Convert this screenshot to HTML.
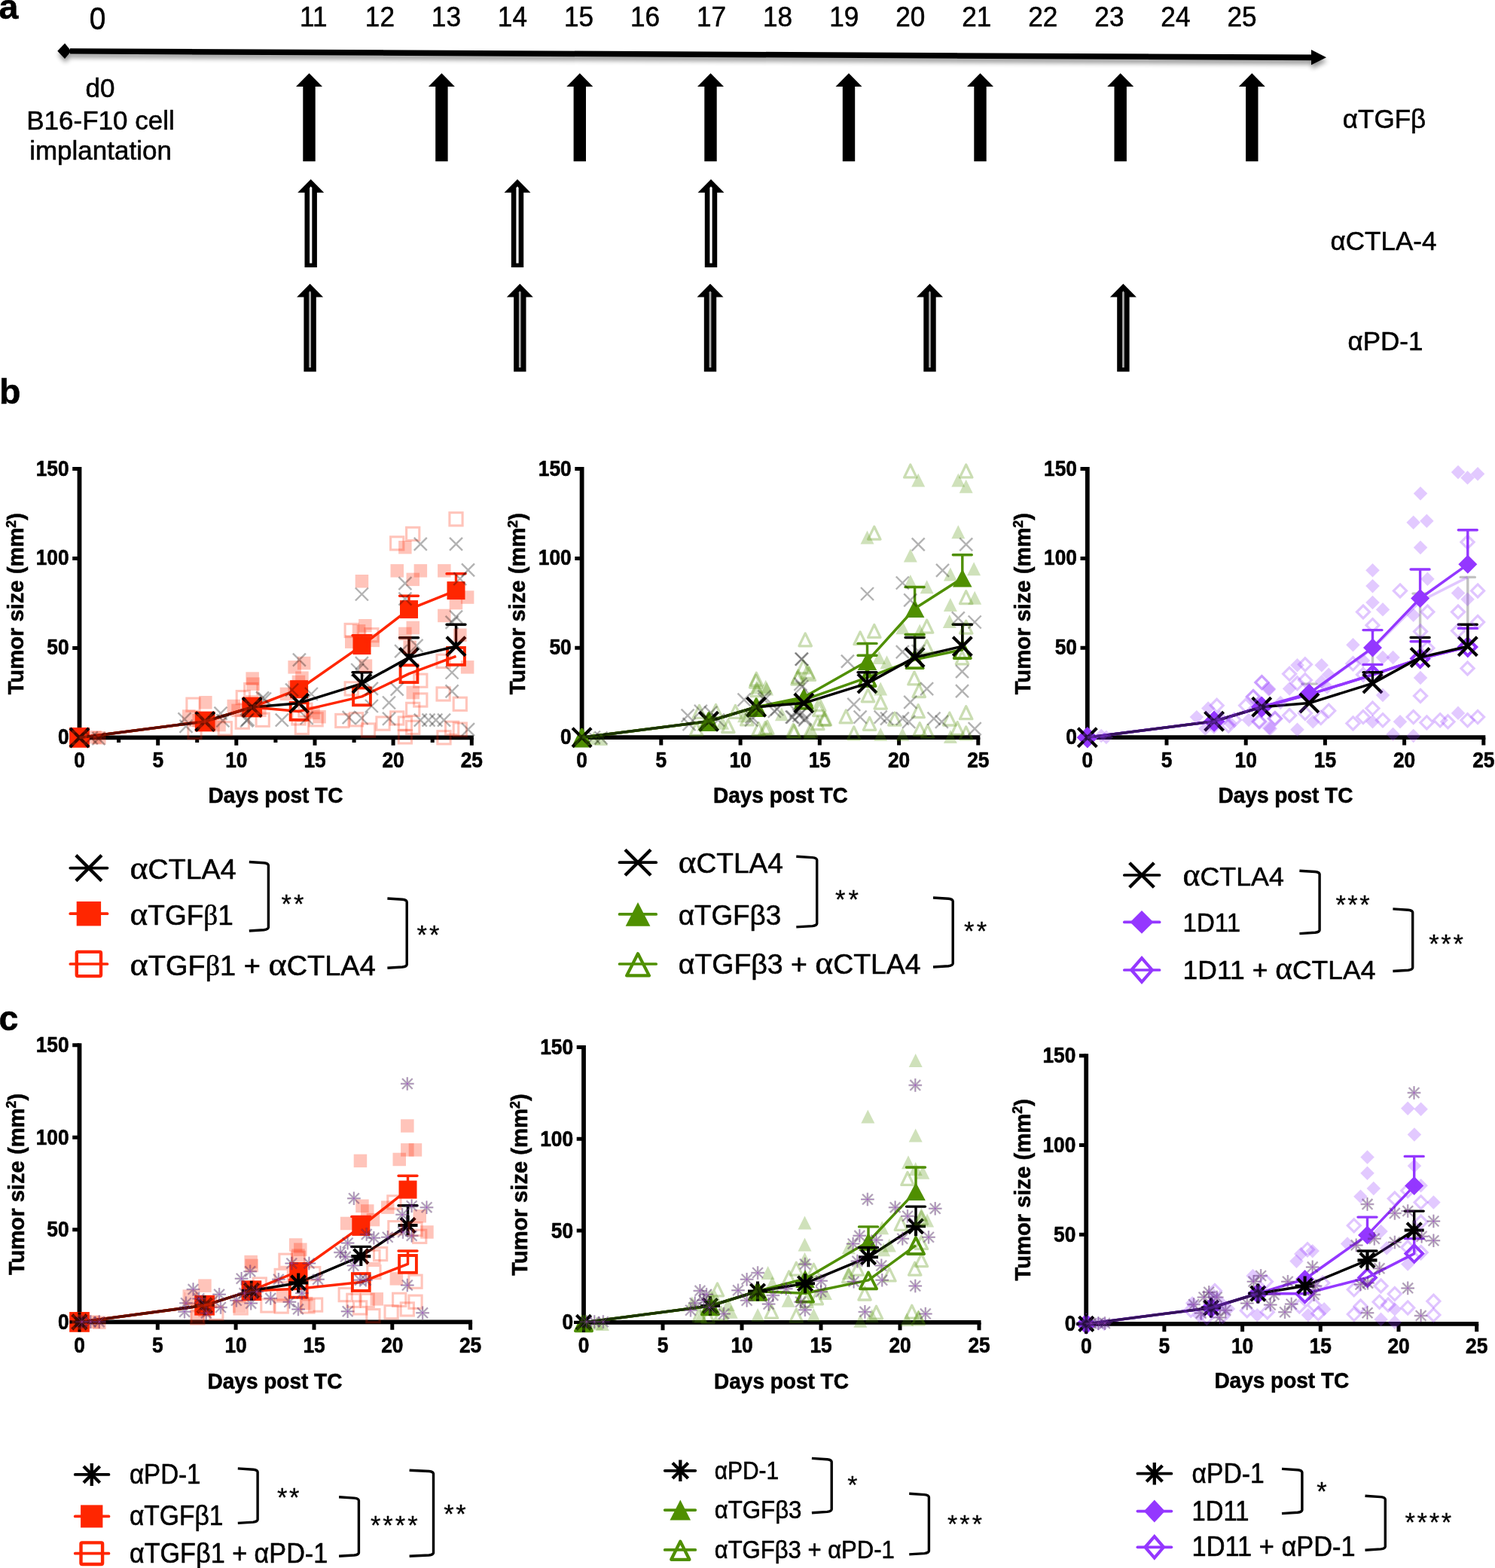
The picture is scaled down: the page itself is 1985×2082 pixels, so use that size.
<!DOCTYPE html>
<html lang="en">
<head>
<meta charset="utf-8">
<title>TGF-beta isoform blockade with checkpoint inhibitors: tumor growth</title>
<style>
html,body{margin:0;padding:0;background:#fff;}
body{width:1985px;height:2082px;}
svg{display:block;}
text{font-family:"Liberation Sans","DejaVu Sans",sans-serif;fill:#000;stroke:#000;stroke-width:0.55px;stroke-linejoin:round;}
.b{font-weight:bold;}
.sym{font-family:"Liberation Serif","DejaVu Serif",serif;}
</style>
</head>
<body>
<svg width="1985" height="2082" viewBox="0 0 1985 2082">
<defs>
<filter id="sh" x="-5%" y="-300%" width="110%" height="700%">
<feGaussianBlur in="SourceAlpha" stdDeviation="3"/>
<feOffset dx="0.5" dy="4.6" result="o"/>
<feComponentTransfer><feFuncA type="linear" slope="0.42"/></feComponentTransfer>
<feMerge><feMergeNode/><feMergeNode in="SourceGraphic"/></feMerge>
</filter>
</defs>
<rect width="1985" height="2082" fill="#fff"/>
<g id="panel-a">
<text class="b" x="-1.5" y="25.2" font-size="46.5">a</text>
<text transform="translate(129.5 38.5) scale(0.9 1)" font-size="43.3" text-anchor="middle">0</text>
<text transform="translate(416.3 35.4) scale(0.93 1)" font-size="37.8" text-anchor="middle">11</text>
<text transform="translate(504.4 35.4) scale(0.93 1)" font-size="37.8" text-anchor="middle">12</text>
<text transform="translate(592.4 35.4) scale(0.93 1)" font-size="37.8" text-anchor="middle">13</text>
<text transform="translate(680.4 35.4) scale(0.93 1)" font-size="37.8" text-anchor="middle">14</text>
<text transform="translate(768.5 35.4) scale(0.93 1)" font-size="37.8" text-anchor="middle">15</text>
<text transform="translate(856.5 35.4) scale(0.93 1)" font-size="37.8" text-anchor="middle">16</text>
<text transform="translate(944.6 35.4) scale(0.93 1)" font-size="37.8" text-anchor="middle">17</text>
<text transform="translate(1032.6 35.4) scale(0.93 1)" font-size="37.8" text-anchor="middle">18</text>
<text transform="translate(1120.7 35.4) scale(0.93 1)" font-size="37.8" text-anchor="middle">19</text>
<text transform="translate(1208.7 35.4) scale(0.93 1)" font-size="37.8" text-anchor="middle">20</text>
<text transform="translate(1296.8 35.4) scale(0.93 1)" font-size="37.8" text-anchor="middle">21</text>
<text transform="translate(1384.8 35.4) scale(0.93 1)" font-size="37.8" text-anchor="middle">22</text>
<text transform="translate(1472.9 35.4) scale(0.93 1)" font-size="37.8" text-anchor="middle">23</text>
<text transform="translate(1560.9 35.4) scale(0.93 1)" font-size="37.8" text-anchor="middle">24</text>
<text transform="translate(1649 35.4) scale(0.93 1)" font-size="37.8" text-anchor="middle">25</text>
<g filter="url(#sh)">
<path d="M93 64.2L1745 72.6L1745 80.2L93 71.6Z" fill="#000"/>
<path d="M76.3 67.8L86.1 57.6L94.5 67.9L86 78Z" fill="#000"/>
<path d="M1741 66L1761 76.3L1741 86.2Z" fill="#000"/>
</g>
<text x="133" y="129" font-size="35" text-anchor="middle">d0</text>
<text x="133.5" y="172" font-size="35" text-anchor="middle">B16-F10 cell</text>
<text x="133.5" y="211.5" font-size="35" text-anchor="middle">implantation</text>
<path d="M410.5 97.3L428 115.1L418.7 115.1L418.7 214.3L402.3 214.3L402.3 115.1L393 115.1Z" fill="#000"/>
<path d="M586.4 97.3L603.9 115.1L594.6 115.1L594.6 214.3L578.2 214.3L578.2 115.1L568.9 115.1Z" fill="#000"/>
<path d="M769.8 97.3L787.3 115.1L778 115.1L778 214.3L761.6 214.3L761.6 115.1L752.3 115.1Z" fill="#000"/>
<path d="M943.5 97.3L961 115.1L951.7 115.1L951.7 214.3L935.3 214.3L935.3 115.1L926 115.1Z" fill="#000"/>
<path d="M1127 97.3L1144.5 115.1L1135.2 115.1L1135.2 214.3L1118.8 214.3L1118.8 115.1L1109.5 115.1Z" fill="#000"/>
<path d="M1301.5 97.3L1319 115.1L1309.7 115.1L1309.7 214.3L1293.3 214.3L1293.3 115.1L1284 115.1Z" fill="#000"/>
<path d="M1487.7 97.3L1505.2 115.1L1495.9 115.1L1495.9 214.3L1479.5 214.3L1479.5 115.1L1470.2 115.1Z" fill="#000"/>
<path d="M1662.3 97.3L1679.8 115.1L1670.5 115.1L1670.5 214.3L1654.1 214.3L1654.1 115.1L1644.8 115.1Z" fill="#000"/>
<path d="M412.7 238L430.2 255.8L420.9 255.8L420.9 355L404.5 355L404.5 255.8L395.2 255.8Z" fill="#000"/><path d="M411.1 349.5L411.1 249.5L412.7 247.5L414.3 249.5L414.3 349.5Z" fill="#fff"/>
<path d="M687 238L704.5 255.8L695.2 255.8L695.2 355L678.8 355L678.8 255.8L669.5 255.8Z" fill="#000"/><path d="M685.4 349.5L685.4 249.5L687 247.5L688.6 249.5L688.6 349.5Z" fill="#fff"/>
<path d="M944 238L961.5 255.8L952.2 255.8L952.2 355L935.8 355L935.8 255.8L926.5 255.8Z" fill="#000"/><path d="M942.4 349.5L942.4 249.5L944 247.5L945.6 249.5L945.6 349.5Z" fill="#fff"/>
<path d="M411.6 376.7L429.1 394.5L419.8 394.5L419.8 493.5L403.4 493.5L403.4 394.5L394.1 394.5Z" fill="#000"/><path d="M410.2 488L410.2 388.2L411.6 386.2L413 388.2L413 488Z" fill="#adadad"/>
<path d="M690.3 376.7L707.8 394.5L698.5 394.5L698.5 493.5L682.1 493.5L682.1 394.5L672.8 394.5Z" fill="#000"/><path d="M688.9 488L688.9 388.2L690.3 386.2L691.6 388.2L691.6 488Z" fill="#adadad"/>
<path d="M943 376.7L960.5 394.5L951.2 394.5L951.2 493.5L934.8 493.5L934.8 394.5L925.5 394.5Z" fill="#000"/><path d="M941.6 488L941.6 388.2L943 386.2L944.4 388.2L944.4 488Z" fill="#adadad"/>
<path d="M1234.5 376.7L1252 394.5L1242.7 394.5L1242.7 493.5L1226.3 493.5L1226.3 394.5L1217 394.5Z" fill="#000"/><path d="M1233.2 488L1233.2 388.2L1234.5 386.2L1235.8 388.2L1235.8 488Z" fill="#adadad"/>
<path d="M1491.4 376.7L1508.9 394.5L1499.6 394.5L1499.6 493.5L1483.2 493.5L1483.2 394.5L1473.9 394.5Z" fill="#000"/><path d="M1490.1 488L1490.1 388.2L1491.4 386.2L1492.8 388.2L1492.8 488Z" fill="#adadad"/>
<text x="1838" y="169.5" font-size="35" text-anchor="middle">αTGFβ</text>
<text x="1837" y="331.5" font-size="35" text-anchor="middle">αCTLA-4</text>
<text x="1839.5" y="465" font-size="35" text-anchor="middle">αPD-1</text>
<text class="b" x="-1" y="536" font-size="46.5">b</text>
<text class="b" x="-1.5" y="1367.8" font-size="46.5">c</text>
</g>
<g id="b1">
<path d="M105.5 620.1L105.5 979.4L628.8 979.4" fill="none" stroke="#000" stroke-width="5.8" stroke-linejoin="miter"/>
<path d="M96.2 860.5L105.5 860.5M96.2 741.5L105.5 741.5M96.2 622.6L105.5 622.6M105.5 979.4L105.5 989.7M209.7 979.4L209.7 989.7M313.8 979.4L313.8 989.7M418 979.4L418 989.7M522.1 979.4L522.1 989.7M626.3 979.4L626.3 989.7M157.6 979.4L157.6 986M261.7 979.4L261.7 986M365.9 979.4L365.9 986M470.1 979.4L470.1 986M574.2 979.4L574.2 986" fill="none" stroke="#000" stroke-width="5"/>
<text class="b" transform="translate(91.6 988.3) scale(1 1.11)" font-size="26.3" text-anchor="end">0</text>
<text class="b" transform="translate(91.6 869.4) scale(1 1.11)" font-size="26.3" text-anchor="end">50</text>
<text class="b" transform="translate(91.6 750.4) scale(1 1.11)" font-size="26.3" text-anchor="end">100</text>
<text class="b" transform="translate(91.6 631.5) scale(1 1.11)" font-size="26.3" text-anchor="end">150</text>
<text class="b" transform="translate(105.5 1018.5) scale(1 1.11)" font-size="26.3" text-anchor="middle">0</text>
<text class="b" transform="translate(209.7 1018.5) scale(1 1.11)" font-size="26.3" text-anchor="middle">5</text>
<text class="b" transform="translate(313.8 1018.5) scale(1 1.11)" font-size="26.3" text-anchor="middle">10</text>
<text class="b" transform="translate(418 1018.5) scale(1 1.11)" font-size="26.3" text-anchor="middle">15</text>
<text class="b" transform="translate(522.1 1018.5) scale(1 1.11)" font-size="26.3" text-anchor="middle">20</text>
<text class="b" transform="translate(626.3 1018.5) scale(1 1.11)" font-size="26.3" text-anchor="middle">25</text>
<text class="b" transform="translate(366 1066) scale(1 1.075)" font-size="28" text-anchor="middle">Days post TC</text>
<text class="b" transform="translate(31.3 801.6) rotate(-90)" font-size="29.2" text-anchor="middle">Tumor size (mm<tspan font-size="18" dy="-10.5">2</tspan><tspan dy="10.5">)</tspan></text>
<polyline points="105.5,979.4 272.2,958 334.7,939 397.1,944.4 480.5,924.9 543,894.7 605.5,871.4" fill="none" stroke="#ff2600" stroke-width="3.5" stroke-linejoin="round"/>
<rect x="94.1" y="968" width="22.8" height="22.8" fill="none" stroke="#ff2600" stroke-width="3.9"/>
<rect x="260.8" y="946.6" width="22.8" height="22.8" fill="none" stroke="#ff2600" stroke-width="3.9"/>
<rect x="323.3" y="927.6" width="22.8" height="22.8" fill="none" stroke="#ff2600" stroke-width="3.9"/>
<rect x="385.7" y="933" width="22.8" height="22.8" fill="none" stroke="#ff2600" stroke-width="3.9"/>
<rect x="469.1" y="913.5" width="22.8" height="22.8" fill="none" stroke="#ff2600" stroke-width="3.9"/>
<rect x="531.6" y="883.3" width="22.8" height="22.8" fill="none" stroke="#ff2600" stroke-width="3.9"/>
<rect x="594.1" y="860" width="22.8" height="22.8" fill="none" stroke="#ff2600" stroke-width="3.9"/>
<path d="M480.5 857.1L480.5 843.8M468 843.8L493 843.8" stroke="#ff2600" stroke-width="3.4" fill="none" stroke-linecap="round"/>
<path d="M543 809.1L543 791.2M530.5 791.2L555.5 791.2" stroke="#ff2600" stroke-width="3.4" fill="none" stroke-linecap="round"/>
<path d="M605.5 784.1L605.5 761.8M593 761.8L618 761.8" stroke="#ff2600" stroke-width="3.4" fill="none" stroke-linecap="round"/>
<polyline points="105.5,979.4 272.2,958 334.7,939 397.1,915.2 480.5,857.1 543,809.1 605.5,784.1" fill="none" stroke="#ff2600" stroke-width="3.5" stroke-linejoin="round"/>
<rect x="93.5" y="967.4" width="24" height="24" fill="#ff2600"/>
<rect x="260.2" y="946" width="24" height="24" fill="#ff2600"/>
<rect x="322.7" y="927" width="24" height="24" fill="#ff2600"/>
<rect x="385.1" y="903.2" width="24" height="24" fill="#ff2600"/>
<rect x="468.5" y="845.1" width="24" height="24" fill="#ff2600"/>
<rect x="531" y="797.1" width="24" height="24" fill="#ff2600"/>
<rect x="593.5" y="772.1" width="24" height="24" fill="#ff2600"/>
<path d="M480.5 907.6L480.5 892.8M468 892.8L493 892.8" stroke="#000" stroke-width="3.4" fill="none" stroke-linecap="round"/>
<path d="M543 873.1L543 846.7M530.5 846.7L555.5 846.7" stroke="#000" stroke-width="3.4" fill="none" stroke-linecap="round"/>
<path d="M605.5 858.3L605.5 829.3M593 829.3L618 829.3" stroke="#000" stroke-width="3.4" fill="none" stroke-linecap="round"/>
<polyline points="105.5,979.4 272.2,958 334.7,939 397.1,933.7 480.5,907.6 543,873.1 605.5,858.3" fill="none" stroke="#000" stroke-width="3.5" stroke-linejoin="round"/>
<path d="M93 966.9L118 991.9M93 991.9L118 966.9" stroke="#000" stroke-width="4.2" fill="none"/>
<path d="M259.7 945.5L284.7 970.5M259.7 970.5L284.7 945.5" stroke="#000" stroke-width="4.2" fill="none"/>
<path d="M322.2 926.5L347.2 951.5M322.2 951.5L347.2 926.5" stroke="#000" stroke-width="4.2" fill="none"/>
<path d="M384.6 921.2L409.6 946.2M384.6 946.2L409.6 921.2" stroke="#000" stroke-width="4.2" fill="none"/>
<path d="M468 895.1L493 920.1M468 920.1L493 895.1" stroke="#000" stroke-width="4.2" fill="none"/>
<path d="M530.5 860.6L555.5 885.6M530.5 885.6L555.5 860.6" stroke="#000" stroke-width="4.2" fill="none"/>
<path d="M593 845.8L618 870.8M593 870.8L618 845.8" stroke="#000" stroke-width="4.2" fill="none"/>
<polyline points="105.5,979.4 272.2,958 334.7,939" fill="none" stroke="#ff2600" stroke-width="3.5" opacity="0.2"/>
<rect x="96.8" y="970.7" width="17.5" height="17.5" fill="none" stroke="#ff2600" stroke-width="3.9" opacity="0.25"/>
<rect x="263.4" y="949.3" width="17.5" height="17.5" fill="none" stroke="#ff2600" stroke-width="3.9" opacity="0.25"/>
<rect x="325.9" y="930.2" width="17.5" height="17.5" fill="none" stroke="#ff2600" stroke-width="3.9" opacity="0.25"/>
<polyline points="105.5,979.4 272.2,958 334.7,939" fill="none" stroke="#ff2600" stroke-width="3.5" opacity="0.2"/>
<rect x="95.9" y="969.8" width="19.2" height="19.2" fill="#ff2600" opacity="0.25"/>
<rect x="262.6" y="948.4" width="19.2" height="19.2" fill="#ff2600" opacity="0.25"/>
<rect x="325.1" y="929.4" width="19.2" height="19.2" fill="#ff2600" opacity="0.25"/>
<g>
<rect x="529.1" y="718" width="17.5" height="17.5" fill="#ff2600" opacity="0.27"/>
<rect x="518.5" y="749.1" width="17.5" height="17.5" fill="#ff2600" opacity="0.27"/>
<rect x="549.6" y="749.1" width="17.5" height="17.5" fill="#ff2600" opacity="0.27"/>
<rect x="539.5" y="760.6" width="17.5" height="17.5" fill="#ff2600" opacity="0.27"/>
<rect x="471.7" y="763" width="17.5" height="17.5" fill="#ff2600" opacity="0.27"/>
<rect x="581.1" y="749.1" width="17.5" height="17.5" fill="#ff2600" opacity="0.27"/>
<rect x="611.9" y="784.3" width="17.5" height="17.5" fill="#ff2600" opacity="0.27"/>
<rect x="596.7" y="791.8" width="17.5" height="17.5" fill="#ff2600" opacity="0.27"/>
<rect x="581.1" y="808.7" width="17.5" height="17.5" fill="#ff2600" opacity="0.27"/>
<rect x="539.5" y="824.7" width="17.5" height="17.5" fill="#ff2600" opacity="0.27"/>
<rect x="529.1" y="832.7" width="17.5" height="17.5" fill="#ff2600" opacity="0.27"/>
<rect x="476.1" y="822" width="17.5" height="17.5" fill="#ff2600" opacity="0.27"/>
<rect x="467.8" y="829.1" width="17.5" height="17.5" fill="#ff2600" opacity="0.27"/>
<rect x="486.5" y="841.6" width="17.5" height="17.5" fill="#ff2600" opacity="0.27"/>
<rect x="458" y="843.4" width="17.5" height="17.5" fill="#ff2600" opacity="0.27"/>
<rect x="602.1" y="834.5" width="17.5" height="17.5" fill="#ff2600" opacity="0.27"/>
<rect x="611.9" y="877.1" width="17.5" height="17.5" fill="#ff2600" opacity="0.27"/>
<rect x="539.5" y="910.9" width="17.5" height="17.5" fill="#ff2600" opacity="0.27"/>
<rect x="394.9" y="871.8" width="17.5" height="17.5" fill="#ff2600" opacity="0.27"/>
<rect x="382.4" y="877.1" width="17.5" height="17.5" fill="#ff2600" opacity="0.27"/>
<rect x="392.2" y="891.4" width="17.5" height="17.5" fill="#ff2600" opacity="0.27"/>
<rect x="387.7" y="896.7" width="17.5" height="17.5" fill="#ff2600" opacity="0.27"/>
<rect x="326.4" y="892.3" width="17.5" height="17.5" fill="#ff2600" opacity="0.27"/>
<rect x="327.3" y="899.4" width="17.5" height="17.5" fill="#ff2600" opacity="0.27"/>
<rect x="476.7" y="875.4" width="17.5" height="17.5" fill="#ff2600" opacity="0.27"/>
<rect x="535.4" y="850.5" width="17.5" height="17.5" fill="#ff2600" opacity="0.27"/>
<rect x="415.3" y="943" width="17.5" height="17.5" fill="#ff2600" opacity="0.27"/>
<rect x="407.3" y="937.6" width="17.5" height="17.5" fill="#ff2600" opacity="0.27"/>
<rect x="371.7" y="912.7" width="17.5" height="17.5" fill="#ff2600" opacity="0.27"/>
<rect x="382.4" y="903.8" width="17.5" height="17.5" fill="#ff2600" opacity="0.27"/>
<rect x="117.3" y="970.1" width="17.5" height="17.5" fill="#ff2600" opacity="0.27"/>
<rect x="123.1" y="971" width="17.5" height="17.5" fill="#ff2600" opacity="0.27"/>
<rect x="264.1" y="924" width="17.5" height="17.5" fill="#ff2600" opacity="0.27"/>
<rect x="242" y="942.3" width="17.5" height="17.5" fill="#ff2600" opacity="0.27"/>
<rect x="282.3" y="953.8" width="17.5" height="17.5" fill="#ff2600" opacity="0.27"/>
<rect x="255.5" y="948" width="17.5" height="17.5" fill="#ff2600" opacity="0.27"/>
<rect x="270.8" y="951.8" width="17.5" height="17.5" fill="#ff2600" opacity="0.27"/>
<rect x="301.5" y="928.8" width="17.5" height="17.5" fill="#ff2600" opacity="0.27"/>
<rect x="307.3" y="934.6" width="17.5" height="17.5" fill="#ff2600" opacity="0.27"/>
<rect x="336.1" y="934.6" width="17.5" height="17.5" fill="#ff2600" opacity="0.27"/>
</g>
<g>
<rect x="596.9" y="680.7" width="17.2" height="17.2" fill="none" stroke="#ff2600" stroke-width="3.1" opacity="0.27"/>
<rect x="539.6" y="700.3" width="17.2" height="17.2" fill="none" stroke="#ff2600" stroke-width="3.1" opacity="0.27"/>
<rect x="518.6" y="712.8" width="17.2" height="17.2" fill="none" stroke="#ff2600" stroke-width="3.1" opacity="0.27"/>
<rect x="458.1" y="828.4" width="17.2" height="17.2" fill="none" stroke="#ff2600" stroke-width="3.1" opacity="0.27"/>
<rect x="484.8" y="834.6" width="17.2" height="17.2" fill="none" stroke="#ff2600" stroke-width="3.1" opacity="0.27"/>
<rect x="549.7" y="895.1" width="17.2" height="17.2" fill="none" stroke="#ff2600" stroke-width="3.1" opacity="0.27"/>
<rect x="580" y="869.3" width="17.2" height="17.2" fill="none" stroke="#ff2600" stroke-width="3.1" opacity="0.27"/>
<rect x="580" y="912.9" width="17.2" height="17.2" fill="none" stroke="#ff2600" stroke-width="3.1" opacity="0.27"/>
<rect x="602.2" y="926.2" width="17.2" height="17.2" fill="none" stroke="#ff2600" stroke-width="3.1" opacity="0.27"/>
<rect x="549.7" y="920.9" width="17.2" height="17.2" fill="none" stroke="#ff2600" stroke-width="3.1" opacity="0.27"/>
<rect x="539.6" y="933.3" width="17.2" height="17.2" fill="none" stroke="#ff2600" stroke-width="3.1" opacity="0.27"/>
<rect x="458.1" y="905.8" width="17.2" height="17.2" fill="none" stroke="#ff2600" stroke-width="3.1" opacity="0.27"/>
<rect x="518.6" y="944.9" width="17.2" height="17.2" fill="none" stroke="#ff2600" stroke-width="3.1" opacity="0.27"/>
<rect x="529.3" y="952" width="17.2" height="17.2" fill="none" stroke="#ff2600" stroke-width="3.1" opacity="0.27"/>
<rect x="445.7" y="948.4" width="17.2" height="17.2" fill="none" stroke="#ff2600" stroke-width="3.1" opacity="0.27"/>
<rect x="464.4" y="946.7" width="17.2" height="17.2" fill="none" stroke="#ff2600" stroke-width="3.1" opacity="0.27"/>
<rect x="480.4" y="960.9" width="17.2" height="17.2" fill="none" stroke="#ff2600" stroke-width="3.1" opacity="0.27"/>
<rect x="499.9" y="952" width="17.2" height="17.2" fill="none" stroke="#ff2600" stroke-width="3.1" opacity="0.27"/>
<rect x="539.6" y="957.3" width="17.2" height="17.2" fill="none" stroke="#ff2600" stroke-width="3.1" opacity="0.27"/>
<rect x="529.3" y="969.8" width="17.2" height="17.2" fill="none" stroke="#ff2600" stroke-width="3.1" opacity="0.27"/>
<rect x="580.9" y="970.7" width="17.2" height="17.2" fill="none" stroke="#ff2600" stroke-width="3.1" opacity="0.27"/>
<rect x="602.2" y="960" width="17.2" height="17.2" fill="none" stroke="#ff2600" stroke-width="3.1" opacity="0.27"/>
<rect x="591.5" y="958.2" width="17.2" height="17.2" fill="none" stroke="#ff2600" stroke-width="3.1" opacity="0.27"/>
<rect x="392.3" y="957.3" width="17.2" height="17.2" fill="none" stroke="#ff2600" stroke-width="3.1" opacity="0.27"/>
<rect x="411" y="946.7" width="17.2" height="17.2" fill="none" stroke="#ff2600" stroke-width="3.1" opacity="0.27"/>
<rect x="387.9" y="944.9" width="17.2" height="17.2" fill="none" stroke="#ff2600" stroke-width="3.1" opacity="0.27"/>
<rect x="324.7" y="907.5" width="17.2" height="17.2" fill="none" stroke="#ff2600" stroke-width="3.1" opacity="0.27"/>
<rect x="396.8" y="934.2" width="17.2" height="17.2" fill="none" stroke="#ff2600" stroke-width="3.1" opacity="0.27"/>
<rect x="247.9" y="927.1" width="17.2" height="17.2" fill="none" stroke="#ff2600" stroke-width="3.1" opacity="0.27"/>
<rect x="290.2" y="958.7" width="17.2" height="17.2" fill="none" stroke="#ff2600" stroke-width="3.1" opacity="0.27"/>
<rect x="249.9" y="963.5" width="17.2" height="17.2" fill="none" stroke="#ff2600" stroke-width="3.1" opacity="0.27"/>
<rect x="314.2" y="917.5" width="17.2" height="17.2" fill="none" stroke="#ff2600" stroke-width="3.1" opacity="0.27"/>
<rect x="313.2" y="950.1" width="17.2" height="17.2" fill="none" stroke="#ff2600" stroke-width="3.1" opacity="0.27"/>
<rect x="340.1" y="947.2" width="17.2" height="17.2" fill="none" stroke="#ff2600" stroke-width="3.1" opacity="0.27"/>
</g>
<g>
<path d="M549.8 713.8L566.8 730.8M549.8 730.8L566.8 713.8" stroke="#000" stroke-width="2.4" fill="none" opacity="0.3"/>
<path d="M597 713.8L614 730.8M597 730.8L614 713.8" stroke="#000" stroke-width="2.4" fill="none" opacity="0.3"/>
<path d="M613 748.4L630 765.4M613 765.4L630 748.4" stroke="#000" stroke-width="2.4" fill="none" opacity="0.3"/>
<path d="M529.4 766.2L546.4 783.2M529.4 783.2L546.4 766.2" stroke="#000" stroke-width="2.4" fill="none" opacity="0.3"/>
<path d="M471.9 780.5L488.9 797.5M471.9 797.5L488.9 780.5" stroke="#000" stroke-width="2.4" fill="none" opacity="0.3"/>
<path d="M602.3 760L619.3 777M602.3 777L619.3 760" stroke="#000" stroke-width="2.4" fill="none" opacity="0.3"/>
<path d="M529.4 786.7L546.4 803.7M529.4 803.7L546.4 786.7" stroke="#000" stroke-width="2.4" fill="none" opacity="0.3"/>
<path d="M597 810.7L614 827.7M597 827.7L614 810.7" stroke="#000" stroke-width="2.4" fill="none" opacity="0.3"/>
<path d="M591.6 817.8L608.6 834.8M591.6 834.8L608.6 817.8" stroke="#000" stroke-width="2.4" fill="none" opacity="0.3"/>
<path d="M388.9 867.6L405.9 884.6M388.9 884.6L405.9 867.6" stroke="#000" stroke-width="2.4" fill="none" opacity="0.3"/>
<path d="M471.9 872.1L488.9 889.1M471.9 889.1L488.9 872.1" stroke="#000" stroke-width="2.4" fill="none" opacity="0.3"/>
<path d="M466.2 881L483.2 898M466.2 898L483.2 881" stroke="#000" stroke-width="2.4" fill="none" opacity="0.3"/>
<path d="M544.5 848.9L561.5 865.9M544.5 865.9L561.5 848.9" stroke="#000" stroke-width="2.4" fill="none" opacity="0.3"/>
<path d="M524.1 856.1L541.1 873.1M524.1 873.1L541.1 856.1" stroke="#000" stroke-width="2.4" fill="none" opacity="0.3"/>
<path d="M518.7 906.7L535.7 923.7M518.7 923.7L535.7 906.7" stroke="#000" stroke-width="2.4" fill="none" opacity="0.3"/>
<path d="M591.6 884.5L608.6 901.5M591.6 901.5L608.6 884.5" stroke="#000" stroke-width="2.4" fill="none" opacity="0.3"/>
<path d="M591.6 909.4L608.6 926.4M591.6 926.4L608.6 909.4" stroke="#000" stroke-width="2.4" fill="none" opacity="0.3"/>
<path d="M484.9 905.9L501.9 922.9M484.9 922.9L501.9 905.9" stroke="#000" stroke-width="2.4" fill="none" opacity="0.3"/>
<path d="M508 924.5L525 941.5M508 941.5L525 924.5" stroke="#000" stroke-width="2.4" fill="none" opacity="0.3"/>
<path d="M484.9 929L501.9 946M484.9 946L501.9 929" stroke="#000" stroke-width="2.4" fill="none" opacity="0.3"/>
<path d="M454.7 944.1L471.7 961.1M454.7 961.1L471.7 944.1" stroke="#000" stroke-width="2.4" fill="none" opacity="0.3"/>
<path d="M471.6 945L488.6 962M471.6 962L488.6 945" stroke="#000" stroke-width="2.4" fill="none" opacity="0.3"/>
<path d="M508 945.9L525 962.9M508 962.9L525 945.9" stroke="#000" stroke-width="2.4" fill="none" opacity="0.3"/>
<path d="M549.8 947.7L566.8 964.7M549.8 964.7L566.8 947.7" stroke="#000" stroke-width="2.4" fill="none" opacity="0.3"/>
<path d="M560.5 947.7L577.5 964.7M560.5 964.7L577.5 947.7" stroke="#000" stroke-width="2.4" fill="none" opacity="0.3"/>
<path d="M570.3 947.7L587.3 964.7M570.3 964.7L587.3 947.7" stroke="#000" stroke-width="2.4" fill="none" opacity="0.3"/>
<path d="M581 947.7L598 964.7M581 964.7L598 947.7" stroke="#000" stroke-width="2.4" fill="none" opacity="0.3"/>
<path d="M613 960.1L630 977.1M613 977.1L630 960.1" stroke="#000" stroke-width="2.4" fill="none" opacity="0.3"/>
<path d="M365.8 947.7L382.8 964.7M365.8 964.7L382.8 947.7" stroke="#000" stroke-width="2.4" fill="none" opacity="0.3"/>
<path d="M398.7 945L415.7 962M398.7 962L415.7 945" stroke="#000" stroke-width="2.4" fill="none" opacity="0.3"/>
<path d="M320.4 946.8L337.4 963.8M320.4 963.8L337.4 946.8" stroke="#000" stroke-width="2.4" fill="none" opacity="0.3"/>
<path d="M379.1 907.6L396.1 924.6M379.1 924.6L396.1 907.6" stroke="#000" stroke-width="2.4" fill="none" opacity="0.3"/>
<path d="M404.9 913L421.9 930M404.9 930L421.9 913" stroke="#000" stroke-width="2.4" fill="none" opacity="0.3"/>
<path d="M340 918.3L357 935.3M340 935.3L357 918.3" stroke="#000" stroke-width="2.4" fill="none" opacity="0.3"/>
<path d="M112.8 971.3L129.8 988.3M112.8 988.3L129.8 971.3" stroke="#000" stroke-width="2.4" fill="none" opacity="0.3"/>
<path d="M122.4 972.2L139.4 989.2M122.4 989.2L139.4 972.2" stroke="#000" stroke-width="2.4" fill="none" opacity="0.3"/>
<path d="M236.5 946.3L253.5 963.3M236.5 963.3L253.5 946.3" stroke="#000" stroke-width="2.4" fill="none" opacity="0.3"/>
<path d="M238.5 955.9L255.5 972.9M238.5 972.9L255.5 955.9" stroke="#000" stroke-width="2.4" fill="none" opacity="0.3"/>
<path d="M284.5 938.7L301.5 955.7M284.5 955.7L301.5 938.7" stroke="#000" stroke-width="2.4" fill="none" opacity="0.3"/>
<path d="M287.4 948.3L304.4 965.3M287.4 965.3L304.4 948.3" stroke="#000" stroke-width="2.4" fill="none" opacity="0.3"/>
<path d="M319.1 948.3L336.1 965.3M319.1 965.3L336.1 948.3" stroke="#000" stroke-width="2.4" fill="none" opacity="0.3"/>
<path d="M343 919.5L360 936.5M343 936.5L360 919.5" stroke="#000" stroke-width="2.4" fill="none" opacity="0.3"/>
</g>
</g>
<g id="b2">
<path d="M772.6 620.1L772.6 979.2L1301.3 979.2" fill="none" stroke="#000" stroke-width="5.8" stroke-linejoin="miter"/>
<path d="M763.3 860.3L772.6 860.3M763.3 741.5L772.6 741.5M763.3 622.6L772.6 622.6M772.6 979.2L772.6 989.5M877.8 979.2L877.8 989.5M983.1 979.2L983.1 989.5M1088.3 979.2L1088.3 989.5M1193.6 979.2L1193.6 989.5M1298.8 979.2L1298.8 989.5" fill="none" stroke="#000" stroke-width="5"/>
<text class="b" transform="translate(758.7 988.1) scale(1 1.11)" font-size="26.3" text-anchor="end">0</text>
<text class="b" transform="translate(758.7 869.2) scale(1 1.11)" font-size="26.3" text-anchor="end">50</text>
<text class="b" transform="translate(758.7 750.4) scale(1 1.11)" font-size="26.3" text-anchor="end">100</text>
<text class="b" transform="translate(758.7 631.5) scale(1 1.11)" font-size="26.3" text-anchor="end">150</text>
<text class="b" transform="translate(772.6 1018.5) scale(1 1.11)" font-size="26.3" text-anchor="middle">0</text>
<text class="b" transform="translate(877.8 1018.5) scale(1 1.11)" font-size="26.3" text-anchor="middle">5</text>
<text class="b" transform="translate(983.1 1018.5) scale(1 1.11)" font-size="26.3" text-anchor="middle">10</text>
<text class="b" transform="translate(1088.3 1018.5) scale(1 1.11)" font-size="26.3" text-anchor="middle">15</text>
<text class="b" transform="translate(1193.6 1018.5) scale(1 1.11)" font-size="26.3" text-anchor="middle">20</text>
<text class="b" transform="translate(1298.8 1018.5) scale(1 1.11)" font-size="26.3" text-anchor="middle">25</text>
<text class="b" transform="translate(1036.4 1066) scale(1 1.075)" font-size="28" text-anchor="middle">Days post TC</text>
<text class="b" transform="translate(697.1 801.6) rotate(-90)" font-size="29.2" text-anchor="middle">Tumor size (mm<tspan font-size="18" dy="-10.5">2</tspan><tspan dy="10.5">)</tspan></text>
<path d="M1151.5 899.6L1151.5 870.3M1139 870.3L1164 870.3" stroke="#4f8f00" stroke-width="3.4" fill="none" stroke-linecap="round"/>
<path d="M1214.6 875.8L1214.6 842.5M1202.1 842.5L1227.1 842.5" stroke="#4f8f00" stroke-width="3.4" fill="none" stroke-linecap="round"/>
<path d="M1277.8 862.7L1277.8 829.4M1265.3 829.4L1290.3 829.4" stroke="#4f8f00" stroke-width="3.4" fill="none" stroke-linecap="round"/>
<polyline points="772.6,979.2 941,957.8 1004.1,938.8 1067.3,929.3 1151.5,899.6 1214.6,875.8 1277.8,862.7" fill="none" stroke="#4f8f00" stroke-width="3.5" stroke-linejoin="round"/>
<path d="M772.6 968.7L783.7 990.6L761.5 990.6Z" fill="none" stroke="#4f8f00" stroke-width="3.8" stroke-linejoin="round"/>
<path d="M941 947.3L952.1 969.2L929.9 969.2Z" fill="none" stroke="#4f8f00" stroke-width="3.8" stroke-linejoin="round"/>
<path d="M1004.1 928.3L1015.2 950.2L993 950.2Z" fill="none" stroke="#4f8f00" stroke-width="3.8" stroke-linejoin="round"/>
<path d="M1067.3 918.8L1078.4 940.7L1056.2 940.7Z" fill="none" stroke="#4f8f00" stroke-width="3.8" stroke-linejoin="round"/>
<path d="M1151.5 889.1L1162.6 911L1140.4 911Z" fill="none" stroke="#4f8f00" stroke-width="3.8" stroke-linejoin="round"/>
<path d="M1214.6 865.3L1225.7 887.2L1203.5 887.2Z" fill="none" stroke="#4f8f00" stroke-width="3.8" stroke-linejoin="round"/>
<path d="M1277.8 852.2L1288.8 874.1L1266.7 874.1Z" fill="none" stroke="#4f8f00" stroke-width="3.8" stroke-linejoin="round"/>
<path d="M1151.5 877.9L1151.5 854.4M1139 854.4L1164 854.4" stroke="#4f8f00" stroke-width="3.4" fill="none" stroke-linecap="round"/>
<path d="M1214.6 808L1214.6 779.5M1202.1 779.5L1227.1 779.5" stroke="#4f8f00" stroke-width="3.4" fill="none" stroke-linecap="round"/>
<path d="M1277.8 767.6L1277.8 736.7M1265.3 736.7L1290.3 736.7" stroke="#4f8f00" stroke-width="3.4" fill="none" stroke-linecap="round"/>
<polyline points="772.6,979.2 941,957.8 1004.1,938.8 1067.3,925.7 1151.5,877.9 1214.6,808 1277.8,767.6" fill="none" stroke="#4f8f00" stroke-width="3.5" stroke-linejoin="round"/>
<path d="M772.6 967.2L785.4 991.2L759.9 991.2Z" fill="#4f8f00"/>
<path d="M941 945.8L953.7 969.8L928.2 969.8Z" fill="#4f8f00"/>
<path d="M1004.1 926.8L1016.9 950.8L991.4 950.8Z" fill="#4f8f00"/>
<path d="M1067.3 913.7L1080 937.7L1054.5 937.7Z" fill="#4f8f00"/>
<path d="M1151.5 865.9L1164.2 889.9L1138.7 889.9Z" fill="#4f8f00"/>
<path d="M1214.6 796L1227.4 820L1201.9 820Z" fill="#4f8f00"/>
<path d="M1277.8 755.6L1290.5 779.6L1265 779.6Z" fill="#4f8f00"/>
<path d="M1151.5 907.4L1151.5 892.7M1139 892.7L1164 892.7" stroke="#000" stroke-width="3.4" fill="none" stroke-linecap="round"/>
<path d="M1214.6 872.9L1214.6 846.5M1202.1 846.5L1227.1 846.5" stroke="#000" stroke-width="3.4" fill="none" stroke-linecap="round"/>
<path d="M1277.8 858.2L1277.8 829.2M1265.3 829.2L1290.3 829.2" stroke="#000" stroke-width="3.4" fill="none" stroke-linecap="round"/>
<polyline points="772.6,979.2 941,957.8 1004.1,938.8 1067.3,933.6 1151.5,907.4 1214.6,872.9 1277.8,858.2" fill="none" stroke="#000" stroke-width="3.5" stroke-linejoin="round"/>
<path d="M760.1 966.7L785.1 991.7M760.1 991.7L785.1 966.7" stroke="#000" stroke-width="4.2" fill="none"/>
<path d="M928.5 945.3L953.5 970.3M928.5 970.3L953.5 945.3" stroke="#000" stroke-width="4.2" fill="none"/>
<path d="M991.6 926.3L1016.6 951.3M991.6 951.3L1016.6 926.3" stroke="#000" stroke-width="4.2" fill="none"/>
<path d="M1054.8 921.1L1079.8 946.1M1054.8 946.1L1079.8 921.1" stroke="#000" stroke-width="4.2" fill="none"/>
<path d="M1139 894.9L1164 919.9M1139 919.9L1164 894.9" stroke="#000" stroke-width="4.2" fill="none"/>
<path d="M1202.1 860.4L1227.1 885.4M1202.1 885.4L1227.1 860.4" stroke="#000" stroke-width="4.2" fill="none"/>
<path d="M1265.3 845.7L1290.3 870.7M1265.3 870.7L1290.3 845.7" stroke="#000" stroke-width="4.2" fill="none"/>
<polyline points="772.6,979.2 941,957.8 1004.1,938.8" fill="none" stroke="#4f8f00" stroke-width="3.5" opacity="0.2"/>
<path d="M772.6 971.1L780.9 988.3L764.3 988.3Z" fill="none" stroke="#4f8f00" stroke-width="3.8" stroke-linejoin="round" opacity="0.25"/>
<path d="M941 949.7L949.3 966.9L932.6 966.9Z" fill="none" stroke="#4f8f00" stroke-width="3.8" stroke-linejoin="round" opacity="0.25"/>
<path d="M1004.1 930.6L1012.5 947.9L995.8 947.9Z" fill="none" stroke="#4f8f00" stroke-width="3.8" stroke-linejoin="round" opacity="0.25"/>
<polyline points="772.6,979.2 941,957.8 1004.1,938.8" fill="none" stroke="#4f8f00" stroke-width="3.5" opacity="0.2"/>
<path d="M772.6 969L782.8 989.4L762.4 989.4Z" fill="#4f8f00" opacity="0.25"/>
<path d="M941 947.6L951.2 968L930.8 968Z" fill="#4f8f00" opacity="0.25"/>
<path d="M1004.1 928.6L1014.3 949L993.9 949Z" fill="#4f8f00" opacity="0.25"/>
<g>
<path d="M1219.2 628.5L1228.2 646.5L1210.2 646.5Z" fill="#4f8f00" opacity="0.27"/>
<path d="M1272.3 628.5L1281.3 646.5L1263.3 646.5Z" fill="#4f8f00" opacity="0.27"/>
<path d="M1282.7 636.8L1291.7 654.8L1273.7 654.8Z" fill="#4f8f00" opacity="0.27"/>
<path d="M1151.5 704.5L1160.5 722.5L1142.5 722.5Z" fill="#4f8f00" opacity="0.27"/>
<path d="M1272.3 697.2L1281.3 715.2L1263.3 715.2Z" fill="#4f8f00" opacity="0.27"/>
<path d="M1208.8 728.5L1217.8 746.5L1199.8 746.5Z" fill="#4f8f00" opacity="0.27"/>
<path d="M1293.1 746.2L1302.1 764.2L1284.1 764.2Z" fill="#4f8f00" opacity="0.27"/>
<path d="M1261.9 753.5L1270.9 771.5L1252.9 771.5Z" fill="#4f8f00" opacity="0.27"/>
<path d="M1208.8 762.9L1217.8 780.9L1199.8 780.9Z" fill="#4f8f00" opacity="0.27"/>
<path d="M1230.6 770.2L1239.6 788.2L1221.6 788.2Z" fill="#4f8f00" opacity="0.27"/>
<path d="M1294.2 784.8L1303.2 802.8L1285.2 802.8Z" fill="#4f8f00" opacity="0.27"/>
<path d="M1261.9 794.1L1270.9 812.1L1252.9 812.1Z" fill="#4f8f00" opacity="0.27"/>
<path d="M1260.8 816L1269.8 834L1251.8 834Z" fill="#4f8f00" opacity="0.27"/>
<path d="M1198.3 824.3L1207.3 842.3L1189.3 842.3Z" fill="#4f8f00" opacity="0.27"/>
<path d="M1221.2 828.5L1230.2 846.5L1212.2 846.5Z" fill="#4f8f00" opacity="0.27"/>
<path d="M1167.1 863.9L1176.1 881.9L1158.1 881.9Z" fill="#4f8f00" opacity="0.27"/>
<path d="M1177.5 870.2L1186.5 888.2L1168.5 888.2Z" fill="#4f8f00" opacity="0.27"/>
<path d="M1169.2 905.6L1178.2 923.6L1160.2 923.6Z" fill="#4f8f00" opacity="0.27"/>
<path d="M1075.4 963.9L1084.4 981.9L1066.4 981.9Z" fill="#4f8f00" opacity="0.27"/>
<path d="M1169.2 966L1178.2 984L1160.2 984Z" fill="#4f8f00" opacity="0.27"/>
<path d="M1198.3 966L1207.3 984L1189.3 984Z" fill="#4f8f00" opacity="0.27"/>
<path d="M1261.9 969.1L1270.9 987.1L1252.9 987.1Z" fill="#4f8f00" opacity="0.27"/>
<path d="M1018.1 905.6L1027.1 923.6L1009.1 923.6Z" fill="#4f8f00" opacity="0.27"/>
<path d="M1004.6 903.5L1013.6 921.5L995.6 921.5Z" fill="#4f8f00" opacity="0.27"/>
<path d="M788.4 970.9L797.4 988.9L779.4 988.9Z" fill="#4f8f00" opacity="0.27"/>
<path d="M798 971.9L807 989.9L789 989.9Z" fill="#4f8f00" opacity="0.27"/>
<path d="M941.9 943.1L950.9 961.1L932.9 961.1Z" fill="#4f8f00" opacity="0.27"/>
<path d="M934.2 952.7L943.2 970.7L925.2 970.7Z" fill="#4f8f00" opacity="0.27"/>
<path d="M959.2 950.8L968.2 968.8L950.2 968.8Z" fill="#4f8f00" opacity="0.27"/>
<path d="M1016.7 902.8L1025.7 920.8L1007.7 920.8Z" fill="#4f8f00" opacity="0.27"/>
<path d="M1037.9 939.3L1046.9 957.3L1028.9 957.3Z" fill="#4f8f00" opacity="0.27"/>
<path d="M988 941.2L997 959.2L979 959.2Z" fill="#4f8f00" opacity="0.27"/>
</g>
<g>
<path d="M1208.8 617L1216.9 633.9L1200.6 633.9Z" fill="none" stroke="#4f8f00" stroke-width="3.3" stroke-linejoin="round" opacity="0.3"/>
<path d="M1282.7 617L1290.9 633.9L1274.5 633.9Z" fill="none" stroke="#4f8f00" stroke-width="3.3" stroke-linejoin="round" opacity="0.3"/>
<path d="M1160.8 699.3L1169 716.1L1152.6 716.1Z" fill="none" stroke="#4f8f00" stroke-width="3.3" stroke-linejoin="round" opacity="0.3"/>
<path d="M1069.2 840.9L1077.4 857.8L1061 857.8Z" fill="none" stroke="#4f8f00" stroke-width="3.3" stroke-linejoin="round" opacity="0.3"/>
<path d="M1142.1 838.9L1150.3 855.7L1133.9 855.7Z" fill="none" stroke="#4f8f00" stroke-width="3.3" stroke-linejoin="round" opacity="0.3"/>
<path d="M1160.8 829.5L1169 846.4L1152.6 846.4Z" fill="none" stroke="#4f8f00" stroke-width="3.3" stroke-linejoin="round" opacity="0.3"/>
<path d="M1230.6 823.2L1238.8 840.1L1222.4 840.1Z" fill="none" stroke="#4f8f00" stroke-width="3.3" stroke-linejoin="round" opacity="0.3"/>
<path d="M1282.7 784.7L1290.9 801.6L1274.5 801.6Z" fill="none" stroke="#4f8f00" stroke-width="3.3" stroke-linejoin="round" opacity="0.3"/>
<path d="M1282.7 824.3L1290.9 841.1L1274.5 841.1Z" fill="none" stroke="#4f8f00" stroke-width="3.3" stroke-linejoin="round" opacity="0.3"/>
<path d="M1277.5 864.9L1285.7 881.8L1269.3 881.8Z" fill="none" stroke="#4f8f00" stroke-width="3.3" stroke-linejoin="round" opacity="0.3"/>
<path d="M1220.2 908.6L1228.4 925.5L1212 925.5Z" fill="none" stroke="#4f8f00" stroke-width="3.3" stroke-linejoin="round" opacity="0.3"/>
<path d="M1282.7 937.8L1290.9 954.7L1274.5 954.7Z" fill="none" stroke="#4f8f00" stroke-width="3.3" stroke-linejoin="round" opacity="0.3"/>
<path d="M1219.2 935.7L1227.4 952.6L1211 952.6Z" fill="none" stroke="#4f8f00" stroke-width="3.3" stroke-linejoin="round" opacity="0.3"/>
<path d="M1169.2 924.3L1177.4 941.1L1161 941.1Z" fill="none" stroke="#4f8f00" stroke-width="3.3" stroke-linejoin="round" opacity="0.3"/>
<path d="M1152.5 914.9L1160.7 931.8L1144.3 931.8Z" fill="none" stroke="#4f8f00" stroke-width="3.3" stroke-linejoin="round" opacity="0.3"/>
<path d="M1123.3 943L1131.5 959.9L1115.1 959.9Z" fill="none" stroke="#4f8f00" stroke-width="3.3" stroke-linejoin="round" opacity="0.3"/>
<path d="M1187.9 946.1L1196.1 963L1179.7 963Z" fill="none" stroke="#4f8f00" stroke-width="3.3" stroke-linejoin="round" opacity="0.3"/>
<path d="M1154.6 952.4L1162.8 969.3L1146.4 969.3Z" fill="none" stroke="#4f8f00" stroke-width="3.3" stroke-linejoin="round" opacity="0.3"/>
<path d="M1133.8 964.9L1141.9 981.8L1125.6 981.8Z" fill="none" stroke="#4f8f00" stroke-width="3.3" stroke-linejoin="round" opacity="0.3"/>
<path d="M1221.2 959.7L1229.4 976.6L1213.1 976.6Z" fill="none" stroke="#4f8f00" stroke-width="3.3" stroke-linejoin="round" opacity="0.3"/>
<path d="M1231.7 962.8L1239.9 979.7L1223.5 979.7Z" fill="none" stroke="#4f8f00" stroke-width="3.3" stroke-linejoin="round" opacity="0.3"/>
<path d="M1260.8 946.1L1269 963L1252.6 963Z" fill="none" stroke="#4f8f00" stroke-width="3.3" stroke-linejoin="round" opacity="0.3"/>
<path d="M1271.2 958.6L1279.4 975.5L1263.1 975.5Z" fill="none" stroke="#4f8f00" stroke-width="3.3" stroke-linejoin="round" opacity="0.3"/>
<path d="M1282.7 964.9L1290.9 981.8L1274.5 981.8Z" fill="none" stroke="#4f8f00" stroke-width="3.3" stroke-linejoin="round" opacity="0.3"/>
<path d="M1094.2 946.1L1102.4 963L1086 963Z" fill="none" stroke="#4f8f00" stroke-width="3.3" stroke-linejoin="round" opacity="0.3"/>
<path d="M1087.9 933.6L1096.1 950.5L1079.7 950.5Z" fill="none" stroke="#4f8f00" stroke-width="3.3" stroke-linejoin="round" opacity="0.3"/>
<path d="M1054.6 962.8L1062.8 979.7L1046.4 979.7Z" fill="none" stroke="#4f8f00" stroke-width="3.3" stroke-linejoin="round" opacity="0.3"/>
<path d="M1016 958.6L1024.2 975.5L1007.9 975.5Z" fill="none" stroke="#4f8f00" stroke-width="3.3" stroke-linejoin="round" opacity="0.3"/>
<path d="M1003.5 896.1L1011.7 913L995.4 913Z" fill="none" stroke="#4f8f00" stroke-width="3.3" stroke-linejoin="round" opacity="0.3"/>
<path d="M1072.3 883.6L1080.5 900.5L1064.1 900.5Z" fill="none" stroke="#4f8f00" stroke-width="3.3" stroke-linejoin="round" opacity="0.3"/>
<path d="M1059.8 889.9L1068 906.8L1051.6 906.8Z" fill="none" stroke="#4f8f00" stroke-width="3.3" stroke-linejoin="round" opacity="0.3"/>
<path d="M1214 892L1222.1 908.9L1205.8 908.9Z" fill="none" stroke="#4f8f00" stroke-width="3.3" stroke-linejoin="round" opacity="0.3"/>
<path d="M1230.6 850.3L1238.8 867.2L1222.4 867.2Z" fill="none" stroke="#4f8f00" stroke-width="3.3" stroke-linejoin="round" opacity="0.3"/>
<path d="M928.5 936.4L936.7 953.3L920.3 953.3Z" fill="none" stroke="#4f8f00" stroke-width="3.3" stroke-linejoin="round" opacity="0.3"/>
<path d="M950.5 935.5L958.7 952.3L942.3 952.3Z" fill="none" stroke="#4f8f00" stroke-width="3.3" stroke-linejoin="round" opacity="0.3"/>
<path d="M924.6 959.4L932.8 976.3L916.4 976.3Z" fill="none" stroke="#4f8f00" stroke-width="3.3" stroke-linejoin="round" opacity="0.3"/>
<path d="M966.8 955.6L975 972.5L958.7 972.5Z" fill="none" stroke="#4f8f00" stroke-width="3.3" stroke-linejoin="round" opacity="0.3"/>
<path d="M1004.3 893.2L1012.5 910.1L996.1 910.1Z" fill="none" stroke="#4f8f00" stroke-width="3.3" stroke-linejoin="round" opacity="0.3"/>
<path d="M1005.2 907.6L1013.4 924.5L997 924.5Z" fill="none" stroke="#4f8f00" stroke-width="3.3" stroke-linejoin="round" opacity="0.3"/>
<path d="M976.4 936.4L984.6 953.3L968.3 953.3Z" fill="none" stroke="#4f8f00" stroke-width="3.3" stroke-linejoin="round" opacity="0.3"/>
<path d="M991.8 946L1000 962.9L983.6 962.9Z" fill="none" stroke="#4f8f00" stroke-width="3.3" stroke-linejoin="round" opacity="0.3"/>
<path d="M1018.7 957.5L1026.9 974.4L1010.5 974.4Z" fill="none" stroke="#4f8f00" stroke-width="3.3" stroke-linejoin="round" opacity="0.3"/>
<path d="M1007.1 959.4L1015.3 976.3L999 976.3Z" fill="none" stroke="#4f8f00" stroke-width="3.3" stroke-linejoin="round" opacity="0.3"/>
<path d="M1066.6 876.9L1074.8 893.8L1058.4 893.8Z" fill="none" stroke="#4f8f00" stroke-width="3.3" stroke-linejoin="round" opacity="0.3"/>
<path d="M1074.3 886.5L1082.5 903.4L1066.1 903.4Z" fill="none" stroke="#4f8f00" stroke-width="3.3" stroke-linejoin="round" opacity="0.3"/>
<path d="M1059 892.3L1067.2 909.1L1050.8 909.1Z" fill="none" stroke="#4f8f00" stroke-width="3.3" stroke-linejoin="round" opacity="0.3"/>
<path d="M1087.7 926.8L1095.9 943.7L1079.6 943.7Z" fill="none" stroke="#4f8f00" stroke-width="3.3" stroke-linejoin="round" opacity="0.3"/>
<path d="M1095.4 946L1103.6 962.9L1087.2 962.9Z" fill="none" stroke="#4f8f00" stroke-width="3.3" stroke-linejoin="round" opacity="0.3"/>
<path d="M1053.2 961.4L1061.4 978.2L1045 978.2Z" fill="none" stroke="#4f8f00" stroke-width="3.3" stroke-linejoin="round" opacity="0.3"/>
<path d="M1076.2 961.4L1084.4 978.2L1068 978.2Z" fill="none" stroke="#4f8f00" stroke-width="3.3" stroke-linejoin="round" opacity="0.3"/>
<path d="M1085.8 951.8L1094 968.6L1077.6 968.6Z" fill="none" stroke="#4f8f00" stroke-width="3.3" stroke-linejoin="round" opacity="0.3"/>
</g>
<g>
<path d="M1210.7 714.4L1227.7 731.4M1210.7 731.4L1227.7 714.4" stroke="#000" stroke-width="2.4" fill="none" opacity="0.3"/>
<path d="M1274.2 714.4L1291.2 731.4M1274.2 731.4L1291.2 714.4" stroke="#000" stroke-width="2.4" fill="none" opacity="0.3"/>
<path d="M1243 748.8L1260 765.8M1243 765.8L1260 748.8" stroke="#000" stroke-width="2.4" fill="none" opacity="0.3"/>
<path d="M1189.8 765.5L1206.8 782.5M1189.8 782.5L1206.8 765.5" stroke="#000" stroke-width="2.4" fill="none" opacity="0.3"/>
<path d="M1143 780L1160 797M1143 797L1160 780" stroke="#000" stroke-width="2.4" fill="none" opacity="0.3"/>
<path d="M1200.2 788.4L1217.2 805.4M1200.2 805.4L1217.2 788.4" stroke="#000" stroke-width="2.4" fill="none" opacity="0.3"/>
<path d="M1263.8 812.3L1280.8 829.3M1263.8 829.3L1280.8 812.3" stroke="#000" stroke-width="2.4" fill="none" opacity="0.3"/>
<path d="M1285.7 817.5L1302.7 834.5M1285.7 834.5L1302.7 817.5" stroke="#000" stroke-width="2.4" fill="none" opacity="0.3"/>
<path d="M1189.8 857.1L1206.8 874.1M1189.8 874.1L1206.8 857.1" stroke="#000" stroke-width="2.4" fill="none" opacity="0.3"/>
<path d="M1210.7 856.1L1227.7 873.1M1210.7 873.1L1227.7 856.1" stroke="#000" stroke-width="2.4" fill="none" opacity="0.3"/>
<path d="M1116.9 869.6L1133.9 886.6M1116.9 886.6L1133.9 869.6" stroke="#000" stroke-width="2.4" fill="none" opacity="0.3"/>
<path d="M1055.5 866.5L1072.5 883.5M1055.5 883.5L1072.5 866.5" stroke="#000" stroke-width="2.4" fill="none" opacity="0.3"/>
<path d="M1269 883.2L1286 900.2M1269 900.2L1286 883.2" stroke="#000" stroke-width="2.4" fill="none" opacity="0.3"/>
<path d="M1222.1 906.1L1239.1 923.1M1222.1 923.1L1239.1 906.1" stroke="#000" stroke-width="2.4" fill="none" opacity="0.3"/>
<path d="M1269 909.2L1286 926.2M1269 926.2L1286 909.2" stroke="#000" stroke-width="2.4" fill="none" opacity="0.3"/>
<path d="M1200.2 923.8L1217.2 940.8M1200.2 940.8L1217.2 923.8" stroke="#000" stroke-width="2.4" fill="none" opacity="0.3"/>
<path d="M1125.2 926.9L1142.2 943.9M1125.2 943.9L1142.2 926.9" stroke="#000" stroke-width="2.4" fill="none" opacity="0.3"/>
<path d="M1133.6 943.6L1150.6 960.6M1133.6 960.6L1150.6 943.6" stroke="#000" stroke-width="2.4" fill="none" opacity="0.3"/>
<path d="M1160.7 943.6L1177.7 960.6M1160.7 960.6L1177.7 943.6" stroke="#000" stroke-width="2.4" fill="none" opacity="0.3"/>
<path d="M1169 945.7L1186 962.7M1169 962.7L1186 945.7" stroke="#000" stroke-width="2.4" fill="none" opacity="0.3"/>
<path d="M1189.8 945.7L1206.8 962.7M1189.8 962.7L1206.8 945.7" stroke="#000" stroke-width="2.4" fill="none" opacity="0.3"/>
<path d="M1198.2 949.8L1215.2 966.8M1198.2 966.8L1215.2 949.8" stroke="#000" stroke-width="2.4" fill="none" opacity="0.3"/>
<path d="M1231.5 945.7L1248.5 962.7M1231.5 962.7L1248.5 945.7" stroke="#000" stroke-width="2.4" fill="none" opacity="0.3"/>
<path d="M1241.9 949.8L1258.9 966.8M1241.9 966.8L1258.9 949.8" stroke="#000" stroke-width="2.4" fill="none" opacity="0.3"/>
<path d="M1285.7 959.2L1302.7 976.2M1285.7 976.2L1302.7 959.2" stroke="#000" stroke-width="2.4" fill="none" opacity="0.3"/>
<path d="M1054.4 899.8L1071.4 916.8M1054.4 916.8L1071.4 899.8" stroke="#000" stroke-width="2.4" fill="none" opacity="0.3"/>
<path d="M1044 943.6L1061 960.6M1044 960.6L1061 943.6" stroke="#000" stroke-width="2.4" fill="none" opacity="0.3"/>
<path d="M1060.7 945.7L1077.7 962.7M1060.7 962.7L1077.7 945.7" stroke="#000" stroke-width="2.4" fill="none" opacity="0.3"/>
<path d="M1023.2 933.2L1040.2 950.2M1023.2 950.2L1040.2 933.2" stroke="#000" stroke-width="2.4" fill="none" opacity="0.3"/>
<path d="M989.8 943.6L1006.8 960.6M989.8 960.6L1006.8 943.6" stroke="#000" stroke-width="2.4" fill="none" opacity="0.3"/>
<path d="M1006.5 920.7L1023.5 937.7M1006.5 937.7L1023.5 920.7" stroke="#000" stroke-width="2.4" fill="none" opacity="0.3"/>
<path d="M779.9 970.5L796.9 987.5M779.9 987.5L796.9 970.5" stroke="#000" stroke-width="2.4" fill="none" opacity="0.3"/>
<path d="M789.5 971.4L806.5 988.4M789.5 988.4L806.5 971.4" stroke="#000" stroke-width="2.4" fill="none" opacity="0.3"/>
<path d="M904.6 941.7L921.6 958.7M904.6 958.7L921.6 941.7" stroke="#000" stroke-width="2.4" fill="none" opacity="0.3"/>
<path d="M906.5 953.2L923.5 970.2M906.5 970.2L923.5 953.2" stroke="#000" stroke-width="2.4" fill="none" opacity="0.3"/>
<path d="M921.9 935.9L938.9 952.9M921.9 952.9L938.9 935.9" stroke="#000" stroke-width="2.4" fill="none" opacity="0.3"/>
<path d="M935.3 937.9L952.3 954.9M935.3 954.9L952.3 937.9" stroke="#000" stroke-width="2.4" fill="none" opacity="0.3"/>
<path d="M944.9 947.5L961.9 964.5M944.9 964.5L961.9 947.5" stroke="#000" stroke-width="2.4" fill="none" opacity="0.3"/>
<path d="M979.5 920.6L996.5 937.6M979.5 937.6L996.5 920.6" stroke="#000" stroke-width="2.4" fill="none" opacity="0.3"/>
<path d="M989.1 947.5L1006.1 964.5M989.1 964.5L1006.1 947.5" stroke="#000" stroke-width="2.4" fill="none" opacity="0.3"/>
<path d="M1019.8 935.9L1036.8 952.9M1019.8 952.9L1036.8 935.9" stroke="#000" stroke-width="2.4" fill="none" opacity="0.3"/>
<path d="M1006.3 916.7L1023.3 933.7M1006.3 933.7L1023.3 916.7" stroke="#000" stroke-width="2.4" fill="none" opacity="0.3"/>
<path d="M1056.2 866.9L1073.2 883.9M1056.2 883.9L1073.2 866.9" stroke="#000" stroke-width="2.4" fill="none" opacity="0.3"/>
<path d="M1056.2 903.3L1073.2 920.3M1056.2 920.3L1073.2 903.3" stroke="#000" stroke-width="2.4" fill="none" opacity="0.3"/>
<path d="M1042.8 943.6L1059.8 960.6M1042.8 960.6L1059.8 943.6" stroke="#000" stroke-width="2.4" fill="none" opacity="0.3"/>
<path d="M1052.4 941.7L1069.4 958.7M1052.4 958.7L1069.4 941.7" stroke="#000" stroke-width="2.4" fill="none" opacity="0.3"/>
<path d="M1060.1 947.5L1077.1 964.5M1060.1 964.5L1077.1 947.5" stroke="#000" stroke-width="2.4" fill="none" opacity="0.3"/>
<path d="M1056.2 937.9L1073.2 954.9M1056.2 954.9L1073.2 937.9" stroke="#000" stroke-width="2.4" fill="none" opacity="0.3"/>
<path d="M1048.5 935.9L1065.5 952.9M1048.5 952.9L1065.5 935.9" stroke="#000" stroke-width="2.4" fill="none" opacity="0.3"/>
</g>
</g>
<g id="b3">
<path d="M1443.8 620.1L1443.8 979.2L1972.3 979.2" fill="none" stroke="#000" stroke-width="5.8" stroke-linejoin="miter"/>
<path d="M1434.5 860.3L1443.8 860.3M1434.5 741.5L1443.8 741.5M1434.5 622.6L1443.8 622.6M1443.8 979.2L1443.8 989.5M1549 979.2L1549 989.5M1654.2 979.2L1654.2 989.5M1759.4 979.2L1759.4 989.5M1864.6 979.2L1864.6 989.5M1969.8 979.2L1969.8 989.5" fill="none" stroke="#000" stroke-width="5"/>
<text class="b" transform="translate(1429.9 988.1) scale(1 1.11)" font-size="26.3" text-anchor="end">0</text>
<text class="b" transform="translate(1429.9 869.2) scale(1 1.11)" font-size="26.3" text-anchor="end">50</text>
<text class="b" transform="translate(1429.9 750.4) scale(1 1.11)" font-size="26.3" text-anchor="end">100</text>
<text class="b" transform="translate(1429.9 631.5) scale(1 1.11)" font-size="26.3" text-anchor="end">150</text>
<text class="b" transform="translate(1443.8 1018.5) scale(1 1.11)" font-size="26.3" text-anchor="middle">0</text>
<text class="b" transform="translate(1549 1018.5) scale(1 1.11)" font-size="26.3" text-anchor="middle">5</text>
<text class="b" transform="translate(1654.2 1018.5) scale(1 1.11)" font-size="26.3" text-anchor="middle">10</text>
<text class="b" transform="translate(1759.4 1018.5) scale(1 1.11)" font-size="26.3" text-anchor="middle">15</text>
<text class="b" transform="translate(1864.6 1018.5) scale(1 1.11)" font-size="26.3" text-anchor="middle">20</text>
<text class="b" transform="translate(1969.8 1018.5) scale(1 1.11)" font-size="26.3" text-anchor="middle">25</text>
<text class="b" transform="translate(1707 1066) scale(1 1.075)" font-size="28" text-anchor="middle">Days post TC</text>
<text class="b" transform="translate(1368.4 801.6) rotate(-90)" font-size="29.2" text-anchor="middle">Tumor size (mm<tspan font-size="18" dy="-10.5">2</tspan><tspan dy="10.5">)</tspan></text>
<path d="M1738.4 922.1L1738.4 908.1M1728.8 908.1L1748 908.1" stroke="#c2c2c2" stroke-width="3.4" fill="none" stroke-linecap="round"/>
<path d="M1822.5 896L1822.5 860.3M1812.9 860.3L1832.1 860.3" stroke="#c2c2c2" stroke-width="3.4" fill="none" stroke-linecap="round"/>
<path d="M1885.6 874.6L1885.6 788.1M1876 788.1L1895.2 788.1" stroke="#c2c2c2" stroke-width="3.4" fill="none" stroke-linecap="round"/>
<path d="M1948.8 859.1L1948.8 766.4M1939.2 766.4L1958.4 766.4" stroke="#c2c2c2" stroke-width="3.4" fill="none" stroke-linecap="round"/>
<polyline points="1443.8,979.2 1612.1,957.8 1675.2,938.8 1738.4,922.1 1822.5,896 1885.6,874.6 1948.8,859.1" fill="none" stroke="#9437ff" stroke-width="3.5" stroke-linejoin="round"/>
<path d="M1443.8 967.9L1455.1 979.2L1443.8 990.5L1432.5 979.2Z" fill="none" stroke="#9437ff" stroke-width="3.8"/>
<path d="M1612.1 946.5L1623.5 957.8L1612.1 969.1L1600.8 957.8Z" fill="none" stroke="#9437ff" stroke-width="3.8"/>
<path d="M1675.2 927.4L1686.6 938.8L1675.2 950.1L1663.9 938.8Z" fill="none" stroke="#9437ff" stroke-width="3.8"/>
<path d="M1738.4 910.8L1749.7 922.1L1738.4 933.5L1727 922.1Z" fill="none" stroke="#9437ff" stroke-width="3.8"/>
<path d="M1822.5 884.7L1833.9 896L1822.5 907.3L1811.2 896Z" fill="none" stroke="#9437ff" stroke-width="3.8"/>
<path d="M1885.6 863.3L1897 874.6L1885.6 885.9L1874.3 874.6Z" fill="none" stroke="#9437ff" stroke-width="3.8"/>
<path d="M1948.8 847.8L1960.1 859.1L1948.8 870.5L1937.4 859.1Z" fill="none" stroke="#9437ff" stroke-width="3.8"/>
<path d="M1822.5 896L1822.5 882.4M1810 882.4L1835 882.4" stroke="#9437ff" stroke-width="3.4" fill="none" stroke-linecap="round"/>
<path d="M1885.6 874.6L1885.6 851.8M1873.1 851.8L1898.1 851.8" stroke="#9437ff" stroke-width="3.4" fill="none" stroke-linecap="round"/>
<path d="M1948.8 859.1L1948.8 834.2M1936.3 834.2L1961.3 834.2" stroke="#9437ff" stroke-width="3.4" fill="none" stroke-linecap="round"/>
<polyline points="1443.8,979.2 1612.1,957.8 1675.2,938.8 1738.4,922.1 1822.5,896 1885.6,874.6 1948.8,859.1" fill="none" stroke="#9437ff" stroke-width="3.5" stroke-linejoin="round"/>
<path d="M1443.8 967.9L1455.1 979.2L1443.8 990.5L1432.5 979.2Z" fill="none" stroke="#9437ff" stroke-width="3.8"/>
<path d="M1612.1 946.5L1623.5 957.8L1612.1 969.1L1600.8 957.8Z" fill="none" stroke="#9437ff" stroke-width="3.8"/>
<path d="M1675.2 927.4L1686.6 938.8L1675.2 950.1L1663.9 938.8Z" fill="none" stroke="#9437ff" stroke-width="3.8"/>
<path d="M1738.4 910.8L1749.7 922.1L1738.4 933.5L1727 922.1Z" fill="none" stroke="#9437ff" stroke-width="3.8"/>
<path d="M1822.5 884.7L1833.9 896L1822.5 907.3L1811.2 896Z" fill="none" stroke="#9437ff" stroke-width="3.8"/>
<path d="M1885.6 863.3L1897 874.6L1885.6 885.9L1874.3 874.6Z" fill="none" stroke="#9437ff" stroke-width="3.8"/>
<path d="M1948.8 847.8L1960.1 859.1L1948.8 870.5L1937.4 859.1Z" fill="none" stroke="#9437ff" stroke-width="3.8"/>
<path d="M1822.5 860.1L1822.5 836.6M1810 836.6L1835 836.6" stroke="#9437ff" stroke-width="3.4" fill="none" stroke-linecap="round"/>
<path d="M1885.6 794.5L1885.6 756M1873.1 756L1898.1 756" stroke="#9437ff" stroke-width="3.4" fill="none" stroke-linecap="round"/>
<path d="M1948.8 749.3L1948.8 703.7M1936.3 703.7L1961.3 703.7" stroke="#9437ff" stroke-width="3.4" fill="none" stroke-linecap="round"/>
<polyline points="1443.8,979.2 1612.1,957.8 1675.2,938.8 1738.4,920.7 1822.5,860.1 1885.6,794.5 1948.8,749.3" fill="none" stroke="#9437ff" stroke-width="3.5" stroke-linejoin="round"/>
<path d="M1443.8 966.7L1456.3 979.2L1443.8 991.7L1431.3 979.2Z" fill="#9437ff"/>
<path d="M1612.1 945.3L1624.6 957.8L1612.1 970.3L1599.6 957.8Z" fill="#9437ff"/>
<path d="M1675.2 926.3L1687.7 938.8L1675.2 951.3L1662.7 938.8Z" fill="#9437ff"/>
<path d="M1738.4 908.2L1750.9 920.7L1738.4 933.2L1725.9 920.7Z" fill="#9437ff"/>
<path d="M1822.5 847.6L1835 860.1L1822.5 872.6L1810 860.1Z" fill="#9437ff"/>
<path d="M1885.6 782L1898.1 794.5L1885.6 807L1873.1 794.5Z" fill="#9437ff"/>
<path d="M1948.8 736.8L1961.3 749.3L1948.8 761.8L1936.3 749.3Z" fill="#9437ff"/>
<path d="M1822.5 907.4L1822.5 892.7M1810 892.7L1835 892.7" stroke="#000" stroke-width="3.4" fill="none" stroke-linecap="round"/>
<path d="M1885.6 872.9L1885.6 846.5M1873.1 846.5L1898.1 846.5" stroke="#000" stroke-width="3.4" fill="none" stroke-linecap="round"/>
<path d="M1948.8 858.2L1948.8 829.2M1936.3 829.2L1961.3 829.2" stroke="#000" stroke-width="3.4" fill="none" stroke-linecap="round"/>
<polyline points="1443.8,979.2 1612.1,957.8 1675.2,938.8 1738.4,933.6 1822.5,907.4 1885.6,872.9 1948.8,858.2" fill="none" stroke="#000" stroke-width="3.5" stroke-linejoin="round"/>
<path d="M1431.3 966.7L1456.3 991.7M1431.3 991.7L1456.3 966.7" stroke="#000" stroke-width="4.2" fill="none"/>
<path d="M1599.6 945.3L1624.6 970.3M1599.6 970.3L1624.6 945.3" stroke="#000" stroke-width="4.2" fill="none"/>
<path d="M1662.7 926.3L1687.7 951.3M1662.7 951.3L1687.7 926.3" stroke="#000" stroke-width="4.2" fill="none"/>
<path d="M1725.9 921.1L1750.9 946.1M1725.9 946.1L1750.9 921.1" stroke="#000" stroke-width="4.2" fill="none"/>
<path d="M1810 894.9L1835 919.9M1810 919.9L1835 894.9" stroke="#000" stroke-width="4.2" fill="none"/>
<path d="M1873.1 860.4L1898.1 885.4M1873.1 885.4L1898.1 860.4" stroke="#000" stroke-width="4.2" fill="none"/>
<path d="M1936.3 845.7L1961.3 870.7M1936.3 870.7L1961.3 845.7" stroke="#000" stroke-width="4.2" fill="none"/>
<polyline points="1738.4,920.7 1822.5,861.5 1885.6,798.5 1948.8,766.4" fill="none" stroke="#9437ff" stroke-width="3.5" opacity="0.28"/>
<polyline points="1443.8,979.2 1612.1,957.8 1675.2,938.8" fill="none" stroke="#9437ff" stroke-width="3.5" opacity="0.2"/>
<path d="M1443.8 970.7L1452.3 979.2L1443.8 987.7L1435.3 979.2Z" fill="none" stroke="#9437ff" stroke-width="3.8" opacity="0.25"/>
<path d="M1612.1 949.3L1620.7 957.8L1612.1 966.3L1603.6 957.8Z" fill="none" stroke="#9437ff" stroke-width="3.8" opacity="0.25"/>
<path d="M1675.2 930.2L1683.8 938.8L1675.2 947.3L1666.7 938.8Z" fill="none" stroke="#9437ff" stroke-width="3.8" opacity="0.25"/>
<polyline points="1443.8,979.2 1612.1,957.8 1675.2,938.8" fill="none" stroke="#9437ff" stroke-width="3.5" opacity="0.2"/>
<path d="M1443.8 969.2L1453.8 979.2L1443.8 989.2L1433.8 979.2Z" fill="#9437ff" opacity="0.25"/>
<path d="M1612.1 947.8L1622.1 957.8L1612.1 967.8L1602.1 957.8Z" fill="#9437ff" opacity="0.25"/>
<path d="M1675.2 928.8L1685.2 938.8L1675.2 948.8L1665.2 938.8Z" fill="#9437ff" opacity="0.25"/>
<g>
<path d="M1936 617.8L1945.3 627.1L1936 636.3L1926.8 627.1Z" fill="#9437ff" opacity="0.27"/>
<path d="M1948.5 625.1L1957.8 634.4L1948.5 643.6L1939.3 634.4Z" fill="#9437ff" opacity="0.27"/>
<path d="M1962.1 619.9L1971.3 629.2L1962.1 638.4L1952.8 629.2Z" fill="#9437ff" opacity="0.27"/>
<path d="M1886 646L1895.3 655.2L1886 664.5L1876.8 655.2Z" fill="#9437ff" opacity="0.27"/>
<path d="M1876.7 684.5L1885.9 693.8L1876.7 703L1867.4 693.8Z" fill="#9437ff" opacity="0.27"/>
<path d="M1894.4 682.4L1903.6 691.7L1894.4 700.9L1885.1 691.7Z" fill="#9437ff" opacity="0.27"/>
<path d="M1886 717.8L1895.3 727.1L1886 736.3L1876.8 727.1Z" fill="#9437ff" opacity="0.27"/>
<path d="M1822.5 748L1831.8 757.3L1822.5 766.5L1813.2 757.3Z" fill="#9437ff" opacity="0.27"/>
<path d="M1822.5 768.9L1831.8 778.1L1822.5 787.4L1813.2 778.1Z" fill="#9437ff" opacity="0.27"/>
<path d="M1822.5 790.8L1831.8 800L1822.5 809.2L1813.2 800Z" fill="#9437ff" opacity="0.27"/>
<path d="M1836 800.1L1845.3 809.4L1836 818.6L1826.8 809.4Z" fill="#9437ff" opacity="0.27"/>
<path d="M1895.4 759.5L1904.7 768.8L1895.4 778L1886.2 768.8Z" fill="#9437ff" opacity="0.27"/>
<path d="M1936 778.2L1945.3 787.5L1936 796.8L1926.8 787.5Z" fill="#9437ff" opacity="0.27"/>
<path d="M1948.5 786.6L1957.8 795.8L1948.5 805.1L1939.3 795.8Z" fill="#9437ff" opacity="0.27"/>
<path d="M1876.7 807.4L1885.9 816.7L1876.7 825.9L1867.4 816.7Z" fill="#9437ff" opacity="0.27"/>
<path d="M1796.5 847L1805.7 856.2L1796.5 865.5L1787.2 856.2Z" fill="#9437ff" opacity="0.27"/>
<path d="M1836 863.7L1845.3 872.9L1836 882.2L1826.8 872.9Z" fill="#9437ff" opacity="0.27"/>
<path d="M1849.6 863.7L1858.8 872.9L1849.6 882.2L1840.3 872.9Z" fill="#9437ff" opacity="0.27"/>
<path d="M1810 867.8L1819.2 877.1L1810 886.3L1800.8 877.1Z" fill="#9437ff" opacity="0.27"/>
<path d="M1754.8 874.1L1764 883.3L1754.8 892.6L1745.5 883.3Z" fill="#9437ff" opacity="0.27"/>
<path d="M1722.5 874.1L1731.8 883.3L1722.5 892.6L1713.2 883.3Z" fill="#9437ff" opacity="0.27"/>
<path d="M1764.2 886.6L1773.4 895.8L1764.2 905.1L1754.9 895.8Z" fill="#9437ff" opacity="0.27"/>
<path d="M1754.8 896L1764 905.2L1754.8 914.5L1745.5 905.2Z" fill="#9437ff" opacity="0.27"/>
<path d="M1886 890.8L1895.3 900L1886 909.2L1876.8 900Z" fill="#9437ff" opacity="0.27"/>
<path d="M1836 913.7L1845.3 922.9L1836 932.2L1826.8 922.9Z" fill="#9437ff" opacity="0.27"/>
<path d="M1936 937.6L1945.3 946.9L1936 956.1L1926.8 946.9Z" fill="#9437ff" opacity="0.27"/>
<path d="M1859 949.1L1868.2 958.3L1859 967.6L1849.7 958.3Z" fill="#9437ff" opacity="0.27"/>
<path d="M1822.5 949.1L1831.8 958.3L1822.5 967.6L1813.2 958.3Z" fill="#9437ff" opacity="0.27"/>
<path d="M1849.6 965.8L1858.8 975L1849.6 984.2L1840.3 975Z" fill="#9437ff" opacity="0.27"/>
<path d="M1876.7 967.8L1885.9 977.1L1876.7 986.3L1867.4 977.1Z" fill="#9437ff" opacity="0.27"/>
<path d="M1722.5 959.5L1731.8 968.8L1722.5 978L1713.2 968.8Z" fill="#9437ff" opacity="0.27"/>
<path d="M1743.3 949.1L1752.6 958.3L1743.3 967.6L1734.1 958.3Z" fill="#9437ff" opacity="0.27"/>
<path d="M1685 905.3L1694.2 914.6L1685 923.8L1675.8 914.6Z" fill="#9437ff" opacity="0.27"/>
<path d="M1712.1 905.3L1721.3 914.6L1712.1 923.8L1702.8 914.6Z" fill="#9437ff" opacity="0.27"/>
<path d="M1685 957.4L1694.2 966.7L1685 975.9L1675.8 966.7Z" fill="#9437ff" opacity="0.27"/>
<path d="M1762.1 903.2L1771.3 912.5L1762.1 921.8L1752.8 912.5Z" fill="#9437ff" opacity="0.27"/>
<path d="M1462.2 967.8L1471.5 977.1L1462.2 986.3L1453 977.1Z" fill="#9437ff" opacity="0.27"/>
<path d="M1468.9 969.7L1478.2 979L1468.9 988.2L1459.7 979Z" fill="#9437ff" opacity="0.27"/>
<path d="M1588.9 942.9L1598.1 952.1L1588.9 961.4L1579.6 952.1Z" fill="#9437ff" opacity="0.27"/>
<path d="M1604.2 931.3L1613.5 940.6L1604.2 949.8L1595 940.6Z" fill="#9437ff" opacity="0.27"/>
<path d="M1611.9 956.3L1621.2 965.5L1611.9 974.8L1602.7 965.5Z" fill="#9437ff" opacity="0.27"/>
<path d="M1633 950.5L1642.3 959.8L1633 969L1623.8 959.8Z" fill="#9437ff" opacity="0.27"/>
<path d="M1600.4 958.2L1609.6 967.5L1600.4 976.7L1591.1 967.5Z" fill="#9437ff" opacity="0.27"/>
<path d="M1619.6 942.9L1628.8 952.1L1619.6 961.4L1610.3 952.1Z" fill="#9437ff" opacity="0.27"/>
<path d="M1684.8 906.4L1694.1 915.7L1684.8 924.9L1675.6 915.7Z" fill="#9437ff" opacity="0.27"/>
<path d="M1686.7 958.2L1696 967.5L1686.7 976.7L1677.5 967.5Z" fill="#9437ff" opacity="0.27"/>
<path d="M1658 946.7L1667.2 956L1658 965.2L1648.7 956Z" fill="#9437ff" opacity="0.27"/>
<path d="M1700.2 923.7L1709.4 932.9L1700.2 942.2L1690.9 932.9Z" fill="#9437ff" opacity="0.27"/>
</g>
<g>
<path d="M1948.5 711.3L1957.1 719.8L1948.5 728.3L1940 719.8Z" fill="none" stroke="#9437ff" stroke-width="3.2" opacity="0.29"/>
<path d="M1859 775.9L1867.5 784.4L1859 792.9L1850.4 784.4Z" fill="none" stroke="#9437ff" stroke-width="3.2" opacity="0.29"/>
<path d="M1962.1 775.9L1970.6 784.4L1962.1 792.9L1953.6 784.4Z" fill="none" stroke="#9437ff" stroke-width="3.2" opacity="0.29"/>
<path d="M1810 804L1818.5 812.5L1810 821L1801.5 812.5Z" fill="none" stroke="#9437ff" stroke-width="3.2" opacity="0.29"/>
<path d="M1895.4 804L1903.9 812.5L1895.4 821L1886.9 812.5Z" fill="none" stroke="#9437ff" stroke-width="3.2" opacity="0.29"/>
<path d="M1936 804L1944.6 812.5L1936 821L1927.5 812.5Z" fill="none" stroke="#9437ff" stroke-width="3.2" opacity="0.29"/>
<path d="M1822.5 821.7L1831 830.2L1822.5 838.7L1814 830.2Z" fill="none" stroke="#9437ff" stroke-width="3.2" opacity="0.29"/>
<path d="M1962.1 817.5L1970.6 826L1962.1 834.6L1953.6 826Z" fill="none" stroke="#9437ff" stroke-width="3.2" opacity="0.29"/>
<path d="M1936 829L1944.6 837.5L1936 846L1927.5 837.5Z" fill="none" stroke="#9437ff" stroke-width="3.2" opacity="0.29"/>
<path d="M1886 830L1894.6 838.5L1886 847.1L1877.5 838.5Z" fill="none" stroke="#9437ff" stroke-width="3.2" opacity="0.29"/>
<path d="M1895.4 851.9L1903.9 860.4L1895.4 868.9L1886.9 860.4Z" fill="none" stroke="#9437ff" stroke-width="3.2" opacity="0.29"/>
<path d="M1948.5 879L1957.1 887.5L1948.5 896L1940 887.5Z" fill="none" stroke="#9437ff" stroke-width="3.2" opacity="0.29"/>
<path d="M1732.9 873.8L1741.4 882.3L1732.9 890.8L1724.4 882.3Z" fill="none" stroke="#9437ff" stroke-width="3.2" opacity="0.29"/>
<path d="M1712.1 886.3L1720.6 894.8L1712.1 903.3L1703.6 894.8Z" fill="none" stroke="#9437ff" stroke-width="3.2" opacity="0.29"/>
<path d="M1732.9 894.6L1741.4 903.1L1732.9 911.6L1724.4 903.1Z" fill="none" stroke="#9437ff" stroke-width="3.2" opacity="0.29"/>
<path d="M1722.5 898.8L1731 907.3L1722.5 915.8L1714 907.3Z" fill="none" stroke="#9437ff" stroke-width="3.2" opacity="0.29"/>
<path d="M1675.6 897.7L1684.1 906.2L1675.6 914.8L1667.1 906.2Z" fill="none" stroke="#9437ff" stroke-width="3.2" opacity="0.29"/>
<path d="M1796.5 872.7L1805 881.2L1796.5 889.8L1787.9 881.2Z" fill="none" stroke="#9437ff" stroke-width="3.2" opacity="0.29"/>
<path d="M1810 887.3L1818.5 895.8L1810 904.3L1801.5 895.8Z" fill="none" stroke="#9437ff" stroke-width="3.2" opacity="0.29"/>
<path d="M1886 915.4L1894.6 924L1886 932.5L1877.5 924Z" fill="none" stroke="#9437ff" stroke-width="3.2" opacity="0.29"/>
<path d="M1822.5 932.1L1831 940.6L1822.5 949.1L1814 940.6Z" fill="none" stroke="#9437ff" stroke-width="3.2" opacity="0.29"/>
<path d="M1764.2 935.2L1772.7 943.8L1764.2 952.3L1755.7 943.8Z" fill="none" stroke="#9437ff" stroke-width="3.2" opacity="0.29"/>
<path d="M1712.1 941.5L1720.6 950L1712.1 958.5L1703.6 950Z" fill="none" stroke="#9437ff" stroke-width="3.2" opacity="0.29"/>
<path d="M1732.9 938.4L1741.4 946.9L1732.9 955.4L1724.4 946.9Z" fill="none" stroke="#9437ff" stroke-width="3.2" opacity="0.29"/>
<path d="M1753.8 944.6L1762.3 953.1L1753.8 961.6L1745.2 953.1Z" fill="none" stroke="#9437ff" stroke-width="3.2" opacity="0.29"/>
<path d="M1810 943.6L1818.5 952.1L1810 960.6L1801.5 952.1Z" fill="none" stroke="#9437ff" stroke-width="3.2" opacity="0.29"/>
<path d="M1836 947.7L1844.6 956.2L1836 964.8L1827.5 956.2Z" fill="none" stroke="#9437ff" stroke-width="3.2" opacity="0.29"/>
<path d="M1796.5 951.9L1805 960.4L1796.5 968.9L1787.9 960.4Z" fill="none" stroke="#9437ff" stroke-width="3.2" opacity="0.29"/>
<path d="M1876.7 943.6L1885.2 952.1L1876.7 960.6L1868.2 952.1Z" fill="none" stroke="#9437ff" stroke-width="3.2" opacity="0.29"/>
<path d="M1894.4 950.9L1902.9 959.4L1894.4 967.9L1885.9 959.4Z" fill="none" stroke="#9437ff" stroke-width="3.2" opacity="0.29"/>
<path d="M1912.1 947.7L1920.6 956.2L1912.1 964.8L1903.6 956.2Z" fill="none" stroke="#9437ff" stroke-width="3.2" opacity="0.29"/>
<path d="M1922.5 949.8L1931 958.3L1922.5 966.8L1914 958.3Z" fill="none" stroke="#9437ff" stroke-width="3.2" opacity="0.29"/>
<path d="M1948.5 947.7L1957.1 956.2L1948.5 964.8L1940 956.2Z" fill="none" stroke="#9437ff" stroke-width="3.2" opacity="0.29"/>
<path d="M1962.1 943.6L1970.6 952.1L1962.1 960.6L1953.6 952.1Z" fill="none" stroke="#9437ff" stroke-width="3.2" opacity="0.29"/>
<path d="M1693.3 945.7L1701.8 954.2L1693.3 962.7L1684.8 954.2Z" fill="none" stroke="#9437ff" stroke-width="3.2" opacity="0.29"/>
<path d="M1672.5 949.8L1681 958.3L1672.5 966.8L1664 958.3Z" fill="none" stroke="#9437ff" stroke-width="3.2" opacity="0.29"/>
<path d="M1664.2 916.5L1672.7 925L1664.2 933.5L1655.7 925Z" fill="none" stroke="#9437ff" stroke-width="3.2" opacity="0.29"/>
<path d="M1615.7 928.3L1624.2 936.8L1615.7 945.3L1607.2 936.8Z" fill="none" stroke="#9437ff" stroke-width="3.2" opacity="0.29"/>
<path d="M1631.1 955.1L1639.6 963.6L1631.1 972.1L1622.6 963.6Z" fill="none" stroke="#9437ff" stroke-width="3.2" opacity="0.29"/>
<path d="M1638.8 947.4L1647.3 956L1638.8 964.5L1630.3 956Z" fill="none" stroke="#9437ff" stroke-width="3.2" opacity="0.29"/>
<path d="M1675.2 897.5L1683.7 906.1L1675.2 914.6L1666.7 906.1Z" fill="none" stroke="#9437ff" stroke-width="3.2" opacity="0.29"/>
<path d="M1654.1 928.3L1662.6 936.8L1654.1 945.3L1645.6 936.8Z" fill="none" stroke="#9437ff" stroke-width="3.2" opacity="0.29"/>
<path d="M1663.7 916.7L1672.2 925.2L1663.7 933.8L1655.2 925.2Z" fill="none" stroke="#9437ff" stroke-width="3.2" opacity="0.29"/>
<path d="M1671.4 949.4L1679.9 957.9L1671.4 966.4L1662.9 957.9Z" fill="none" stroke="#9437ff" stroke-width="3.2" opacity="0.29"/>
<path d="M1692.5 945.5L1701 954L1692.5 962.5L1684 954Z" fill="none" stroke="#9437ff" stroke-width="3.2" opacity="0.29"/>
</g>
</g>
<g id="c1">
<path d="M105.5 1385.2L105.5 1755.4L627.1 1755.4" fill="none" stroke="#000" stroke-width="5.8" stroke-linejoin="miter"/>
<path d="M96.2 1632.8L105.5 1632.8M96.2 1510.3L105.5 1510.3M96.2 1387.7L105.5 1387.7M105.5 1755.4L105.5 1765.7M209.3 1755.4L209.3 1765.7M313.1 1755.4L313.1 1765.7M417 1755.4L417 1765.7M520.8 1755.4L520.8 1765.7M624.6 1755.4L624.6 1765.7" fill="none" stroke="#000" stroke-width="5"/>
<text class="b" transform="translate(91.6 1764.8) scale(1 1.13)" font-size="26.3" text-anchor="end">0</text>
<text class="b" transform="translate(91.6 1642.2) scale(1 1.13)" font-size="26.3" text-anchor="end">50</text>
<text class="b" transform="translate(91.6 1519.7) scale(1 1.13)" font-size="26.3" text-anchor="end">100</text>
<text class="b" transform="translate(91.6 1397.1) scale(1 1.13)" font-size="26.3" text-anchor="end">150</text>
<text class="b" transform="translate(105.5 1795.7) scale(1 1.13)" font-size="26.3" text-anchor="middle">0</text>
<text class="b" transform="translate(209.3 1795.7) scale(1 1.13)" font-size="26.3" text-anchor="middle">5</text>
<text class="b" transform="translate(313.1 1795.7) scale(1 1.13)" font-size="26.3" text-anchor="middle">10</text>
<text class="b" transform="translate(417 1795.7) scale(1 1.13)" font-size="26.3" text-anchor="middle">15</text>
<text class="b" transform="translate(520.8 1795.7) scale(1 1.13)" font-size="26.3" text-anchor="middle">20</text>
<text class="b" transform="translate(624.6 1795.7) scale(1 1.13)" font-size="26.3" text-anchor="middle">25</text>
<text class="b" transform="translate(365 1843.6) scale(1 1.067)" font-size="28" text-anchor="middle">Days post TC</text>
<text class="b" transform="translate(31.5 1572.4) rotate(-90)" font-size="29.2" text-anchor="middle">Tumor size (mm<tspan font-size="18" dy="-10.5">2</tspan><tspan dy="10.5">)</tspan></text>
<path d="M541.5 1678.4L541.5 1661M529 1661L554 1661" stroke="#ff2600" stroke-width="3.4" fill="none" stroke-linecap="round"/>
<polyline points="105.5,1755.4 271.6,1733.3 333.9,1713.7 396.2,1711.3 479.3,1702.5 541.5,1678.4" fill="none" stroke="#ff2600" stroke-width="3.5" stroke-linejoin="round"/>
<rect x="94.1" y="1744" width="22.8" height="22.8" fill="none" stroke="#ff2600" stroke-width="3.9"/>
<rect x="260.2" y="1721.9" width="22.8" height="22.8" fill="none" stroke="#ff2600" stroke-width="3.9"/>
<rect x="322.5" y="1702.3" width="22.8" height="22.8" fill="none" stroke="#ff2600" stroke-width="3.9"/>
<rect x="384.8" y="1699.9" width="22.8" height="22.8" fill="none" stroke="#ff2600" stroke-width="3.9"/>
<rect x="467.9" y="1691.1" width="22.8" height="22.8" fill="none" stroke="#ff2600" stroke-width="3.9"/>
<rect x="530.1" y="1667" width="22.8" height="22.8" fill="none" stroke="#ff2600" stroke-width="3.9"/>
<path d="M479.3 1628.9L479.3 1615.4M466.8 1615.4L491.8 1615.4" stroke="#ff2600" stroke-width="3.4" fill="none" stroke-linecap="round"/>
<path d="M541.5 1579.6L541.5 1561.3M529 1561.3L554 1561.3" stroke="#ff2600" stroke-width="3.4" fill="none" stroke-linecap="round"/>
<polyline points="105.5,1755.4 271.6,1733.3 333.9,1713.7 396.2,1688 479.3,1628.9 541.5,1579.6" fill="none" stroke="#ff2600" stroke-width="3.5" stroke-linejoin="round"/>
<rect x="93.5" y="1743.4" width="24" height="24" fill="#ff2600"/>
<rect x="259.6" y="1721.3" width="24" height="24" fill="#ff2600"/>
<rect x="321.9" y="1701.7" width="24" height="24" fill="#ff2600"/>
<rect x="384.2" y="1676" width="24" height="24" fill="#ff2600"/>
<rect x="467.3" y="1616.9" width="24" height="24" fill="#ff2600"/>
<rect x="529.5" y="1567.6" width="24" height="24" fill="#ff2600"/>
<path d="M479.3 1668.1L479.3 1655.4M466.8 1655.4L491.8 1655.4" stroke="#000" stroke-width="3.4" fill="none" stroke-linecap="round"/>
<path d="M541.5 1627L541.5 1600.7M529 1600.7L554 1600.7" stroke="#000" stroke-width="3.4" fill="none" stroke-linecap="round"/>
<polyline points="105.5,1755.4 271.6,1733.3 333.9,1713.7 396.2,1703.4 479.3,1668.1 541.5,1627" fill="none" stroke="#000" stroke-width="3.5" stroke-linejoin="round"/>
<path d="M95.9 1745.8L115.1 1765M95.9 1765L115.1 1745.8M92.5 1755.4L118.5 1755.4M105.5 1742.4L105.5 1768.4" stroke="#000" stroke-width="4.1" fill="none"/>
<path d="M262 1723.7L281.2 1743M262 1743L281.2 1723.7M258.6 1733.3L284.6 1733.3M271.6 1720.3L271.6 1746.3" stroke="#000" stroke-width="4.1" fill="none"/>
<path d="M324.3 1704.1L343.5 1723.3M324.3 1723.3L343.5 1704.1M320.9 1713.7L346.9 1713.7M333.9 1700.7L333.9 1726.7" stroke="#000" stroke-width="4.1" fill="none"/>
<path d="M386.6 1693.8L405.8 1713.1M386.6 1713.1L405.8 1693.8M383.2 1703.4L409.2 1703.4M396.2 1690.4L396.2 1716.4" stroke="#000" stroke-width="4.1" fill="none"/>
<path d="M469.6 1658.5L488.9 1677.8M469.6 1677.8L488.9 1658.5M466.3 1668.1L492.3 1668.1M479.3 1655.1L479.3 1681.1" stroke="#000" stroke-width="4.1" fill="none"/>
<path d="M531.9 1617.3L551.2 1636.6M531.9 1636.6L551.2 1617.3M528.5 1627L554.5 1627M541.5 1614L541.5 1640" stroke="#000" stroke-width="4.1" fill="none"/>
<polyline points="105.5,1755.4 271.6,1733.3 333.9,1713.7" fill="none" stroke="#ff2600" stroke-width="3.5" opacity="0.2"/>
<rect x="96.8" y="1746.7" width="17.5" height="17.5" fill="none" stroke="#ff2600" stroke-width="3.9" opacity="0.25"/>
<rect x="262.9" y="1724.6" width="17.5" height="17.5" fill="none" stroke="#ff2600" stroke-width="3.9" opacity="0.25"/>
<rect x="325.2" y="1705" width="17.5" height="17.5" fill="none" stroke="#ff2600" stroke-width="3.9" opacity="0.25"/>
<polyline points="105.5,1755.4 271.6,1733.3 333.9,1713.7" fill="none" stroke="#ff2600" stroke-width="3.5" opacity="0.2"/>
<rect x="95.9" y="1745.8" width="19.2" height="19.2" fill="#ff2600" opacity="0.25"/>
<rect x="262" y="1723.7" width="19.2" height="19.2" fill="#ff2600" opacity="0.25"/>
<rect x="324.3" y="1704.1" width="19.2" height="19.2" fill="#ff2600" opacity="0.25"/>
<g>
<rect x="532.1" y="1486.2" width="17.5" height="17.5" fill="#ff2600" opacity="0.27"/>
<rect x="532.1" y="1518.1" width="17.5" height="17.5" fill="#ff2600" opacity="0.27"/>
<rect x="542.7" y="1518.1" width="17.5" height="17.5" fill="#ff2600" opacity="0.27"/>
<rect x="521.5" y="1530.7" width="17.5" height="17.5" fill="#ff2600" opacity="0.27"/>
<rect x="469.7" y="1532.6" width="17.5" height="17.5" fill="#ff2600" opacity="0.27"/>
<rect x="472.2" y="1592.5" width="17.5" height="17.5" fill="#ff2600" opacity="0.27"/>
<rect x="479" y="1599.2" width="17.5" height="17.5" fill="#ff2600" opacity="0.27"/>
<rect x="506" y="1594.4" width="17.5" height="17.5" fill="#ff2600" opacity="0.27"/>
<rect x="486.7" y="1610.8" width="17.5" height="17.5" fill="#ff2600" opacity="0.27"/>
<rect x="451.9" y="1615.7" width="17.5" height="17.5" fill="#ff2600" opacity="0.27"/>
<rect x="548.5" y="1606" width="17.5" height="17.5" fill="#ff2600" opacity="0.27"/>
<rect x="558.2" y="1627.2" width="17.5" height="17.5" fill="#ff2600" opacity="0.27"/>
<rect x="517.6" y="1689.1" width="17.5" height="17.5" fill="#ff2600" opacity="0.27"/>
<rect x="383.9" y="1644.2" width="17.5" height="17.5" fill="#ff2600" opacity="0.27"/>
<rect x="390.1" y="1650.4" width="17.5" height="17.5" fill="#ff2600" opacity="0.27"/>
<rect x="387.2" y="1658.2" width="17.5" height="17.5" fill="#ff2600" opacity="0.27"/>
<rect x="324.4" y="1666.8" width="17.5" height="17.5" fill="#ff2600" opacity="0.27"/>
<rect x="325.4" y="1671.7" width="17.5" height="17.5" fill="#ff2600" opacity="0.27"/>
<rect x="366.9" y="1712.2" width="17.5" height="17.5" fill="#ff2600" opacity="0.27"/>
<rect x="397.8" y="1721.9" width="17.5" height="17.5" fill="#ff2600" opacity="0.27"/>
<rect x="491.5" y="1716.1" width="17.5" height="17.5" fill="#ff2600" opacity="0.27"/>
<rect x="309" y="1725.8" width="17.5" height="17.5" fill="#ff2600" opacity="0.27"/>
<rect x="115.4" y="1746.4" width="17.5" height="17.5" fill="#ff2600" opacity="0.27"/>
<rect x="123.1" y="1747.4" width="17.5" height="17.5" fill="#ff2600" opacity="0.27"/>
<rect x="263.2" y="1698.4" width="17.5" height="17.5" fill="#ff2600" opacity="0.27"/>
<rect x="244.9" y="1715.7" width="17.5" height="17.5" fill="#ff2600" opacity="0.27"/>
<rect x="270.8" y="1719.5" width="17.5" height="17.5" fill="#ff2600" opacity="0.27"/>
<rect x="263.2" y="1731" width="17.5" height="17.5" fill="#ff2600" opacity="0.27"/>
<rect x="253.6" y="1738.7" width="17.5" height="17.5" fill="#ff2600" opacity="0.27"/>
</g>
<g>
<rect x="514.8" y="1587.8" width="17.2" height="17.2" fill="none" stroke="#ff2600" stroke-width="3.1" opacity="0.27"/>
<rect x="515.8" y="1621.6" width="17.2" height="17.2" fill="none" stroke="#ff2600" stroke-width="3.1" opacity="0.27"/>
<rect x="542.9" y="1623.5" width="17.2" height="17.2" fill="none" stroke="#ff2600" stroke-width="3.1" opacity="0.27"/>
<rect x="548.6" y="1633.2" width="17.2" height="17.2" fill="none" stroke="#ff2600" stroke-width="3.1" opacity="0.27"/>
<rect x="496.5" y="1656.4" width="17.2" height="17.2" fill="none" stroke="#ff2600" stroke-width="3.1" opacity="0.27"/>
<rect x="486.8" y="1660.2" width="17.2" height="17.2" fill="none" stroke="#ff2600" stroke-width="3.1" opacity="0.27"/>
<rect x="487.8" y="1680.5" width="17.2" height="17.2" fill="none" stroke="#ff2600" stroke-width="3.1" opacity="0.27"/>
<rect x="542.9" y="1693.1" width="17.2" height="17.2" fill="none" stroke="#ff2600" stroke-width="3.1" opacity="0.27"/>
<rect x="370.9" y="1665.1" width="17.2" height="17.2" fill="none" stroke="#ff2600" stroke-width="3.1" opacity="0.27"/>
<rect x="387.4" y="1662.2" width="17.2" height="17.2" fill="none" stroke="#ff2600" stroke-width="3.1" opacity="0.27"/>
<rect x="407.6" y="1682.5" width="17.2" height="17.2" fill="none" stroke="#ff2600" stroke-width="3.1" opacity="0.27"/>
<rect x="365.1" y="1685.3" width="17.2" height="17.2" fill="none" stroke="#ff2600" stroke-width="3.1" opacity="0.27"/>
<rect x="336.2" y="1696.9" width="17.2" height="17.2" fill="none" stroke="#ff2600" stroke-width="3.1" opacity="0.27"/>
<rect x="450.1" y="1710.5" width="17.2" height="17.2" fill="none" stroke="#ff2600" stroke-width="3.1" opacity="0.27"/>
<rect x="460.8" y="1718.2" width="17.2" height="17.2" fill="none" stroke="#ff2600" stroke-width="3.1" opacity="0.27"/>
<rect x="479.1" y="1718.2" width="17.2" height="17.2" fill="none" stroke="#ff2600" stroke-width="3.1" opacity="0.27"/>
<rect x="469.5" y="1727.8" width="17.2" height="17.2" fill="none" stroke="#ff2600" stroke-width="3.1" opacity="0.27"/>
<rect x="486.8" y="1738.5" width="17.2" height="17.2" fill="none" stroke="#ff2600" stroke-width="3.1" opacity="0.27"/>
<rect x="511" y="1733.6" width="17.2" height="17.2" fill="none" stroke="#ff2600" stroke-width="3.1" opacity="0.27"/>
<rect x="521.6" y="1717.2" width="17.2" height="17.2" fill="none" stroke="#ff2600" stroke-width="3.1" opacity="0.27"/>
<rect x="542.9" y="1720.1" width="17.2" height="17.2" fill="none" stroke="#ff2600" stroke-width="3.1" opacity="0.27"/>
<rect x="532.2" y="1729.8" width="17.2" height="17.2" fill="none" stroke="#ff2600" stroke-width="3.1" opacity="0.27"/>
<rect x="410.5" y="1724" width="17.2" height="17.2" fill="none" stroke="#ff2600" stroke-width="3.1" opacity="0.27"/>
<rect x="399.9" y="1725.9" width="17.2" height="17.2" fill="none" stroke="#ff2600" stroke-width="3.1" opacity="0.27"/>
<rect x="365.1" y="1725.9" width="17.2" height="17.2" fill="none" stroke="#ff2600" stroke-width="3.1" opacity="0.27"/>
<rect x="346.8" y="1724.9" width="17.2" height="17.2" fill="none" stroke="#ff2600" stroke-width="3.1" opacity="0.27"/>
<rect x="311.1" y="1727.8" width="17.2" height="17.2" fill="none" stroke="#ff2600" stroke-width="3.1" opacity="0.27"/>
<rect x="244.1" y="1713.9" width="17.2" height="17.2" fill="none" stroke="#ff2600" stroke-width="3.1" opacity="0.27"/>
<rect x="253.7" y="1740.8" width="17.2" height="17.2" fill="none" stroke="#ff2600" stroke-width="3.1" opacity="0.27"/>
<rect x="278.7" y="1735" width="17.2" height="17.2" fill="none" stroke="#ff2600" stroke-width="3.1" opacity="0.27"/>
</g>
<g>
<path d="M534 1432.1L547.7 1445.8M534 1445.8L547.7 1432.1M532 1439L549.6 1439M540.8 1430.2L540.8 1447.8" stroke="#000" stroke-width="2.5" fill="none" opacity="0.26"/><path d="M534 1432.1L547.7 1445.8M534 1445.8L547.7 1432.1M532 1439L549.6 1439M540.8 1430.2L540.8 1447.8" stroke="#9a3fc4" stroke-width="1" fill="none" opacity="0.5"/>
<path d="M463.1 1584.3L476.8 1598.1M463.1 1598.1L476.8 1584.3M461.1 1591.2L478.7 1591.2M469.9 1582.4L469.9 1600" stroke="#000" stroke-width="2.5" fill="none" opacity="0.26"/><path d="M463.1 1584.3L476.8 1598.1M463.1 1598.1L476.8 1584.3M461.1 1591.2L478.7 1591.2M469.9 1582.4L469.9 1600" stroke="#9a3fc4" stroke-width="1" fill="none" opacity="0.5"/>
<path d="M559.7 1596.3L573.4 1610M559.7 1610L573.4 1596.3M557.7 1603.2L575.3 1603.2M566.5 1594.4L566.5 1612" stroke="#000" stroke-width="2.5" fill="none" opacity="0.26"/><path d="M559.7 1596.3L573.4 1610M559.7 1610L573.4 1596.3M557.7 1603.2L575.3 1603.2M566.5 1594.4L566.5 1612" stroke="#9a3fc4" stroke-width="1" fill="none" opacity="0.5"/>
<path d="M539.8 1594.4L553.5 1608.1M539.8 1608.1L553.5 1594.4M537.8 1601.2L555.4 1601.2M546.6 1592.4L546.6 1610" stroke="#000" stroke-width="2.5" fill="none" opacity="0.26"/><path d="M539.8 1594.4L553.5 1608.1M539.8 1608.1L553.5 1594.4M537.8 1601.2L555.4 1601.2M546.6 1592.4L546.6 1610" stroke="#9a3fc4" stroke-width="1" fill="none" opacity="0.5"/>
<path d="M527.2 1606L540.9 1619.7M527.2 1619.7L540.9 1606M525.3 1612.8L542.9 1612.8M534.1 1604L534.1 1621.6" stroke="#000" stroke-width="2.5" fill="none" opacity="0.26"/><path d="M527.2 1606L540.9 1619.7M527.2 1619.7L540.9 1606M525.3 1612.8L542.9 1612.8M534.1 1604L534.1 1621.6" stroke="#9a3fc4" stroke-width="1" fill="none" opacity="0.5"/>
<path d="M479.9 1632L493.6 1645.8M479.9 1645.8L493.6 1632M477.9 1638.9L495.5 1638.9M486.7 1630.1L486.7 1647.7" stroke="#000" stroke-width="2.5" fill="none" opacity="0.26"/><path d="M479.9 1632L493.6 1645.8M479.9 1645.8L493.6 1632M477.9 1638.9L495.5 1638.9M486.7 1630.1L486.7 1647.7" stroke="#9a3fc4" stroke-width="1" fill="none" opacity="0.5"/>
<path d="M489.5 1636.9L503.3 1650.6M489.5 1650.6L503.3 1636.9M487.6 1643.7L505.2 1643.7M496.4 1634.9L496.4 1652.5" stroke="#000" stroke-width="2.5" fill="none" opacity="0.26"/><path d="M489.5 1636.9L503.3 1650.6M489.5 1650.6L503.3 1636.9M487.6 1643.7L505.2 1643.7M496.4 1634.9L496.4 1652.5" stroke="#9a3fc4" stroke-width="1" fill="none" opacity="0.5"/>
<path d="M507.9 1635.9L521.6 1649.6M507.9 1649.6L521.6 1635.9M506 1642.8L523.6 1642.8M514.8 1634L514.8 1651.6" stroke="#000" stroke-width="2.5" fill="none" opacity="0.26"/><path d="M507.9 1635.9L521.6 1649.6M507.9 1649.6L521.6 1635.9M506 1642.8L523.6 1642.8M514.8 1634L514.8 1651.6" stroke="#9a3fc4" stroke-width="1" fill="none" opacity="0.5"/>
<path d="M539.8 1634L553.5 1647.7M539.8 1647.7L553.5 1634M537.8 1640.8L555.4 1640.8M546.6 1632L546.6 1649.6" stroke="#000" stroke-width="2.5" fill="none" opacity="0.26"/><path d="M539.8 1634L553.5 1647.7M539.8 1647.7L553.5 1634M537.8 1640.8L555.4 1640.8M546.6 1632L546.6 1649.6" stroke="#9a3fc4" stroke-width="1" fill="none" opacity="0.5"/>
<path d="M528.2 1629.1L541.9 1642.9M528.2 1642.9L541.9 1629.1M526.2 1636L543.8 1636M535 1627.2L535 1644.8" stroke="#000" stroke-width="2.5" fill="none" opacity="0.26"/><path d="M528.2 1629.1L541.9 1642.9M528.2 1642.9L541.9 1629.1M526.2 1636L543.8 1636M535 1627.2L535 1644.8" stroke="#9a3fc4" stroke-width="1" fill="none" opacity="0.5"/>
<path d="M454.8 1643.6L468.5 1657.4M454.8 1657.4L468.5 1643.6M452.8 1650.5L470.4 1650.5M461.6 1641.7L461.6 1659.3" stroke="#000" stroke-width="2.5" fill="none" opacity="0.26"/><path d="M454.8 1643.6L468.5 1657.4M454.8 1657.4L468.5 1643.6M452.8 1650.5L470.4 1650.5M461.6 1641.7L461.6 1659.3" stroke="#9a3fc4" stroke-width="1" fill="none" opacity="0.5"/>
<path d="M445.1 1656.2L458.8 1669.9M445.1 1669.9L458.8 1656.2M443.2 1663L460.8 1663M452 1654.2L452 1671.8" stroke="#000" stroke-width="2.5" fill="none" opacity="0.26"/><path d="M445.1 1656.2L458.8 1669.9M445.1 1669.9L458.8 1656.2M443.2 1663L460.8 1663M452 1654.2L452 1671.8" stroke="#9a3fc4" stroke-width="1" fill="none" opacity="0.5"/>
<path d="M451.9 1662L465.6 1675.7M451.9 1675.7L465.6 1662M449.9 1668.8L467.5 1668.8M458.7 1660L458.7 1677.6" stroke="#000" stroke-width="2.5" fill="none" opacity="0.26"/><path d="M451.9 1662L465.6 1675.7M451.9 1675.7L465.6 1662M449.9 1668.8L467.5 1668.8M458.7 1660L458.7 1677.6" stroke="#9a3fc4" stroke-width="1" fill="none" opacity="0.5"/>
<path d="M462.5 1673.6L476.2 1687.3M462.5 1687.3L476.2 1673.6M460.6 1680.4L478.2 1680.4M469.4 1671.6L469.4 1689.2" stroke="#000" stroke-width="2.5" fill="none" opacity="0.26"/><path d="M462.5 1673.6L476.2 1687.3M462.5 1687.3L476.2 1673.6M460.6 1680.4L478.2 1680.4M469.4 1671.6L469.4 1689.2" stroke="#9a3fc4" stroke-width="1" fill="none" opacity="0.5"/>
<path d="M380.4 1670.7L394.1 1684.4M380.4 1684.4L394.1 1670.7M378.5 1677.5L396.1 1677.5M387.3 1668.7L387.3 1686.3" stroke="#000" stroke-width="2.5" fill="none" opacity="0.26"/><path d="M380.4 1670.7L394.1 1684.4M380.4 1684.4L394.1 1670.7M378.5 1677.5L396.1 1677.5M387.3 1668.7L387.3 1686.3" stroke="#9a3fc4" stroke-width="1" fill="none" opacity="0.5"/>
<path d="M403.6 1670.7L417.3 1684.4M403.6 1684.4L417.3 1670.7M401.6 1677.5L419.2 1677.5M410.4 1668.7L410.4 1686.3" stroke="#000" stroke-width="2.5" fill="none" opacity="0.26"/><path d="M403.6 1670.7L417.3 1684.4M403.6 1684.4L417.3 1670.7M401.6 1677.5L419.2 1677.5M410.4 1668.7L410.4 1686.3" stroke="#9a3fc4" stroke-width="1" fill="none" opacity="0.5"/>
<path d="M325.3 1681.3L339.1 1695M325.3 1695L339.1 1681.3M323.4 1688.2L341 1688.2M332.2 1679.4L332.2 1697" stroke="#000" stroke-width="2.5" fill="none" opacity="0.26"/><path d="M325.3 1681.3L339.1 1695M325.3 1695L339.1 1681.3M323.4 1688.2L341 1688.2M332.2 1679.4L332.2 1697" stroke="#9a3fc4" stroke-width="1" fill="none" opacity="0.5"/>
<path d="M313.8 1690.9L327.5 1704.7M313.8 1704.7L327.5 1690.9M311.8 1697.8L329.4 1697.8M320.6 1689L320.6 1706.6" stroke="#000" stroke-width="2.5" fill="none" opacity="0.26"/><path d="M313.8 1690.9L327.5 1704.7M313.8 1704.7L327.5 1690.9M311.8 1697.8L329.4 1697.8M320.6 1689L320.6 1706.6" stroke="#9a3fc4" stroke-width="1" fill="none" opacity="0.5"/>
<path d="M363 1691.9L376.7 1705.6M363 1705.6L376.7 1691.9M361.1 1698.8L378.7 1698.8M369.9 1690L369.9 1707.6" stroke="#000" stroke-width="2.5" fill="none" opacity="0.26"/><path d="M363 1691.9L376.7 1705.6M363 1705.6L376.7 1691.9M361.1 1698.8L378.7 1698.8M369.9 1690L369.9 1707.6" stroke="#9a3fc4" stroke-width="1" fill="none" opacity="0.5"/>
<path d="M415.2 1691.9L428.9 1705.6M415.2 1705.6L428.9 1691.9M413.2 1698.8L430.8 1698.8M422 1690L422 1707.6" stroke="#000" stroke-width="2.5" fill="none" opacity="0.26"/><path d="M415.2 1691.9L428.9 1705.6M415.2 1705.6L428.9 1691.9M413.2 1698.8L430.8 1698.8M422 1690L422 1707.6" stroke="#9a3fc4" stroke-width="1" fill="none" opacity="0.5"/>
<path d="M471.2 1692.9L484.9 1706.6M471.2 1706.6L484.9 1692.9M469.3 1699.7L486.9 1699.7M478.1 1690.9L478.1 1708.5" stroke="#000" stroke-width="2.5" fill="none" opacity="0.26"/><path d="M471.2 1692.9L484.9 1706.6M471.2 1706.6L484.9 1692.9M469.3 1699.7L486.9 1699.7M478.1 1690.9L478.1 1708.5" stroke="#9a3fc4" stroke-width="1" fill="none" opacity="0.5"/>
<path d="M478.9 1692.9L492.6 1706.6M478.9 1706.6L492.6 1692.9M477 1699.7L494.6 1699.7M485.8 1690.9L485.8 1708.5" stroke="#000" stroke-width="2.5" fill="none" opacity="0.26"/><path d="M478.9 1692.9L492.6 1706.6M478.9 1706.6L492.6 1692.9M477 1699.7L494.6 1699.7M485.8 1690.9L485.8 1708.5" stroke="#9a3fc4" stroke-width="1" fill="none" opacity="0.5"/>
<path d="M534 1699.6L547.7 1713.4M534 1713.4L547.7 1699.6M532 1706.5L549.6 1706.5M540.8 1697.7L540.8 1715.3" stroke="#000" stroke-width="2.5" fill="none" opacity="0.26"/><path d="M534 1699.6L547.7 1713.4M534 1713.4L547.7 1699.6M532 1706.5L549.6 1706.5M540.8 1697.7L540.8 1715.3" stroke="#9a3fc4" stroke-width="1" fill="none" opacity="0.5"/>
<path d="M352.4 1717L366.1 1730.8M352.4 1730.8L366.1 1717M350.5 1723.9L368.1 1723.9M359.3 1715.1L359.3 1732.7" stroke="#000" stroke-width="2.5" fill="none" opacity="0.26"/><path d="M352.4 1717L366.1 1730.8M352.4 1730.8L366.1 1717M350.5 1723.9L368.1 1723.9M359.3 1715.1L359.3 1732.7" stroke="#9a3fc4" stroke-width="1" fill="none" opacity="0.5"/>
<path d="M377.5 1721.9L391.2 1735.6M377.5 1735.6L391.2 1721.9M375.6 1728.7L393.2 1728.7M384.4 1719.9L384.4 1737.5" stroke="#000" stroke-width="2.5" fill="none" opacity="0.26"/><path d="M377.5 1721.9L391.2 1735.6M377.5 1735.6L391.2 1721.9M375.6 1728.7L393.2 1728.7M384.4 1719.9L384.4 1737.5" stroke="#9a3fc4" stroke-width="1" fill="none" opacity="0.5"/>
<path d="M389.1 1731.5L402.8 1745.2M389.1 1745.2L402.8 1731.5M387.2 1738.4L404.8 1738.4M396 1729.6L396 1747.2" stroke="#000" stroke-width="2.5" fill="none" opacity="0.26"/><path d="M389.1 1731.5L402.8 1745.2M389.1 1745.2L402.8 1731.5M387.2 1738.4L404.8 1738.4M396 1729.6L396 1747.2" stroke="#9a3fc4" stroke-width="1" fill="none" opacity="0.5"/>
<path d="M454.8 1734.4L468.5 1748.1M454.8 1748.1L468.5 1734.4M452.8 1741.3L470.4 1741.3M461.6 1732.5L461.6 1750.1" stroke="#000" stroke-width="2.5" fill="none" opacity="0.26"/><path d="M454.8 1734.4L468.5 1748.1M454.8 1748.1L468.5 1734.4M452.8 1741.3L470.4 1741.3M461.6 1732.5L461.6 1750.1" stroke="#9a3fc4" stroke-width="1" fill="none" opacity="0.5"/>
<path d="M554.2 1736.3L568 1750.1M554.2 1750.1L568 1736.3M552.3 1743.2L569.9 1743.2M561.1 1734.4L561.1 1752" stroke="#000" stroke-width="2.5" fill="none" opacity="0.26"/><path d="M554.2 1736.3L568 1750.1M554.2 1750.1L568 1736.3M552.3 1743.2L569.9 1743.2M561.1 1734.4L561.1 1752" stroke="#9a3fc4" stroke-width="1" fill="none" opacity="0.5"/>
<path d="M326.3 1723.8L340 1737.5M326.3 1737.5L340 1723.8M324.4 1730.6L342 1730.6M333.2 1721.8L333.2 1739.4" stroke="#000" stroke-width="2.5" fill="none" opacity="0.26"/><path d="M326.3 1723.8L340 1737.5M326.3 1737.5L340 1723.8M324.4 1730.6L342 1730.6M333.2 1721.8L333.2 1739.4" stroke="#9a3fc4" stroke-width="1" fill="none" opacity="0.5"/>
<path d="M307 1719.9L320.7 1733.6M307 1733.6L320.7 1719.9M305.1 1726.8L322.7 1726.8M313.9 1718L313.9 1735.6" stroke="#000" stroke-width="2.5" fill="none" opacity="0.26"/><path d="M307 1719.9L320.7 1733.6M307 1733.6L320.7 1719.9M305.1 1726.8L322.7 1726.8M313.9 1718L313.9 1735.6" stroke="#9a3fc4" stroke-width="1" fill="none" opacity="0.5"/>
<path d="M334 1708.3L347.8 1722.1M334 1722.1L347.8 1708.3M332.1 1715.2L349.7 1715.2M340.9 1706.4L340.9 1724" stroke="#000" stroke-width="2.5" fill="none" opacity="0.26"/><path d="M334 1708.3L347.8 1722.1M334 1722.1L347.8 1708.3M332.1 1715.2L349.7 1715.2M340.9 1706.4L340.9 1724" stroke="#9a3fc4" stroke-width="1" fill="none" opacity="0.5"/>
<path d="M317.6 1710.3L331.4 1724M317.6 1724L331.4 1710.3M315.7 1717.1L333.3 1717.1M324.5 1708.3L324.5 1725.9" stroke="#000" stroke-width="2.5" fill="none" opacity="0.26"/><path d="M317.6 1710.3L331.4 1724M317.6 1724L331.4 1710.3M315.7 1717.1L333.3 1717.1M324.5 1708.3L324.5 1725.9" stroke="#9a3fc4" stroke-width="1" fill="none" opacity="0.5"/>
<path d="M393.9 1710.3L407.7 1724M393.9 1724L407.7 1710.3M392 1717.1L409.6 1717.1M400.8 1708.3L400.8 1725.9" stroke="#000" stroke-width="2.5" fill="none" opacity="0.26"/><path d="M393.9 1710.3L407.7 1724M393.9 1724L407.7 1710.3M392 1717.1L409.6 1717.1M400.8 1708.3L400.8 1725.9" stroke="#9a3fc4" stroke-width="1" fill="none" opacity="0.5"/>
<path d="M101.9 1748.3L115.6 1762M101.9 1762L115.6 1748.3M100 1755.1L117.6 1755.1M108.8 1746.3L108.8 1763.9" stroke="#000" stroke-width="2.5" fill="none" opacity="0.26"/><path d="M101.9 1748.3L115.6 1762M101.9 1762L115.6 1748.3M100 1755.1L117.6 1755.1M108.8 1746.3L108.8 1763.9" stroke="#9a3fc4" stroke-width="1" fill="none" opacity="0.5"/>
<path d="M113.4 1748.3L127.2 1762M113.4 1762L127.2 1748.3M111.5 1755.1L129.1 1755.1M120.3 1746.3L120.3 1763.9" stroke="#000" stroke-width="2.5" fill="none" opacity="0.26"/><path d="M113.4 1748.3L127.2 1762M113.4 1762L127.2 1748.3M111.5 1755.1L129.1 1755.1M120.3 1746.3L120.3 1763.9" stroke="#9a3fc4" stroke-width="1" fill="none" opacity="0.5"/>
<path d="M124.9 1748.3L138.7 1762M124.9 1762L138.7 1748.3M123 1755.1L140.6 1755.1M131.8 1746.3L131.8 1763.9" stroke="#000" stroke-width="2.5" fill="none" opacity="0.26"/><path d="M124.9 1748.3L138.7 1762M124.9 1762L138.7 1748.3M123 1755.1L140.6 1755.1M131.8 1746.3L131.8 1763.9" stroke="#9a3fc4" stroke-width="1" fill="none" opacity="0.5"/>
<path d="M249.7 1705.1L263.4 1718.8M249.7 1718.8L263.4 1705.1M247.7 1712L265.3 1712M256.5 1703.2L256.5 1720.8" stroke="#000" stroke-width="2.5" fill="none" opacity="0.26"/><path d="M249.7 1705.1L263.4 1718.8M249.7 1718.8L263.4 1705.1M247.7 1712L265.3 1712M256.5 1703.2L256.5 1720.8" stroke="#9a3fc4" stroke-width="1" fill="none" opacity="0.5"/>
<path d="M240.1 1723.3L253.8 1737.1M240.1 1737.1L253.8 1723.3M238.2 1730.2L255.8 1730.2M247 1721.4L247 1739" stroke="#000" stroke-width="2.5" fill="none" opacity="0.26"/><path d="M240.1 1723.3L253.8 1737.1M240.1 1737.1L253.8 1723.3M238.2 1730.2L255.8 1730.2M247 1721.4L247 1739" stroke="#9a3fc4" stroke-width="1" fill="none" opacity="0.5"/>
<path d="M238.2 1734.8L251.9 1748.6M238.2 1748.6L251.9 1734.8M236.2 1741.7L253.8 1741.7M245 1732.9L245 1750.5" stroke="#000" stroke-width="2.5" fill="none" opacity="0.26"/><path d="M238.2 1734.8L251.9 1748.6M238.2 1748.6L251.9 1734.8M236.2 1741.7L253.8 1741.7M245 1732.9L245 1750.5" stroke="#9a3fc4" stroke-width="1" fill="none" opacity="0.5"/>
<path d="M267 1736.8L280.7 1750.5M267 1750.5L280.7 1736.8M265 1743.6L282.6 1743.6M273.8 1734.8L273.8 1752.4" stroke="#000" stroke-width="2.5" fill="none" opacity="0.26"/><path d="M267 1736.8L280.7 1750.5M267 1750.5L280.7 1736.8M265 1743.6L282.6 1743.6M273.8 1734.8L273.8 1752.4" stroke="#9a3fc4" stroke-width="1" fill="none" opacity="0.5"/>
<path d="M286.1 1729.1L299.9 1742.8M286.1 1742.8L299.9 1729.1M284.2 1736L301.8 1736M293 1727.2L293 1744.8" stroke="#000" stroke-width="2.5" fill="none" opacity="0.26"/><path d="M286.1 1729.1L299.9 1742.8M286.1 1742.8L299.9 1729.1M284.2 1736L301.8 1736M293 1727.2L293 1744.8" stroke="#9a3fc4" stroke-width="1" fill="none" opacity="0.5"/>
<path d="M284.2 1711.8L298 1725.5M284.2 1725.5L298 1711.8M282.3 1718.7L299.9 1718.7M291.1 1709.9L291.1 1727.5" stroke="#000" stroke-width="2.5" fill="none" opacity="0.26"/><path d="M284.2 1711.8L298 1725.5M284.2 1725.5L298 1711.8M282.3 1718.7L299.9 1718.7M291.1 1709.9L291.1 1727.5" stroke="#9a3fc4" stroke-width="1" fill="none" opacity="0.5"/>
<path d="M257.4 1717.6L271.1 1731.3M257.4 1731.3L271.1 1717.6M255.4 1724.4L273 1724.4M264.2 1715.6L264.2 1733.2" stroke="#000" stroke-width="2.5" fill="none" opacity="0.26"/><path d="M257.4 1717.6L271.1 1731.3M257.4 1731.3L271.1 1717.6M255.4 1724.4L273 1724.4M264.2 1715.6L264.2 1733.2" stroke="#9a3fc4" stroke-width="1" fill="none" opacity="0.5"/>
</g>
</g>
<g id="c2">
<path d="M775 1387.9L775 1755.9L1302.5 1755.9" fill="none" stroke="#000" stroke-width="5.8" stroke-linejoin="miter"/>
<path d="M765.7 1634.1L775 1634.1M765.7 1512.2L775 1512.2M765.7 1390.4L775 1390.4M775 1755.9L775 1766.2M880 1755.9L880 1766.2M985 1755.9L985 1766.2M1090 1755.9L1090 1766.2M1195 1755.9L1195 1766.2M1300 1755.9L1300 1766.2" fill="none" stroke="#000" stroke-width="5"/>
<text class="b" transform="translate(761.1 1765.3) scale(1 1.13)" font-size="26.3" text-anchor="end">0</text>
<text class="b" transform="translate(761.1 1643.5) scale(1 1.13)" font-size="26.3" text-anchor="end">50</text>
<text class="b" transform="translate(761.1 1521.6) scale(1 1.13)" font-size="26.3" text-anchor="end">100</text>
<text class="b" transform="translate(761.1 1399.8) scale(1 1.13)" font-size="26.3" text-anchor="end">150</text>
<text class="b" transform="translate(775 1796.1) scale(1 1.13)" font-size="26.3" text-anchor="middle">0</text>
<text class="b" transform="translate(880 1796.1) scale(1 1.13)" font-size="26.3" text-anchor="middle">5</text>
<text class="b" transform="translate(985 1796.1) scale(1 1.13)" font-size="26.3" text-anchor="middle">10</text>
<text class="b" transform="translate(1090 1796.1) scale(1 1.13)" font-size="26.3" text-anchor="middle">15</text>
<text class="b" transform="translate(1195 1796.1) scale(1 1.13)" font-size="26.3" text-anchor="middle">20</text>
<text class="b" transform="translate(1300 1796.1) scale(1 1.13)" font-size="26.3" text-anchor="middle">25</text>
<text class="b" transform="translate(1037.5 1843.6) scale(1 1.067)" font-size="28" text-anchor="middle">Days post TC</text>
<text class="b" transform="translate(700.1 1573) rotate(-90)" font-size="29.2" text-anchor="middle">Tumor size (mm<tspan font-size="18" dy="-10.5">2</tspan><tspan dy="10.5">)</tspan></text>
<polyline points="775,1755.9 943,1734 1006,1714.5 1069,1717.2 1153,1699.9 1216,1653.6" fill="none" stroke="#4f8f00" stroke-width="3.5" stroke-linejoin="round"/>
<path d="M775 1745.4L786.1 1767.3L763.9 1767.3Z" fill="none" stroke="#4f8f00" stroke-width="3.8" stroke-linejoin="round"/>
<path d="M943 1723.5L954.1 1745.4L931.9 1745.4Z" fill="none" stroke="#4f8f00" stroke-width="3.8" stroke-linejoin="round"/>
<path d="M1006 1704L1017.1 1725.9L994.9 1725.9Z" fill="none" stroke="#4f8f00" stroke-width="3.8" stroke-linejoin="round"/>
<path d="M1069 1706.7L1080.1 1728.6L1057.9 1728.6Z" fill="none" stroke="#4f8f00" stroke-width="3.8" stroke-linejoin="round"/>
<path d="M1153 1689.4L1164.1 1711.3L1141.9 1711.3Z" fill="none" stroke="#4f8f00" stroke-width="3.8" stroke-linejoin="round"/>
<path d="M1216 1643.1L1227.1 1665L1204.9 1665Z" fill="none" stroke="#4f8f00" stroke-width="3.8" stroke-linejoin="round"/>
<path d="M1153 1648.7L1153 1628.9M1140.5 1628.9L1165.5 1628.9" stroke="#4f8f00" stroke-width="3.4" fill="none" stroke-linecap="round"/>
<path d="M1216 1581.9L1216 1550M1203.5 1550L1228.5 1550" stroke="#4f8f00" stroke-width="3.4" fill="none" stroke-linecap="round"/>
<polyline points="775,1755.9 943,1734 1006,1714.5 1069,1697.9 1153,1648.7 1216,1581.9" fill="none" stroke="#4f8f00" stroke-width="3.5" stroke-linejoin="round"/>
<path d="M775 1743.9L787.8 1767.9L762.2 1767.9Z" fill="#4f8f00"/>
<path d="M943 1722L955.8 1746L930.2 1746Z" fill="#4f8f00"/>
<path d="M1006 1702.5L1018.8 1726.5L993.2 1726.5Z" fill="#4f8f00"/>
<path d="M1069 1685.9L1081.8 1709.9L1056.2 1709.9Z" fill="#4f8f00"/>
<path d="M1153 1636.7L1165.8 1660.7L1140.2 1660.7Z" fill="#4f8f00"/>
<path d="M1216 1569.9L1228.8 1593.9L1203.2 1593.9Z" fill="#4f8f00"/>
<path d="M1153 1669.2L1153 1656.5M1140.5 1656.5L1165.5 1656.5" stroke="#000" stroke-width="3.4" fill="none" stroke-linecap="round"/>
<path d="M1216 1628.2L1216 1602.1M1203.5 1602.1L1228.5 1602.1" stroke="#000" stroke-width="3.4" fill="none" stroke-linecap="round"/>
<polyline points="775,1755.9 943,1734 1006,1714.5 1069,1704.2 1153,1669.2 1216,1628.2" fill="none" stroke="#000" stroke-width="3.5" stroke-linejoin="round"/>
<path d="M765.4 1746.3L784.6 1765.5M765.4 1765.5L784.6 1746.3M762 1755.9L788 1755.9M775 1742.9L775 1768.9" stroke="#000" stroke-width="4.1" fill="none"/>
<path d="M933.4 1724.4L952.6 1743.6M933.4 1743.6L952.6 1724.4M930 1734L956 1734M943 1721L943 1747" stroke="#000" stroke-width="4.1" fill="none"/>
<path d="M996.4 1704.9L1015.6 1724.1M996.4 1724.1L1015.6 1704.9M993 1714.5L1019 1714.5M1006 1701.5L1006 1727.5" stroke="#000" stroke-width="4.1" fill="none"/>
<path d="M1059.4 1694.6L1078.6 1713.9M1059.4 1713.9L1078.6 1694.6M1056 1704.2L1082 1704.2M1069 1691.2L1069 1717.2" stroke="#000" stroke-width="4.1" fill="none"/>
<path d="M1143.4 1659.5L1162.6 1678.8M1143.4 1678.8L1162.6 1659.5M1140 1669.2L1166 1669.2M1153 1656.2L1153 1682.2" stroke="#000" stroke-width="4.1" fill="none"/>
<path d="M1206.4 1618.6L1225.6 1637.8M1206.4 1637.8L1225.6 1618.6M1203 1628.2L1229 1628.2M1216 1615.2L1216 1641.2" stroke="#000" stroke-width="4.1" fill="none"/>
<polyline points="775,1755.9 943,1734 1006,1714.5" fill="none" stroke="#4f8f00" stroke-width="3.5" opacity="0.2"/>
<path d="M775 1747.8L783.3 1765L766.7 1765Z" fill="none" stroke="#4f8f00" stroke-width="3.8" stroke-linejoin="round" opacity="0.25"/>
<path d="M943 1725.8L951.3 1743.1L934.7 1743.1Z" fill="none" stroke="#4f8f00" stroke-width="3.8" stroke-linejoin="round" opacity="0.25"/>
<path d="M1006 1706.3L1014.3 1723.6L997.7 1723.6Z" fill="none" stroke="#4f8f00" stroke-width="3.8" stroke-linejoin="round" opacity="0.25"/>
<polyline points="775,1755.9 943,1734 1006,1714.5" fill="none" stroke="#4f8f00" stroke-width="3.5" opacity="0.2"/>
<path d="M775 1745.7L785.2 1766.1L764.8 1766.1Z" fill="#4f8f00" opacity="0.25"/>
<path d="M943 1723.8L953.2 1744.2L932.8 1744.2Z" fill="#4f8f00" opacity="0.25"/>
<path d="M1006 1704.3L1016.2 1724.7L995.8 1724.7Z" fill="#4f8f00" opacity="0.25"/>
<g>
<path d="M1215.7 1399.1L1224.7 1417.1L1206.7 1417.1Z" fill="#4f8f00" opacity="0.27"/>
<path d="M1152.3 1473.4L1161.3 1491.4L1143.3 1491.4Z" fill="#4f8f00" opacity="0.27"/>
<path d="M1215.7 1498.5L1224.7 1516.5L1206.7 1516.5Z" fill="#4f8f00" opacity="0.27"/>
<path d="M1206 1534.3L1215 1552.3L1197 1552.3Z" fill="#4f8f00" opacity="0.27"/>
<path d="M1215.7 1543L1224.7 1561L1206.7 1561Z" fill="#4f8f00" opacity="0.27"/>
<path d="M1225.3 1547.8L1234.3 1565.8L1216.3 1565.8Z" fill="#4f8f00" opacity="0.27"/>
<path d="M1068.5 1614.4L1077.5 1632.4L1059.5 1632.4Z" fill="#4f8f00" opacity="0.27"/>
<path d="M1068.5 1643.4L1077.5 1661.4L1059.5 1661.4Z" fill="#4f8f00" opacity="0.27"/>
<path d="M1068.5 1662.7L1077.5 1680.7L1059.5 1680.7Z" fill="#4f8f00" opacity="0.27"/>
<path d="M1171.2 1621.2L1180.2 1639.2L1162.2 1639.2Z" fill="#4f8f00" opacity="0.27"/>
<path d="M1231.1 1611.5L1240.1 1629.5L1222.1 1629.5Z" fill="#4f8f00" opacity="0.27"/>
<path d="M1223.4 1603.8L1232.4 1621.8L1214.4 1621.8Z" fill="#4f8f00" opacity="0.27"/>
<path d="M1126.8 1647.3L1135.8 1665.3L1117.8 1665.3Z" fill="#4f8f00" opacity="0.27"/>
<path d="M1180.9 1644.4L1189.9 1662.4L1171.9 1662.4Z" fill="#4f8f00" opacity="0.27"/>
<path d="M1173.2 1650.2L1182.2 1668.2L1164.2 1668.2Z" fill="#4f8f00" opacity="0.27"/>
<path d="M1126.8 1681.1L1135.8 1699.1L1117.8 1699.1Z" fill="#4f8f00" opacity="0.27"/>
<path d="M1019.6 1681.1L1028.6 1699.1L1010.6 1699.1Z" fill="#4f8f00" opacity="0.27"/>
<path d="M1025.4 1694.6L1034.4 1712.6L1016.4 1712.6Z" fill="#4f8f00" opacity="0.27"/>
<path d="M1204.1 1742.9L1213.1 1760.9L1195.1 1760.9Z" fill="#4f8f00" opacity="0.27"/>
<path d="M1142.3 1744.8L1151.3 1762.8L1133.3 1762.8Z" fill="#4f8f00" opacity="0.27"/>
<path d="M1080.4 1737.1L1089.4 1755.1L1071.4 1755.1Z" fill="#4f8f00" opacity="0.27"/>
<path d="M1006.1 1737.1L1015.1 1755.1L997.1 1755.1Z" fill="#4f8f00" opacity="0.27"/>
<path d="M1046.6 1717.8L1055.6 1735.8L1037.6 1735.8Z" fill="#4f8f00" opacity="0.27"/>
<path d="M1095.9 1708.1L1104.9 1726.1L1086.9 1726.1Z" fill="#4f8f00" opacity="0.27"/>
<path d="M1157.7 1738.1L1166.7 1756.1L1148.7 1756.1Z" fill="#4f8f00" opacity="0.27"/>
<path d="M1219.5 1739L1228.5 1757L1210.5 1757Z" fill="#4f8f00" opacity="0.27"/>
<path d="M792.2 1748.1L801.2 1766.1L783.2 1766.1Z" fill="#4f8f00" opacity="0.27"/>
<path d="M799.9 1749L808.9 1767L790.9 1767Z" fill="#4f8f00" opacity="0.27"/>
<path d="M918.9 1721.2L927.9 1739.2L909.9 1739.2Z" fill="#4f8f00" opacity="0.27"/>
<path d="M949.6 1713.5L958.6 1731.5L940.6 1731.5Z" fill="#4f8f00" opacity="0.27"/>
<path d="M930.4 1738.5L939.4 1756.5L921.4 1756.5Z" fill="#4f8f00" opacity="0.27"/>
<path d="M966.8 1723.1L975.8 1741.1L957.8 1741.1Z" fill="#4f8f00" opacity="0.27"/>
<path d="M970.7 1732.7L979.7 1750.7L961.7 1750.7Z" fill="#4f8f00" opacity="0.27"/>
<path d="M943.8 1711.6L952.8 1729.6L934.8 1729.6Z" fill="#4f8f00" opacity="0.27"/>
</g>
<g>
<path d="M1205 1556.5L1213.2 1573.4L1196.8 1573.4Z" fill="none" stroke="#4f8f00" stroke-width="3.3" stroke-linejoin="round" opacity="0.3"/>
<path d="M1196.3 1616.4L1204.5 1633.3L1188.2 1633.3Z" fill="none" stroke="#4f8f00" stroke-width="3.3" stroke-linejoin="round" opacity="0.3"/>
<path d="M1223.4 1608.7L1231.6 1625.5L1215.2 1625.5Z" fill="none" stroke="#4f8f00" stroke-width="3.3" stroke-linejoin="round" opacity="0.3"/>
<path d="M1223.4 1641.5L1231.6 1658.4L1215.2 1658.4Z" fill="none" stroke="#4f8f00" stroke-width="3.3" stroke-linejoin="round" opacity="0.3"/>
<path d="M1223.4 1664.7L1231.6 1681.6L1215.2 1681.6Z" fill="none" stroke="#4f8f00" stroke-width="3.3" stroke-linejoin="round" opacity="0.3"/>
<path d="M1214.7 1676.3L1222.9 1693.1L1206.5 1693.1Z" fill="none" stroke="#4f8f00" stroke-width="3.3" stroke-linejoin="round" opacity="0.3"/>
<path d="M1180.9 1684L1189.1 1700.9L1172.7 1700.9Z" fill="none" stroke="#4f8f00" stroke-width="3.3" stroke-linejoin="round" opacity="0.3"/>
<path d="M1148.1 1709.1L1156.2 1726L1139.9 1726Z" fill="none" stroke="#4f8f00" stroke-width="3.3" stroke-linejoin="round" opacity="0.3"/>
<path d="M1163.5 1734.2L1171.7 1751.1L1155.3 1751.1Z" fill="none" stroke="#4f8f00" stroke-width="3.3" stroke-linejoin="round" opacity="0.3"/>
<path d="M1210.8 1733.2L1219 1750.1L1202.6 1750.1Z" fill="none" stroke="#4f8f00" stroke-width="3.3" stroke-linejoin="round" opacity="0.3"/>
<path d="M1219.5 1741.9L1227.7 1758.8L1211.3 1758.8Z" fill="none" stroke="#4f8f00" stroke-width="3.3" stroke-linejoin="round" opacity="0.3"/>
<path d="M1057.3 1738.1L1065.5 1755L1049.1 1755Z" fill="none" stroke="#4f8f00" stroke-width="3.3" stroke-linejoin="round" opacity="0.3"/>
<path d="M1024.4 1733.2L1032.6 1750.1L1016.2 1750.1Z" fill="none" stroke="#4f8f00" stroke-width="3.3" stroke-linejoin="round" opacity="0.3"/>
<path d="M1047.6 1687.9L1055.8 1704.7L1039.4 1704.7Z" fill="none" stroke="#4f8f00" stroke-width="3.3" stroke-linejoin="round" opacity="0.3"/>
<path d="M1057.3 1676.3L1065.5 1693.1L1049.1 1693.1Z" fill="none" stroke="#4f8f00" stroke-width="3.3" stroke-linejoin="round" opacity="0.3"/>
<path d="M1080.4 1678.2L1088.6 1695.1L1072.3 1695.1Z" fill="none" stroke="#4f8f00" stroke-width="3.3" stroke-linejoin="round" opacity="0.3"/>
<path d="M1070.8 1718.8L1079 1735.6L1062.6 1735.6Z" fill="none" stroke="#4f8f00" stroke-width="3.3" stroke-linejoin="round" opacity="0.3"/>
<path d="M1084.3 1714.9L1092.5 1731.8L1076.1 1731.8Z" fill="none" stroke="#4f8f00" stroke-width="3.3" stroke-linejoin="round" opacity="0.3"/>
<path d="M1126.8 1685.9L1135 1702.8L1118.6 1702.8Z" fill="none" stroke="#4f8f00" stroke-width="3.3" stroke-linejoin="round" opacity="0.3"/>
<path d="M1138.4 1676.3L1146.6 1693.1L1130.2 1693.1Z" fill="none" stroke="#4f8f00" stroke-width="3.3" stroke-linejoin="round" opacity="0.3"/>
<path d="M952.5 1703.9L960.6 1720.8L944.3 1720.8Z" fill="none" stroke="#4f8f00" stroke-width="3.3" stroke-linejoin="round" opacity="0.3"/>
<path d="M928.5 1737.5L936.7 1754.4L920.3 1754.4Z" fill="none" stroke="#4f8f00" stroke-width="3.3" stroke-linejoin="round" opacity="0.3"/>
<path d="M957.3 1735.6L965.4 1752.5L949.1 1752.5Z" fill="none" stroke="#4f8f00" stroke-width="3.3" stroke-linejoin="round" opacity="0.3"/>
<path d="M940 1739.4L948.2 1756.3L931.8 1756.3Z" fill="none" stroke="#4f8f00" stroke-width="3.3" stroke-linejoin="round" opacity="0.3"/>
</g>
<g>
<path d="M1208.4 1434L1222.1 1447.8M1208.4 1447.8L1222.1 1434M1206.5 1440.9L1224.1 1440.9M1215.3 1432.1L1215.3 1449.7" stroke="#000" stroke-width="2.5" fill="none" opacity="0.26"/><path d="M1208.4 1434L1222.1 1447.8M1208.4 1447.8L1222.1 1434M1206.5 1440.9L1224.1 1440.9M1215.3 1432.1L1215.3 1449.7" stroke="#9a3fc4" stroke-width="1" fill="none" opacity="0.5"/>
<path d="M1145.1 1585.7L1158.8 1599.4M1145.1 1599.4L1158.8 1585.7M1143.1 1592.5L1160.7 1592.5M1151.9 1583.7L1151.9 1601.3" stroke="#000" stroke-width="2.5" fill="none" opacity="0.26"/><path d="M1145.1 1585.7L1158.8 1599.4M1145.1 1599.4L1158.8 1585.7M1143.1 1592.5L1160.7 1592.5M1151.9 1583.7L1151.9 1601.3" stroke="#9a3fc4" stroke-width="1" fill="none" opacity="0.5"/>
<path d="M1181.8 1596.3L1195.5 1610M1181.8 1610L1195.5 1596.3M1179.8 1603.2L1197.4 1603.2M1188.6 1594.4L1188.6 1612" stroke="#000" stroke-width="2.5" fill="none" opacity="0.26"/><path d="M1181.8 1596.3L1195.5 1610M1181.8 1610L1195.5 1596.3M1179.8 1603.2L1197.4 1603.2M1188.6 1594.4L1188.6 1612" stroke="#9a3fc4" stroke-width="1" fill="none" opacity="0.5"/>
<path d="M1234.9 1597.8L1248.6 1611.6M1234.9 1611.6L1248.6 1597.8M1232.9 1604.7L1250.5 1604.7M1241.7 1595.9L1241.7 1613.5" stroke="#000" stroke-width="2.5" fill="none" opacity="0.26"/><path d="M1234.9 1597.8L1248.6 1611.6M1234.9 1611.6L1248.6 1597.8M1232.9 1604.7L1250.5 1604.7M1241.7 1595.9L1241.7 1613.5" stroke="#9a3fc4" stroke-width="1" fill="none" opacity="0.5"/>
<path d="M1198.2 1607.9L1211.9 1621.6M1198.2 1621.6L1211.9 1607.9M1196.2 1614.8L1213.8 1614.8M1205 1606L1205 1623.6" stroke="#000" stroke-width="2.5" fill="none" opacity="0.26"/><path d="M1198.2 1607.9L1211.9 1621.6M1198.2 1621.6L1211.9 1607.9M1196.2 1614.8L1213.8 1614.8M1205 1606L1205 1623.6" stroke="#9a3fc4" stroke-width="1" fill="none" opacity="0.5"/>
<path d="M1134.4 1634L1148.2 1647.7M1134.4 1647.7L1148.2 1634M1132.5 1640.8L1150.1 1640.8M1141.3 1632L1141.3 1649.6" stroke="#000" stroke-width="2.5" fill="none" opacity="0.26"/><path d="M1134.4 1634L1148.2 1647.7M1134.4 1647.7L1148.2 1634M1132.5 1640.8L1150.1 1640.8M1141.3 1632L1141.3 1649.6" stroke="#9a3fc4" stroke-width="1" fill="none" opacity="0.5"/>
<path d="M1156.6 1639.8L1170.4 1653.5M1156.6 1653.5L1170.4 1639.8M1154.7 1646.6L1172.3 1646.6M1163.5 1637.8L1163.5 1655.4" stroke="#000" stroke-width="2.5" fill="none" opacity="0.26"/><path d="M1156.6 1639.8L1170.4 1653.5M1156.6 1653.5L1170.4 1639.8M1154.7 1646.6L1172.3 1646.6M1163.5 1637.8L1163.5 1655.4" stroke="#9a3fc4" stroke-width="1" fill="none" opacity="0.5"/>
<path d="M1125.7 1644.6L1139.5 1658.3M1125.7 1658.3L1139.5 1644.6M1123.8 1651.5L1141.4 1651.5M1132.6 1642.7L1132.6 1660.3" stroke="#000" stroke-width="2.5" fill="none" opacity="0.26"/><path d="M1125.7 1644.6L1139.5 1658.3M1125.7 1658.3L1139.5 1644.6M1123.8 1651.5L1141.4 1651.5M1132.6 1642.7L1132.6 1660.3" stroke="#9a3fc4" stroke-width="1" fill="none" opacity="0.5"/>
<path d="M1191.4 1637.8L1205.1 1651.6M1191.4 1651.6L1205.1 1637.8M1189.5 1644.7L1207.1 1644.7M1198.3 1635.9L1198.3 1653.5" stroke="#000" stroke-width="2.5" fill="none" opacity="0.26"/><path d="M1191.4 1637.8L1205.1 1651.6M1191.4 1651.6L1205.1 1637.8M1189.5 1644.7L1207.1 1644.7M1198.3 1635.9L1198.3 1653.5" stroke="#9a3fc4" stroke-width="1" fill="none" opacity="0.5"/>
<path d="M1226.2 1635.9L1239.9 1649.6M1226.2 1649.6L1239.9 1635.9M1224.2 1642.8L1241.8 1642.8M1233 1634L1233 1651.6" stroke="#000" stroke-width="2.5" fill="none" opacity="0.26"/><path d="M1226.2 1635.9L1239.9 1649.6M1226.2 1649.6L1239.9 1635.9M1224.2 1642.8L1241.8 1642.8M1233 1634L1233 1651.6" stroke="#9a3fc4" stroke-width="1" fill="none" opacity="0.5"/>
<path d="M1163.4 1673.6L1177.1 1687.3M1163.4 1687.3L1177.1 1673.6M1161.5 1680.4L1179.1 1680.4M1170.3 1671.6L1170.3 1689.2" stroke="#000" stroke-width="2.5" fill="none" opacity="0.26"/><path d="M1163.4 1673.6L1177.1 1687.3M1163.4 1687.3L1177.1 1673.6M1161.5 1680.4L1179.1 1680.4M1170.3 1671.6L1170.3 1689.2" stroke="#9a3fc4" stroke-width="1" fill="none" opacity="0.5"/>
<path d="M1131.5 1667.8L1145.3 1681.5M1131.5 1681.5L1145.3 1667.8M1129.6 1674.6L1147.2 1674.6M1138.4 1665.8L1138.4 1683.4" stroke="#000" stroke-width="2.5" fill="none" opacity="0.26"/><path d="M1131.5 1667.8L1145.3 1681.5M1131.5 1681.5L1145.3 1667.8M1129.6 1674.6L1147.2 1674.6M1138.4 1665.8L1138.4 1683.4" stroke="#9a3fc4" stroke-width="1" fill="none" opacity="0.5"/>
<path d="M1164.4 1692.9L1178.1 1706.6M1164.4 1706.6L1178.1 1692.9M1162.4 1699.7L1180 1699.7M1171.2 1690.9L1171.2 1708.5" stroke="#000" stroke-width="2.5" fill="none" opacity="0.26"/><path d="M1164.4 1692.9L1178.1 1706.6M1164.4 1706.6L1178.1 1692.9M1162.4 1699.7L1180 1699.7M1171.2 1690.9L1171.2 1708.5" stroke="#9a3fc4" stroke-width="1" fill="none" opacity="0.5"/>
<path d="M1126.7 1694.8L1140.4 1708.5M1126.7 1708.5L1140.4 1694.8M1124.8 1701.7L1142.4 1701.7M1133.6 1692.9L1133.6 1710.5" stroke="#000" stroke-width="2.5" fill="none" opacity="0.26"/><path d="M1126.7 1694.8L1140.4 1708.5M1126.7 1708.5L1140.4 1694.8M1124.8 1701.7L1142.4 1701.7M1133.6 1692.9L1133.6 1710.5" stroke="#9a3fc4" stroke-width="1" fill="none" opacity="0.5"/>
<path d="M1208.4 1700.6L1222.1 1714.3M1208.4 1714.3L1222.1 1700.6M1206.5 1707.5L1224.1 1707.5M1215.3 1698.7L1215.3 1716.3" stroke="#000" stroke-width="2.5" fill="none" opacity="0.26"/><path d="M1208.4 1700.6L1222.1 1714.3M1208.4 1714.3L1222.1 1700.6M1206.5 1707.5L1224.1 1707.5M1215.3 1698.7L1215.3 1716.3" stroke="#9a3fc4" stroke-width="1" fill="none" opacity="0.5"/>
<path d="M1062 1671.6L1075.7 1685.4M1062 1685.4L1075.7 1671.6M1060.1 1678.5L1077.7 1678.5M1068.9 1669.7L1068.9 1687.3" stroke="#000" stroke-width="2.5" fill="none" opacity="0.26"/><path d="M1062 1671.6L1075.7 1685.4M1062 1685.4L1075.7 1671.6M1060.1 1678.5L1077.7 1678.5M1068.9 1669.7L1068.9 1687.3" stroke="#9a3fc4" stroke-width="1" fill="none" opacity="0.5"/>
<path d="M999.2 1683.2L1012.9 1696.9M999.2 1696.9L1012.9 1683.2M997.3 1690.1L1014.9 1690.1M1006.1 1681.3L1006.1 1698.9" stroke="#000" stroke-width="2.5" fill="none" opacity="0.26"/><path d="M999.2 1683.2L1012.9 1696.9M999.2 1696.9L1012.9 1683.2M997.3 1690.1L1014.9 1690.1M1006.1 1681.3L1006.1 1698.9" stroke="#9a3fc4" stroke-width="1" fill="none" opacity="0.5"/>
<path d="M984.7 1691.9L998.5 1705.6M984.7 1705.6L998.5 1691.9M982.8 1698.8L1000.4 1698.8M991.6 1690L991.6 1707.6" stroke="#000" stroke-width="2.5" fill="none" opacity="0.26"/><path d="M984.7 1691.9L998.5 1705.6M984.7 1705.6L998.5 1691.9M982.8 1698.8L1000.4 1698.8M991.6 1690L991.6 1707.6" stroke="#9a3fc4" stroke-width="1" fill="none" opacity="0.5"/>
<path d="M1083.2 1693.8L1097 1707.6M1083.2 1707.6L1097 1693.8M1081.3 1700.7L1098.9 1700.7M1090.1 1691.9L1090.1 1709.5" stroke="#000" stroke-width="2.5" fill="none" opacity="0.26"/><path d="M1083.2 1693.8L1097 1707.6M1083.2 1707.6L1097 1693.8M1081.3 1700.7L1098.9 1700.7M1090.1 1691.9L1090.1 1709.5" stroke="#9a3fc4" stroke-width="1" fill="none" opacity="0.5"/>
<path d="M1083.2 1708.3L1097 1722.1M1083.2 1722.1L1097 1708.3M1081.3 1715.2L1098.9 1715.2M1090.1 1706.4L1090.1 1724" stroke="#000" stroke-width="2.5" fill="none" opacity="0.26"/><path d="M1083.2 1708.3L1097 1722.1M1083.2 1722.1L1097 1708.3M1081.3 1715.2L1098.9 1715.2M1090.1 1706.4L1090.1 1724" stroke="#9a3fc4" stroke-width="1" fill="none" opacity="0.5"/>
<path d="M1019.5 1713.2L1033.2 1726.9M1019.5 1726.9L1033.2 1713.2M1017.6 1720L1035.2 1720M1026.4 1711.2L1026.4 1728.8" stroke="#000" stroke-width="2.5" fill="none" opacity="0.26"/><path d="M1019.5 1713.2L1033.2 1726.9M1019.5 1726.9L1033.2 1713.2M1017.6 1720L1035.2 1720M1026.4 1711.2L1026.4 1728.8" stroke="#9a3fc4" stroke-width="1" fill="none" opacity="0.5"/>
<path d="M984.7 1719.9L998.5 1733.6M984.7 1733.6L998.5 1719.9M982.8 1726.8L1000.4 1726.8M991.6 1718L991.6 1735.6" stroke="#000" stroke-width="2.5" fill="none" opacity="0.26"/><path d="M984.7 1719.9L998.5 1733.6M984.7 1733.6L998.5 1719.9M982.8 1726.8L1000.4 1726.8M991.6 1718L991.6 1735.6" stroke="#9a3fc4" stroke-width="1" fill="none" opacity="0.5"/>
<path d="M1013.7 1724.8L1027.4 1738.5M1013.7 1738.5L1027.4 1724.8M1011.8 1731.6L1029.4 1731.6M1020.6 1722.8L1020.6 1740.4" stroke="#000" stroke-width="2.5" fill="none" opacity="0.26"/><path d="M1013.7 1724.8L1027.4 1738.5M1013.7 1738.5L1027.4 1724.8M1011.8 1731.6L1029.4 1731.6M1020.6 1722.8L1020.6 1740.4" stroke="#9a3fc4" stroke-width="1" fill="none" opacity="0.5"/>
<path d="M1062 1732.5L1075.7 1746.2M1062 1746.2L1075.7 1732.5M1060.1 1739.3L1077.7 1739.3M1068.9 1730.5L1068.9 1748.1" stroke="#000" stroke-width="2.5" fill="none" opacity="0.26"/><path d="M1062 1732.5L1075.7 1746.2M1062 1746.2L1075.7 1732.5M1060.1 1739.3L1077.7 1739.3M1068.9 1730.5L1068.9 1748.1" stroke="#9a3fc4" stroke-width="1" fill="none" opacity="0.5"/>
<path d="M1056.2 1721.9L1069.9 1735.6M1056.2 1735.6L1069.9 1721.9M1054.3 1728.7L1071.9 1728.7M1063.1 1719.9L1063.1 1737.5" stroke="#000" stroke-width="2.5" fill="none" opacity="0.26"/><path d="M1056.2 1721.9L1069.9 1735.6M1056.2 1735.6L1069.9 1721.9M1054.3 1728.7L1071.9 1728.7M1063.1 1719.9L1063.1 1737.5" stroke="#9a3fc4" stroke-width="1" fill="none" opacity="0.5"/>
<path d="M1141.6 1735L1155.3 1748.7M1141.6 1748.7L1155.3 1735M1139.6 1741.9L1157.2 1741.9M1148.4 1733.1L1148.4 1750.7" stroke="#000" stroke-width="2.5" fill="none" opacity="0.26"/><path d="M1141.6 1735L1155.3 1748.7M1141.6 1748.7L1155.3 1735M1139.6 1741.9L1157.2 1741.9M1148.4 1733.1L1148.4 1750.7" stroke="#9a3fc4" stroke-width="1" fill="none" opacity="0.5"/>
<path d="M1221.9 1737.7L1235.7 1751.4M1221.9 1751.4L1235.7 1737.7M1220 1744.6L1237.6 1744.6M1228.8 1735.8L1228.8 1753.4" stroke="#000" stroke-width="2.5" fill="none" opacity="0.26"/><path d="M1221.9 1737.7L1235.7 1751.4M1221.9 1751.4L1235.7 1737.7M1220 1744.6L1237.6 1744.6M1228.8 1735.8L1228.8 1753.4" stroke="#9a3fc4" stroke-width="1" fill="none" opacity="0.5"/>
<path d="M1036.9 1704.5L1050.6 1718.2M1036.9 1718.2L1050.6 1704.5M1034.9 1711.3L1052.5 1711.3M1043.7 1702.5L1043.7 1720.1" stroke="#000" stroke-width="2.5" fill="none" opacity="0.26"/><path d="M1036.9 1704.5L1050.6 1718.2M1036.9 1718.2L1050.6 1704.5M1034.9 1711.3L1052.5 1711.3M1043.7 1702.5L1043.7 1720.1" stroke="#9a3fc4" stroke-width="1" fill="none" opacity="0.5"/>
<path d="M973.1 1706.4L986.9 1720.1M973.1 1720.1L986.9 1706.4M971.2 1713.3L988.8 1713.3M980 1704.5L980 1722.1" stroke="#000" stroke-width="2.5" fill="none" opacity="0.26"/><path d="M973.1 1706.4L986.9 1720.1M973.1 1720.1L986.9 1706.4M971.2 1713.3L988.8 1713.3M980 1704.5L980 1722.1" stroke="#9a3fc4" stroke-width="1" fill="none" opacity="0.5"/>
<path d="M771.9 1748.3L785.6 1762M771.9 1762L785.6 1748.3M770 1755.1L787.6 1755.1M778.8 1746.3L778.8 1763.9" stroke="#000" stroke-width="2.5" fill="none" opacity="0.26"/><path d="M771.9 1748.3L785.6 1762M771.9 1762L785.6 1748.3M770 1755.1L787.6 1755.1M778.8 1746.3L778.8 1763.9" stroke="#9a3fc4" stroke-width="1" fill="none" opacity="0.5"/>
<path d="M782.5 1748.3L796.2 1762M782.5 1762L796.2 1748.3M780.5 1755.1L798.1 1755.1M789.3 1746.3L789.3 1763.9" stroke="#000" stroke-width="2.5" fill="none" opacity="0.26"/><path d="M782.5 1748.3L796.2 1762M782.5 1762L796.2 1748.3M780.5 1755.1L798.1 1755.1M789.3 1746.3L789.3 1763.9" stroke="#9a3fc4" stroke-width="1" fill="none" opacity="0.5"/>
<path d="M794 1748.3L807.7 1762M794 1762L807.7 1748.3M792.1 1755.1L809.7 1755.1M800.9 1746.3L800.9 1763.9" stroke="#000" stroke-width="2.5" fill="none" opacity="0.26"/><path d="M794 1748.3L807.7 1762M794 1762L807.7 1748.3M792.1 1755.1L809.7 1755.1M800.9 1746.3L800.9 1763.9" stroke="#9a3fc4" stroke-width="1" fill="none" opacity="0.5"/>
<path d="M922.6 1707L936.3 1720.7M922.6 1720.7L936.3 1707M920.6 1713.9L938.2 1713.9M929.4 1705.1L929.4 1722.7" stroke="#000" stroke-width="2.5" fill="none" opacity="0.26"/><path d="M922.6 1707L936.3 1720.7M922.6 1720.7L936.3 1707M920.6 1713.9L938.2 1713.9M929.4 1705.1L929.4 1722.7" stroke="#9a3fc4" stroke-width="1" fill="none" opacity="0.5"/>
<path d="M931.2 1711.8L944.9 1725.5M931.2 1725.5L944.9 1711.8M929.3 1718.7L946.9 1718.7M938.1 1709.9L938.1 1727.5" stroke="#000" stroke-width="2.5" fill="none" opacity="0.26"/><path d="M931.2 1711.8L944.9 1725.5M931.2 1725.5L944.9 1711.8M929.3 1718.7L946.9 1718.7M938.1 1709.9L938.1 1727.5" stroke="#9a3fc4" stroke-width="1" fill="none" opacity="0.5"/>
<path d="M915.8 1723.3L929.6 1737.1M915.8 1737.1L929.6 1723.3M913.9 1730.2L931.5 1730.2M922.7 1721.4L922.7 1739" stroke="#000" stroke-width="2.5" fill="none" opacity="0.26"/><path d="M915.8 1723.3L929.6 1737.1M915.8 1737.1L929.6 1723.3M913.9 1730.2L931.5 1730.2M922.7 1721.4L922.7 1739" stroke="#9a3fc4" stroke-width="1" fill="none" opacity="0.5"/>
<path d="M910.1 1732.9L923.8 1746.7M910.1 1746.7L923.8 1732.9M908.2 1739.8L925.8 1739.8M917 1731L917 1748.6" stroke="#000" stroke-width="2.5" fill="none" opacity="0.26"/><path d="M910.1 1732.9L923.8 1746.7M910.1 1746.7L923.8 1732.9M908.2 1739.8L925.8 1739.8M917 1731L917 1748.6" stroke="#9a3fc4" stroke-width="1" fill="none" opacity="0.5"/>
<path d="M935 1729.1L948.8 1742.8M935 1742.8L948.8 1729.1M933.1 1736L950.7 1736M941.9 1727.2L941.9 1744.8" stroke="#000" stroke-width="2.5" fill="none" opacity="0.26"/><path d="M935 1729.1L948.8 1742.8M935 1742.8L948.8 1729.1M933.1 1736L950.7 1736M941.9 1727.2L941.9 1744.8" stroke="#9a3fc4" stroke-width="1" fill="none" opacity="0.5"/>
<path d="M954.2 1737.7L968 1751.5M954.2 1751.5L968 1737.7M952.3 1744.6L969.9 1744.6M961.1 1735.8L961.1 1753.4" stroke="#000" stroke-width="2.5" fill="none" opacity="0.26"/><path d="M954.2 1737.7L968 1751.5M954.2 1751.5L968 1737.7M952.3 1744.6L969.9 1744.6M961.1 1735.8L961.1 1753.4" stroke="#9a3fc4" stroke-width="1" fill="none" opacity="0.5"/>
<path d="M927.4 1719.5L941.1 1733.2M927.4 1733.2L941.1 1719.5M925.4 1726.4L943 1726.4M934.2 1717.6L934.2 1735.2" stroke="#000" stroke-width="2.5" fill="none" opacity="0.26"/><path d="M927.4 1719.5L941.1 1733.2M927.4 1733.2L941.1 1719.5M925.4 1726.4L943 1726.4M934.2 1717.6L934.2 1735.2" stroke="#9a3fc4" stroke-width="1" fill="none" opacity="0.5"/>
</g>
</g>
<g id="c3">
<path d="M1442.2 1399.2L1442.2 1757.9L1963.2 1757.9" fill="none" stroke="#000" stroke-width="5.8" stroke-linejoin="miter"/>
<path d="M1432.9 1639.2L1442.2 1639.2M1432.9 1520.4L1442.2 1520.4M1432.9 1401.7L1442.2 1401.7M1442.2 1757.9L1442.2 1768.2M1545.9 1757.9L1545.9 1768.2M1649.6 1757.9L1649.6 1768.2M1753.3 1757.9L1753.3 1768.2M1857 1757.9L1857 1768.2M1960.7 1757.9L1960.7 1768.2" fill="none" stroke="#000" stroke-width="5"/>
<text class="b" transform="translate(1428.3 1767.3) scale(1 1.13)" font-size="26.3" text-anchor="end">0</text>
<text class="b" transform="translate(1428.3 1648.6) scale(1 1.13)" font-size="26.3" text-anchor="end">50</text>
<text class="b" transform="translate(1428.3 1529.8) scale(1 1.13)" font-size="26.3" text-anchor="end">100</text>
<text class="b" transform="translate(1428.3 1411.1) scale(1 1.13)" font-size="26.3" text-anchor="end">150</text>
<text class="b" transform="translate(1442.2 1796.8) scale(1 1.13)" font-size="26.3" text-anchor="middle">0</text>
<text class="b" transform="translate(1545.9 1796.8) scale(1 1.13)" font-size="26.3" text-anchor="middle">5</text>
<text class="b" transform="translate(1649.6 1796.8) scale(1 1.13)" font-size="26.3" text-anchor="middle">10</text>
<text class="b" transform="translate(1753.3 1796.8) scale(1 1.13)" font-size="26.3" text-anchor="middle">15</text>
<text class="b" transform="translate(1857 1796.8) scale(1 1.13)" font-size="26.3" text-anchor="middle">20</text>
<text class="b" transform="translate(1960.7 1796.8) scale(1 1.13)" font-size="26.3" text-anchor="middle">25</text>
<text class="b" transform="translate(1701.8 1843.4) scale(1 1.067)" font-size="28" text-anchor="middle">Days post TC</text>
<text class="b" transform="translate(1367.6 1579.8) rotate(-90)" font-size="29.2" text-anchor="middle">Tumor size (mm<tspan font-size="18" dy="-10.5">2</tspan><tspan dy="10.5">)</tspan></text>
<path d="M1877.7 1664.6L1877.7 1644.6M1865.2 1644.6L1890.2 1644.6" stroke="#9437ff" stroke-width="3.4" fill="none" stroke-linecap="round"/>
<polyline points="1442.2,1757.9 1608.1,1736.5 1670.3,1717.5 1732.6,1717.8 1815.5,1696.4 1877.7,1664.6" fill="none" stroke="#9437ff" stroke-width="3.5" stroke-linejoin="round"/>
<path d="M1442.2 1746.6L1453.5 1757.9L1442.2 1769.2L1430.9 1757.9Z" fill="none" stroke="#9437ff" stroke-width="3.8"/>
<path d="M1608.1 1725.2L1619.5 1736.5L1608.1 1747.9L1596.8 1736.5Z" fill="none" stroke="#9437ff" stroke-width="3.8"/>
<path d="M1670.3 1706.2L1681.7 1717.5L1670.3 1728.9L1659 1717.5Z" fill="none" stroke="#9437ff" stroke-width="3.8"/>
<path d="M1732.6 1706.4L1743.9 1717.8L1732.6 1729.1L1721.2 1717.8Z" fill="none" stroke="#9437ff" stroke-width="3.8"/>
<path d="M1815.5 1685.1L1826.9 1696.4L1815.5 1707.7L1804.2 1696.4Z" fill="none" stroke="#9437ff" stroke-width="3.8"/>
<path d="M1877.7 1653.2L1889.1 1664.6L1877.7 1675.9L1866.4 1664.6Z" fill="none" stroke="#9437ff" stroke-width="3.8"/>
<path d="M1815.5 1639.9L1815.5 1616.1M1803 1616.1L1828 1616.1" stroke="#9437ff" stroke-width="3.4" fill="none" stroke-linecap="round"/>
<path d="M1877.7 1574.6L1877.7 1535.4M1865.2 1535.4L1890.2 1535.4" stroke="#9437ff" stroke-width="3.4" fill="none" stroke-linecap="round"/>
<polyline points="1442.2,1757.9 1608.1,1736.5 1670.3,1717.5 1732.6,1698.5 1815.5,1639.9 1877.7,1574.6" fill="none" stroke="#9437ff" stroke-width="3.5" stroke-linejoin="round"/>
<path d="M1442.2 1745.4L1454.7 1757.9L1442.2 1770.4L1429.7 1757.9Z" fill="#9437ff"/>
<path d="M1608.1 1724L1620.6 1736.5L1608.1 1749L1595.6 1736.5Z" fill="#9437ff"/>
<path d="M1670.3 1705L1682.8 1717.5L1670.3 1730L1657.8 1717.5Z" fill="#9437ff"/>
<path d="M1732.6 1686L1745.1 1698.5L1732.6 1711L1720.1 1698.5Z" fill="#9437ff"/>
<path d="M1815.5 1627.4L1828 1639.9L1815.5 1652.4L1803 1639.9Z" fill="#9437ff"/>
<path d="M1877.7 1562.1L1890.2 1574.6L1877.7 1587.1L1865.2 1574.6Z" fill="#9437ff"/>
<path d="M1815.5 1673.4L1815.5 1661M1803 1661L1828 1661" stroke="#000" stroke-width="3.4" fill="none" stroke-linecap="round"/>
<path d="M1877.7 1633.5L1877.7 1608.1M1865.2 1608.1L1890.2 1608.1" stroke="#000" stroke-width="3.4" fill="none" stroke-linecap="round"/>
<polyline points="1442.2,1757.9 1608.1,1736.5 1670.3,1717.5 1732.6,1707.6 1815.5,1673.4 1877.7,1633.5" fill="none" stroke="#000" stroke-width="3.5" stroke-linejoin="round"/>
<path d="M1432.6 1748.3L1451.8 1767.5M1432.6 1767.5L1451.8 1748.3M1429.2 1757.9L1455.2 1757.9M1442.2 1744.9L1442.2 1770.9" stroke="#000" stroke-width="4.1" fill="none"/>
<path d="M1598.5 1726.9L1617.7 1746.1M1598.5 1746.1L1617.7 1726.9M1595.1 1736.5L1621.1 1736.5M1608.1 1723.5L1608.1 1749.5" stroke="#000" stroke-width="4.1" fill="none"/>
<path d="M1660.7 1707.9L1680 1727.2M1660.7 1727.2L1680 1707.9M1657.3 1717.5L1683.3 1717.5M1670.3 1704.5L1670.3 1730.5" stroke="#000" stroke-width="4.1" fill="none"/>
<path d="M1722.9 1697.9L1742.2 1717.2M1722.9 1717.2L1742.2 1697.9M1719.6 1707.6L1745.6 1707.6M1732.6 1694.6L1732.6 1720.6" stroke="#000" stroke-width="4.1" fill="none"/>
<path d="M1805.9 1663.7L1825.1 1683M1805.9 1683L1825.1 1663.7M1802.5 1673.4L1828.5 1673.4M1815.5 1660.4L1815.5 1686.4" stroke="#000" stroke-width="4.1" fill="none"/>
<path d="M1868.1 1623.8L1887.4 1643.1M1868.1 1643.1L1887.4 1623.8M1864.7 1633.5L1890.7 1633.5M1877.7 1620.5L1877.7 1646.5" stroke="#000" stroke-width="4.1" fill="none"/>
<polyline points="1442.2,1757.9 1608.1,1736.5 1670.3,1717.5" fill="none" stroke="#9437ff" stroke-width="3.5" opacity="0.2"/>
<path d="M1442.2 1749.4L1450.7 1757.9L1442.2 1766.4L1433.7 1757.9Z" fill="none" stroke="#9437ff" stroke-width="3.8" opacity="0.25"/>
<path d="M1608.1 1728L1616.7 1736.5L1608.1 1745.1L1599.6 1736.5Z" fill="none" stroke="#9437ff" stroke-width="3.8" opacity="0.25"/>
<path d="M1670.3 1709L1678.9 1717.5L1670.3 1726.1L1661.8 1717.5Z" fill="none" stroke="#9437ff" stroke-width="3.8" opacity="0.25"/>
<polyline points="1442.2,1757.9 1608.1,1736.5 1670.3,1717.5" fill="none" stroke="#9437ff" stroke-width="3.5" opacity="0.2"/>
<path d="M1442.2 1747.9L1452.2 1757.9L1442.2 1767.9L1432.2 1757.9Z" fill="#9437ff" opacity="0.25"/>
<path d="M1608.1 1726.5L1618.1 1736.5L1608.1 1746.5L1598.1 1736.5Z" fill="#9437ff" opacity="0.25"/>
<path d="M1670.3 1707.5L1680.3 1717.5L1670.3 1727.5L1660.3 1717.5Z" fill="#9437ff" opacity="0.25"/>
<g>
<path d="M1869.2 1462.6L1878.5 1471.8L1869.2 1481.1L1860 1471.8Z" fill="#9437ff" opacity="0.27"/>
<path d="M1886.6 1463.5L1895.9 1472.8L1886.6 1482L1877.4 1472.8Z" fill="#9437ff" opacity="0.27"/>
<path d="M1877.9 1497.3L1887.2 1506.6L1877.9 1515.8L1868.7 1506.6Z" fill="#9437ff" opacity="0.27"/>
<path d="M1815.5 1527.3L1824.8 1536.5L1815.5 1545.8L1806.3 1536.5Z" fill="#9437ff" opacity="0.27"/>
<path d="M1815.5 1548.5L1824.8 1557.8L1815.5 1567L1806.3 1557.8Z" fill="#9437ff" opacity="0.27"/>
<path d="M1823.8 1568.8L1833.1 1578.1L1823.8 1587.3L1814.6 1578.1Z" fill="#9437ff" opacity="0.27"/>
<path d="M1806.5 1579.4L1815.7 1588.7L1806.5 1597.9L1797.2 1588.7Z" fill="#9437ff" opacity="0.27"/>
<path d="M1877.9 1538.9L1887.2 1548.1L1877.9 1557.4L1868.7 1548.1Z" fill="#9437ff" opacity="0.27"/>
<path d="M1886.6 1564.9L1895.9 1574.2L1886.6 1583.4L1877.4 1574.2Z" fill="#9437ff" opacity="0.27"/>
<path d="M1903.4 1587.2L1912.7 1596.4L1903.4 1605.7L1894.2 1596.4Z" fill="#9437ff" opacity="0.27"/>
<path d="M1833.5 1625.8L1842.8 1635L1833.5 1644.3L1824.3 1635Z" fill="#9437ff" opacity="0.27"/>
<path d="M1789.1 1642.2L1798.3 1651.5L1789.1 1660.7L1779.8 1651.5Z" fill="#9437ff" opacity="0.27"/>
<path d="M1841.2 1648L1850.5 1657.2L1841.2 1666.5L1832 1657.2Z" fill="#9437ff" opacity="0.27"/>
<path d="M1869.2 1669.2L1878.5 1678.5L1869.2 1687.7L1860 1678.5Z" fill="#9437ff" opacity="0.27"/>
<path d="M1742.7 1651.9L1752 1661.1L1742.7 1670.4L1733.5 1661.1Z" fill="#9437ff" opacity="0.27"/>
<path d="M1727.3 1655.7L1736.5 1665L1727.3 1674.2L1718 1665Z" fill="#9437ff" opacity="0.27"/>
<path d="M1721.5 1665.4L1730.7 1674.6L1721.5 1683.9L1712.2 1674.6Z" fill="#9437ff" opacity="0.27"/>
<path d="M1663.5 1684.7L1672.8 1693.9L1663.5 1703.2L1654.3 1693.9Z" fill="#9437ff" opacity="0.27"/>
<path d="M1758.2 1729.1L1767.4 1738.4L1758.2 1747.6L1748.9 1738.4Z" fill="#9437ff" opacity="0.27"/>
<path d="M1736.9 1736.9L1746.2 1746.1L1736.9 1755.4L1727.7 1746.1Z" fill="#9437ff" opacity="0.27"/>
<path d="M1833.5 1742.6L1842.8 1751.9L1833.5 1761.1L1824.3 1751.9Z" fill="#9437ff" opacity="0.27"/>
<path d="M1851.9 1746.5L1861.1 1755.8L1851.9 1765L1842.6 1755.8Z" fill="#9437ff" opacity="0.27"/>
<path d="M1669.3 1736.9L1678.6 1746.1L1669.3 1755.4L1660.1 1746.1Z" fill="#9437ff" opacity="0.27"/>
<path d="M1851.9 1729.1L1861.1 1738.4L1851.9 1747.6L1842.6 1738.4Z" fill="#9437ff" opacity="0.27"/>
<path d="M1458.4 1748.2L1467.6 1757.4L1458.4 1766.7L1449.1 1757.4Z" fill="#9437ff" opacity="0.27"/>
<path d="M1466.1 1748.8L1475.3 1758L1466.1 1767.3L1456.8 1758Z" fill="#9437ff" opacity="0.27"/>
<path d="M1583.1 1720.9L1592.4 1730.2L1583.1 1739.4L1573.9 1730.2Z" fill="#9437ff" opacity="0.27"/>
<path d="M1592.7 1738.2L1602 1747.5L1592.7 1756.7L1583.5 1747.5Z" fill="#9437ff" opacity="0.27"/>
<path d="M1611.9 1711.3L1621.2 1720.6L1611.9 1729.8L1602.7 1720.6Z" fill="#9437ff" opacity="0.27"/>
<path d="M1631.1 1728.6L1640.3 1737.9L1631.1 1747.1L1621.8 1737.9Z" fill="#9437ff" opacity="0.27"/>
<path d="M1621.5 1720.9L1630.7 1730.2L1621.5 1739.4L1612.2 1730.2Z" fill="#9437ff" opacity="0.27"/>
</g>
<g>
<path d="M1851.9 1583.1L1860.4 1591.6L1851.9 1600.1L1843.3 1591.6Z" fill="none" stroke="#9437ff" stroke-width="3.2" opacity="0.29"/>
<path d="M1886.6 1587.9L1895.1 1596.4L1886.6 1604.9L1878.1 1596.4Z" fill="none" stroke="#9437ff" stroke-width="3.2" opacity="0.29"/>
<path d="M1869.2 1572.4L1877.7 1580.9L1869.2 1589.5L1860.7 1580.9Z" fill="none" stroke="#9437ff" stroke-width="3.2" opacity="0.29"/>
<path d="M1797.8 1618.8L1806.3 1627.3L1797.8 1635.8L1789.3 1627.3Z" fill="none" stroke="#9437ff" stroke-width="3.2" opacity="0.29"/>
<path d="M1886.6 1614L1895.1 1622.5L1886.6 1631L1878.1 1622.5Z" fill="none" stroke="#9437ff" stroke-width="3.2" opacity="0.29"/>
<path d="M1736 1650.7L1744.5 1659.2L1736 1667.7L1727.4 1659.2Z" fill="none" stroke="#9437ff" stroke-width="3.2" opacity="0.29"/>
<path d="M1869.2 1647.8L1877.7 1656.3L1869.2 1664.8L1860.7 1656.3Z" fill="none" stroke="#9437ff" stroke-width="3.2" opacity="0.29"/>
<path d="M1886.6 1654.5L1895.1 1663L1886.6 1671.6L1878.1 1663Z" fill="none" stroke="#9437ff" stroke-width="3.2" opacity="0.29"/>
<path d="M1797.8 1703.8L1806.3 1712.3L1797.8 1720.8L1789.3 1712.3Z" fill="none" stroke="#9437ff" stroke-width="3.2" opacity="0.29"/>
<path d="M1833.5 1699L1842 1707.5L1833.5 1716L1825 1707.5Z" fill="none" stroke="#9437ff" stroke-width="3.2" opacity="0.29"/>
<path d="M1851.9 1709.6L1860.4 1718.1L1851.9 1726.6L1843.3 1718.1Z" fill="none" stroke="#9437ff" stroke-width="3.2" opacity="0.29"/>
<path d="M1806.5 1726L1815 1734.5L1806.5 1743L1798 1734.5Z" fill="none" stroke="#9437ff" stroke-width="3.2" opacity="0.29"/>
<path d="M1831.6 1720.2L1840.1 1728.7L1831.6 1737.2L1823.1 1728.7Z" fill="none" stroke="#9437ff" stroke-width="3.2" opacity="0.29"/>
<path d="M1843.2 1724.1L1851.7 1732.6L1843.2 1741.1L1834.7 1732.6Z" fill="none" stroke="#9437ff" stroke-width="3.2" opacity="0.29"/>
<path d="M1869.2 1727.9L1877.7 1736.4L1869.2 1745L1860.7 1736.4Z" fill="none" stroke="#9437ff" stroke-width="3.2" opacity="0.29"/>
<path d="M1903.4 1719.2L1911.9 1727.8L1903.4 1736.3L1894.9 1727.8Z" fill="none" stroke="#9437ff" stroke-width="3.2" opacity="0.29"/>
<path d="M1903.4 1737.6L1911.9 1746.1L1903.4 1754.6L1894.9 1746.1Z" fill="none" stroke="#9437ff" stroke-width="3.2" opacity="0.29"/>
<path d="M1797.8 1736.6L1806.3 1745.1L1797.8 1753.6L1789.3 1745.1Z" fill="none" stroke="#9437ff" stroke-width="3.2" opacity="0.29"/>
<path d="M1750.4 1735.7L1759 1744.2L1750.4 1752.7L1741.9 1744.2Z" fill="none" stroke="#9437ff" stroke-width="3.2" opacity="0.29"/>
<path d="M1725.3 1726L1733.8 1734.5L1725.3 1743L1716.8 1734.5Z" fill="none" stroke="#9437ff" stroke-width="3.2" opacity="0.29"/>
<path d="M1744.6 1724.1L1753.2 1732.6L1744.6 1741.1L1736.1 1732.6Z" fill="none" stroke="#9437ff" stroke-width="3.2" opacity="0.29"/>
<path d="M1682.8 1733.7L1691.3 1742.2L1682.8 1750.7L1674.3 1742.2Z" fill="none" stroke="#9437ff" stroke-width="3.2" opacity="0.29"/>
<path d="M1655.8 1731.8L1664.3 1740.3L1655.8 1748.8L1647.3 1740.3Z" fill="none" stroke="#9437ff" stroke-width="3.2" opacity="0.29"/>
<path d="M1680.9 1693.2L1689.4 1701.7L1680.9 1710.2L1672.4 1701.7Z" fill="none" stroke="#9437ff" stroke-width="3.2" opacity="0.29"/>
<path d="M1756.2 1695.1L1764.7 1703.6L1756.2 1712.1L1747.7 1703.6Z" fill="none" stroke="#9437ff" stroke-width="3.2" opacity="0.29"/>
<path d="M1612.9 1705.4L1621.4 1713.9L1612.9 1722.4L1604.4 1713.9Z" fill="none" stroke="#9437ff" stroke-width="3.2" opacity="0.29"/>
<path d="M1581.2 1731.3L1589.7 1739.8L1581.2 1748.3L1572.7 1739.8Z" fill="none" stroke="#9437ff" stroke-width="3.2" opacity="0.29"/>
<path d="M1623.4 1739L1631.9 1747.5L1623.4 1756L1614.9 1747.5Z" fill="none" stroke="#9437ff" stroke-width="3.2" opacity="0.29"/>
<path d="M1602.3 1740.9L1610.8 1749.4L1602.3 1757.9L1593.8 1749.4Z" fill="none" stroke="#9437ff" stroke-width="3.2" opacity="0.29"/>
</g>
<g>
<path d="M1870.7 1444.1L1884.4 1457.8M1870.7 1457.8L1884.4 1444.1M1868.7 1451L1886.3 1451M1877.5 1442.2L1877.5 1459.8" stroke="#000" stroke-width="2.5" fill="none" opacity="0.26"/><path d="M1870.7 1444.1L1884.4 1457.8M1870.7 1457.8L1884.4 1444.1M1868.7 1451L1886.3 1451M1877.5 1442.2L1877.5 1459.8" stroke="#9a3fc4" stroke-width="1" fill="none" opacity="0.5"/>
<path d="M1808.7 1592L1822.4 1605.8M1808.7 1605.8L1822.4 1592M1806.7 1598.9L1824.3 1598.9M1815.5 1590.1L1815.5 1607.7" stroke="#000" stroke-width="2.5" fill="none" opacity="0.26"/><path d="M1808.7 1592L1822.4 1605.8M1808.7 1605.8L1822.4 1592M1806.7 1598.9L1824.3 1598.9M1815.5 1590.1L1815.5 1607.7" stroke="#9a3fc4" stroke-width="1" fill="none" opacity="0.5"/>
<path d="M1845 1604L1858.7 1617.8M1845 1617.8L1858.7 1604M1843.1 1610.9L1860.7 1610.9M1851.9 1602.1L1851.9 1619.7" stroke="#000" stroke-width="2.5" fill="none" opacity="0.26"/><path d="M1845 1604L1858.7 1617.8M1845 1617.8L1858.7 1604M1843.1 1610.9L1860.7 1610.9M1851.9 1602.1L1851.9 1619.7" stroke="#9a3fc4" stroke-width="1" fill="none" opacity="0.5"/>
<path d="M1862.4 1601.1L1876.1 1614.9M1862.4 1614.9L1876.1 1601.1M1860.4 1608L1878 1608M1869.2 1599.2L1869.2 1616.8" stroke="#000" stroke-width="2.5" fill="none" opacity="0.26"/><path d="M1862.4 1601.1L1876.1 1614.9M1862.4 1614.9L1876.1 1601.1M1860.4 1608L1878 1608M1869.2 1599.2L1869.2 1616.8" stroke="#9a3fc4" stroke-width="1" fill="none" opacity="0.5"/>
<path d="M1896.6 1614.6L1910.3 1628.4M1896.6 1628.4L1910.3 1614.6M1894.6 1621.5L1912.2 1621.5M1903.4 1612.7L1903.4 1630.3" stroke="#000" stroke-width="2.5" fill="none" opacity="0.26"/><path d="M1896.6 1614.6L1910.3 1628.4M1896.6 1628.4L1910.3 1614.6M1894.6 1621.5L1912.2 1621.5M1903.4 1612.7L1903.4 1630.3" stroke="#9a3fc4" stroke-width="1" fill="none" opacity="0.5"/>
<path d="M1896.6 1640.3L1910.3 1654.1M1896.6 1654.1L1910.3 1640.3M1894.6 1647.2L1912.2 1647.2M1903.4 1638.4L1903.4 1656" stroke="#000" stroke-width="2.5" fill="none" opacity="0.26"/><path d="M1896.6 1640.3L1910.3 1654.1M1896.6 1654.1L1910.3 1640.3M1894.6 1647.2L1912.2 1647.2M1903.4 1638.4L1903.4 1656" stroke="#9a3fc4" stroke-width="1" fill="none" opacity="0.5"/>
<path d="M1845 1642.7L1858.7 1656.4M1845 1656.4L1858.7 1642.7M1843.1 1649.5L1860.7 1649.5M1851.9 1640.7L1851.9 1658.3" stroke="#000" stroke-width="2.5" fill="none" opacity="0.26"/><path d="M1845 1642.7L1858.7 1656.4M1845 1656.4L1858.7 1642.7M1843.1 1649.5L1860.7 1649.5M1851.9 1640.7L1851.9 1658.3" stroke="#9a3fc4" stroke-width="1" fill="none" opacity="0.5"/>
<path d="M1880.7 1634.9L1894.5 1648.7M1880.7 1648.7L1894.5 1634.9M1878.8 1641.8L1896.4 1641.8M1887.6 1633L1887.6 1650.6" stroke="#000" stroke-width="2.5" fill="none" opacity="0.26"/><path d="M1880.7 1634.9L1894.5 1648.7M1880.7 1648.7L1894.5 1634.9M1878.8 1641.8L1896.4 1641.8M1887.6 1633L1887.6 1650.6" stroke="#9a3fc4" stroke-width="1" fill="none" opacity="0.5"/>
<path d="M1793.8 1646.5L1807.5 1660.2M1793.8 1660.2L1807.5 1646.5M1791.9 1653.4L1809.5 1653.4M1800.7 1644.6L1800.7 1662.2" stroke="#000" stroke-width="2.5" fill="none" opacity="0.26"/><path d="M1793.8 1646.5L1807.5 1660.2M1793.8 1660.2L1807.5 1646.5M1791.9 1653.4L1809.5 1653.4M1800.7 1644.6L1800.7 1662.2" stroke="#9a3fc4" stroke-width="1" fill="none" opacity="0.5"/>
<path d="M1817.9 1637.8L1831.7 1651.6M1817.9 1651.6L1831.7 1637.8M1816 1644.7L1833.6 1644.7M1824.8 1635.9L1824.8 1653.5" stroke="#000" stroke-width="2.5" fill="none" opacity="0.26"/><path d="M1817.9 1637.8L1831.7 1651.6M1817.9 1651.6L1831.7 1637.8M1816 1644.7L1833.6 1644.7M1824.8 1635.9L1824.8 1653.5" stroke="#9a3fc4" stroke-width="1" fill="none" opacity="0.5"/>
<path d="M1824.7 1677.4L1838.4 1691.2M1824.7 1691.2L1838.4 1677.4M1822.8 1684.3L1840.4 1684.3M1831.6 1675.5L1831.6 1693.1" stroke="#000" stroke-width="2.5" fill="none" opacity="0.26"/><path d="M1824.7 1677.4L1838.4 1691.2M1824.7 1691.2L1838.4 1677.4M1822.8 1684.3L1840.4 1684.3M1831.6 1675.5L1831.6 1693.1" stroke="#9a3fc4" stroke-width="1" fill="none" opacity="0.5"/>
<path d="M1799.6 1698.7L1813.3 1712.4M1799.6 1712.4L1813.3 1698.7M1797.7 1705.5L1815.3 1705.5M1806.5 1696.7L1806.5 1714.3" stroke="#000" stroke-width="2.5" fill="none" opacity="0.26"/><path d="M1799.6 1698.7L1813.3 1712.4M1799.6 1712.4L1813.3 1698.7M1797.7 1705.5L1815.3 1705.5M1806.5 1696.7L1806.5 1714.3" stroke="#9a3fc4" stroke-width="1" fill="none" opacity="0.5"/>
<path d="M1809.3 1696.7L1823 1710.5M1809.3 1710.5L1823 1696.7M1807.3 1703.6L1824.9 1703.6M1816.1 1694.8L1816.1 1712.4" stroke="#000" stroke-width="2.5" fill="none" opacity="0.26"/><path d="M1809.3 1696.7L1823 1710.5M1809.3 1710.5L1823 1696.7M1807.3 1703.6L1824.9 1703.6M1816.1 1694.8L1816.1 1712.4" stroke="#9a3fc4" stroke-width="1" fill="none" opacity="0.5"/>
<path d="M1862.4 1703.5L1876.1 1717.2M1862.4 1717.2L1876.1 1703.5M1860.4 1710.4L1878 1710.4M1869.2 1701.6L1869.2 1719.2" stroke="#000" stroke-width="2.5" fill="none" opacity="0.26"/><path d="M1862.4 1703.5L1876.1 1717.2M1862.4 1717.2L1876.1 1703.5M1860.4 1710.4L1878 1710.4M1869.2 1701.6L1869.2 1719.2" stroke="#9a3fc4" stroke-width="1" fill="none" opacity="0.5"/>
<path d="M1808.7 1736.3L1822.4 1750.1M1808.7 1750.1L1822.4 1736.3M1806.7 1743.2L1824.3 1743.2M1815.5 1734.4L1815.5 1752" stroke="#000" stroke-width="2.5" fill="none" opacity="0.26"/><path d="M1808.7 1736.3L1822.4 1750.1M1808.7 1750.1L1822.4 1736.3M1806.7 1743.2L1824.3 1743.2M1815.5 1734.4L1815.5 1752" stroke="#9a3fc4" stroke-width="1" fill="none" opacity="0.5"/>
<path d="M1879.8 1740.2L1893.5 1753.9M1879.8 1753.9L1893.5 1740.2M1877.8 1747.1L1895.4 1747.1M1886.6 1738.3L1886.6 1755.9" stroke="#000" stroke-width="2.5" fill="none" opacity="0.26"/><path d="M1879.8 1740.2L1893.5 1753.9M1879.8 1753.9L1893.5 1740.2M1877.8 1747.1L1895.4 1747.1M1886.6 1738.3L1886.6 1755.9" stroke="#9a3fc4" stroke-width="1" fill="none" opacity="0.5"/>
<path d="M1735.9 1675.5L1749.6 1689.2M1735.9 1689.2L1749.6 1675.5M1733.9 1682.4L1751.5 1682.4M1742.7 1673.6L1742.7 1691.2" stroke="#000" stroke-width="2.5" fill="none" opacity="0.26"/><path d="M1735.9 1675.5L1749.6 1689.2M1735.9 1689.2L1749.6 1675.5M1733.9 1682.4L1751.5 1682.4M1742.7 1673.6L1742.7 1691.2" stroke="#9a3fc4" stroke-width="1" fill="none" opacity="0.5"/>
<path d="M1667.3 1687.1L1681 1700.8M1667.3 1700.8L1681 1687.1M1665.3 1693.9L1682.9 1693.9M1674.1 1685.1L1674.1 1702.7" stroke="#000" stroke-width="2.5" fill="none" opacity="0.26"/><path d="M1667.3 1687.1L1681 1700.8M1667.3 1700.8L1681 1687.1M1665.3 1693.9L1682.9 1693.9M1674.1 1685.1L1674.1 1702.7" stroke="#9a3fc4" stroke-width="1" fill="none" opacity="0.5"/>
<path d="M1657.6 1694.8L1671.4 1708.5M1657.6 1708.5L1671.4 1694.8M1655.7 1701.7L1673.3 1701.7M1664.5 1692.9L1664.5 1710.5" stroke="#000" stroke-width="2.5" fill="none" opacity="0.26"/><path d="M1657.6 1694.8L1671.4 1708.5M1657.6 1708.5L1671.4 1694.8M1655.7 1701.7L1673.3 1701.7M1664.5 1692.9L1664.5 1710.5" stroke="#9a3fc4" stroke-width="1" fill="none" opacity="0.5"/>
<path d="M1703 1694.8L1716.7 1708.5M1703 1708.5L1716.7 1694.8M1701.1 1701.7L1718.7 1701.7M1709.9 1692.9L1709.9 1710.5" stroke="#000" stroke-width="2.5" fill="none" opacity="0.26"/><path d="M1703 1694.8L1716.7 1708.5M1703 1708.5L1716.7 1694.8M1701.1 1701.7L1718.7 1701.7M1709.9 1692.9L1709.9 1710.5" stroke="#9a3fc4" stroke-width="1" fill="none" opacity="0.5"/>
<path d="M1739.7 1700.6L1753.4 1714.3M1739.7 1714.3L1753.4 1700.6M1737.8 1707.5L1755.4 1707.5M1746.6 1698.7L1746.6 1716.3" stroke="#000" stroke-width="2.5" fill="none" opacity="0.26"/><path d="M1739.7 1700.6L1753.4 1714.3M1739.7 1714.3L1753.4 1700.6M1737.8 1707.5L1755.4 1707.5M1746.6 1698.7L1746.6 1716.3" stroke="#9a3fc4" stroke-width="1" fill="none" opacity="0.5"/>
<path d="M1737.8 1712.2L1751.5 1725.9M1737.8 1725.9L1751.5 1712.2M1735.8 1719.1L1753.4 1719.1M1744.6 1710.3L1744.6 1727.9" stroke="#000" stroke-width="2.5" fill="none" opacity="0.26"/><path d="M1737.8 1712.2L1751.5 1725.9M1737.8 1725.9L1751.5 1712.2M1735.8 1719.1L1753.4 1719.1M1744.6 1710.3L1744.6 1727.9" stroke="#9a3fc4" stroke-width="1" fill="none" opacity="0.5"/>
<path d="M1707.8 1724.8L1721.6 1738.5M1707.8 1738.5L1721.6 1724.8M1705.9 1731.6L1723.5 1731.6M1714.7 1722.8L1714.7 1740.4" stroke="#000" stroke-width="2.5" fill="none" opacity="0.26"/><path d="M1707.8 1724.8L1721.6 1738.5M1707.8 1738.5L1721.6 1724.8M1705.9 1731.6L1723.5 1731.6M1714.7 1722.8L1714.7 1740.4" stroke="#9a3fc4" stroke-width="1" fill="none" opacity="0.5"/>
<path d="M1699.2 1735.4L1712.9 1749.1M1699.2 1749.1L1712.9 1735.4M1697.2 1742.2L1714.8 1742.2M1706 1733.4L1706 1751" stroke="#000" stroke-width="2.5" fill="none" opacity="0.26"/><path d="M1699.2 1735.4L1712.9 1749.1M1699.2 1749.1L1712.9 1735.4M1697.2 1742.2L1714.8 1742.2M1706 1733.4L1706 1751" stroke="#9a3fc4" stroke-width="1" fill="none" opacity="0.5"/>
<path d="M1679.8 1725.7L1693.6 1739.4M1679.8 1739.4L1693.6 1725.7M1677.9 1732.6L1695.5 1732.6M1686.7 1723.8L1686.7 1741.4" stroke="#000" stroke-width="2.5" fill="none" opacity="0.26"/><path d="M1679.8 1725.7L1693.6 1739.4M1679.8 1739.4L1693.6 1725.7M1677.9 1732.6L1695.5 1732.6M1686.7 1723.8L1686.7 1741.4" stroke="#9a3fc4" stroke-width="1" fill="none" opacity="0.5"/>
<path d="M1684.7 1712.2L1698.4 1725.9M1684.7 1725.9L1698.4 1712.2M1682.7 1719.1L1700.3 1719.1M1691.5 1710.3L1691.5 1727.9" stroke="#000" stroke-width="2.5" fill="none" opacity="0.26"/><path d="M1684.7 1712.2L1698.4 1725.9M1684.7 1725.9L1698.4 1712.2M1682.7 1719.1L1700.3 1719.1M1691.5 1710.3L1691.5 1727.9" stroke="#9a3fc4" stroke-width="1" fill="none" opacity="0.5"/>
<path d="M1648.9 1723.8L1662.7 1737.5M1648.9 1737.5L1662.7 1723.8M1647 1730.6L1664.6 1730.6M1655.8 1721.8L1655.8 1739.4" stroke="#000" stroke-width="2.5" fill="none" opacity="0.26"/><path d="M1648.9 1723.8L1662.7 1737.5M1648.9 1737.5L1662.7 1723.8M1647 1730.6L1664.6 1730.6M1655.8 1721.8L1655.8 1739.4" stroke="#9a3fc4" stroke-width="1" fill="none" opacity="0.5"/>
<path d="M1441.9 1750.2L1455.6 1763.9M1441.9 1763.9L1455.6 1750.2M1440 1757.1L1457.6 1757.1M1448.8 1748.3L1448.8 1765.9" stroke="#000" stroke-width="2.5" fill="none" opacity="0.26"/><path d="M1441.9 1750.2L1455.6 1763.9M1441.9 1763.9L1455.6 1750.2M1440 1757.1L1457.6 1757.1M1448.8 1748.3L1448.8 1765.9" stroke="#9a3fc4" stroke-width="1" fill="none" opacity="0.5"/>
<path d="M1451.5 1750.2L1465.2 1763.9M1451.5 1763.9L1465.2 1750.2M1449.6 1757.1L1467.2 1757.1M1458.4 1748.3L1458.4 1765.9" stroke="#000" stroke-width="2.5" fill="none" opacity="0.26"/><path d="M1451.5 1750.2L1465.2 1763.9M1451.5 1763.9L1465.2 1750.2M1449.6 1757.1L1467.2 1757.1M1458.4 1748.3L1458.4 1765.9" stroke="#9a3fc4" stroke-width="1" fill="none" opacity="0.5"/>
<path d="M1460.2 1750.2L1473.9 1763.9M1460.2 1763.9L1473.9 1750.2M1458.2 1757.1L1475.8 1757.1M1467 1748.3L1467 1765.9" stroke="#000" stroke-width="2.5" fill="none" opacity="0.26"/><path d="M1460.2 1750.2L1473.9 1763.9M1460.2 1763.9L1473.9 1750.2M1458.2 1757.1L1475.8 1757.1M1467 1748.3L1467 1765.9" stroke="#9a3fc4" stroke-width="1" fill="none" opacity="0.5"/>
<path d="M1598.3 1708.9L1612 1722.7M1598.3 1722.7L1612 1708.9M1596.4 1715.8L1614 1715.8M1605.2 1707L1605.2 1724.6" stroke="#000" stroke-width="2.5" fill="none" opacity="0.26"/><path d="M1598.3 1708.9L1612 1722.7M1598.3 1722.7L1612 1708.9M1596.4 1715.8L1614 1715.8M1605.2 1707L1605.2 1724.6" stroke="#9a3fc4" stroke-width="1" fill="none" opacity="0.5"/>
<path d="M1608.9 1715.7L1622.6 1729.4M1608.9 1729.4L1622.6 1715.7M1606.9 1722.5L1624.5 1722.5M1615.7 1713.7L1615.7 1731.3" stroke="#000" stroke-width="2.5" fill="none" opacity="0.26"/><path d="M1608.9 1715.7L1622.6 1729.4M1608.9 1729.4L1622.6 1715.7M1606.9 1722.5L1624.5 1722.5M1615.7 1713.7L1615.7 1731.3" stroke="#9a3fc4" stroke-width="1" fill="none" opacity="0.5"/>
<path d="M1591.6 1715.7L1605.3 1729.4M1591.6 1729.4L1605.3 1715.7M1589.7 1722.5L1607.3 1722.5M1598.5 1713.7L1598.5 1731.3" stroke="#000" stroke-width="2.5" fill="none" opacity="0.26"/><path d="M1591.6 1715.7L1605.3 1729.4M1591.6 1729.4L1605.3 1715.7M1589.7 1722.5L1607.3 1722.5M1598.5 1713.7L1598.5 1731.3" stroke="#9a3fc4" stroke-width="1" fill="none" opacity="0.5"/>
<path d="M1578.2 1725.2L1591.9 1739M1578.2 1739L1591.9 1725.2M1576.2 1732.1L1593.8 1732.1M1585 1723.3L1585 1740.9" stroke="#000" stroke-width="2.5" fill="none" opacity="0.26"/><path d="M1578.2 1725.2L1591.9 1739M1578.2 1739L1591.9 1725.2M1576.2 1732.1L1593.8 1732.1M1585 1723.3L1585 1740.9" stroke="#9a3fc4" stroke-width="1" fill="none" opacity="0.5"/>
<path d="M1587.8 1736.8L1601.5 1750.5M1587.8 1750.5L1601.5 1736.8M1585.8 1743.6L1603.4 1743.6M1594.6 1734.8L1594.6 1752.4" stroke="#000" stroke-width="2.5" fill="none" opacity="0.26"/><path d="M1587.8 1736.8L1601.5 1750.5M1587.8 1750.5L1601.5 1736.8M1585.8 1743.6L1603.4 1743.6M1594.6 1734.8L1594.6 1752.4" stroke="#9a3fc4" stroke-width="1" fill="none" opacity="0.5"/>
<path d="M1620.4 1732.9L1634.1 1746.7M1620.4 1746.7L1634.1 1732.9M1618.5 1739.8L1636.1 1739.8M1627.3 1731L1627.3 1748.6" stroke="#000" stroke-width="2.5" fill="none" opacity="0.26"/><path d="M1620.4 1732.9L1634.1 1746.7M1620.4 1746.7L1634.1 1732.9M1618.5 1739.8L1636.1 1739.8M1627.3 1731L1627.3 1748.6" stroke="#9a3fc4" stroke-width="1" fill="none" opacity="0.5"/>
<path d="M1612.7 1742.5L1626.4 1756.2M1612.7 1756.2L1626.4 1742.5M1610.8 1749.4L1628.4 1749.4M1619.6 1740.6L1619.6 1758.2" stroke="#000" stroke-width="2.5" fill="none" opacity="0.26"/><path d="M1612.7 1742.5L1626.4 1756.2M1612.7 1756.2L1626.4 1742.5M1610.8 1749.4L1628.4 1749.4M1619.6 1740.6L1619.6 1758.2" stroke="#9a3fc4" stroke-width="1" fill="none" opacity="0.5"/>
</g>
</g>
<g id="lb1">
<path d="M93.3 1152.6L142.5 1152.6" stroke="#000" stroke-width="3.7" stroke-linecap="round"/>
<path d="M100.9 1135.6L134.9 1169.6M100.9 1169.6L134.9 1135.6" stroke="#000" stroke-width="4.4" fill="none"/>
<text transform="translate(172.6 1166.5) scale(1 1.000)" font-size="37" xml:space="preserve" textLength="141" lengthAdjust="spacingAndGlyphs"><tspan class="sym" font-size="45.1">α</tspan>CTLA4</text>
<path d="M93.3 1213.2L142.5 1213.2" stroke="#ff2600" stroke-width="3.7" stroke-linecap="round"/>
<rect x="101.7" y="1197" width="32.4" height="32.4" fill="#ff2600"/>
<text transform="translate(172.6 1228.3) scale(1 1.000)" font-size="37" xml:space="preserve" textLength="137.2" lengthAdjust="spacingAndGlyphs"><tspan class="sym" font-size="45.1">α</tspan>TGF<tspan class="sym" font-size="37">β</tspan>1</text>
<path d="M93.3 1280L142.5 1280" stroke="#ff2600" stroke-width="3.7" stroke-linecap="round"/>
<rect x="101.8" y="1263.9" width="32.2" height="32.2" rx="1.5" fill="none" stroke="#ff2600" stroke-width="4.4"/>
<text transform="translate(172.6 1294.6) scale(1 1.000)" font-size="37" xml:space="preserve" textLength="326.2" lengthAdjust="spacingAndGlyphs"><tspan class="sym" font-size="45.1">α</tspan>TGF<tspan class="sym" font-size="37">β</tspan>1 + <tspan class="sym" font-size="45.1">α</tspan>CTLA4</text>
<path d="M330.8 1144.5L350.4 1145.8Q356.1 1146.4 356.4 1149.1L356.4 1231.4Q356.1 1234.1 350.4 1234.7L330.8 1236" fill="none" stroke="#000" stroke-width="3.4" stroke-linejoin="round"/>
<path d="M514.4 1193L534.2 1194.3Q539.9 1194.9 540.2 1197.6L540.2 1280.7Q539.9 1283.4 534.2 1284L514.4 1285.3" fill="none" stroke="#000" stroke-width="3.4" stroke-linejoin="round"/>
<text x="373.4" y="1212" font-size="34.5" letter-spacing="3.10" style="stroke-width:0.3px">**</text>
<text x="553.4" y="1253.2" font-size="34.5" letter-spacing="3.10" style="stroke-width:0.3px">**</text>
</g>
<g id="lb2">
<path d="M822.5 1145.2L871.2 1145.2" stroke="#000" stroke-width="3.7" stroke-linecap="round"/>
<path d="M830 1128.2L864 1162.2M830 1162.2L864 1128.2" stroke="#000" stroke-width="4.4" fill="none"/>
<text transform="translate(900.8 1159.3) scale(1 1.000)" font-size="37" xml:space="preserve" textLength="139.1" lengthAdjust="spacingAndGlyphs"><tspan class="sym" font-size="45.1">α</tspan>CTLA4</text>
<path d="M822.5 1213.9L871.2 1213.9" stroke="#4f8f00" stroke-width="3.7" stroke-linecap="round"/>
<path d="M847 1198.1L863.4 1229.8L830.6 1229.8Z" fill="#4f8f00"/>
<text transform="translate(900.8 1227.5) scale(1 1.000)" font-size="37" xml:space="preserve" textLength="136.3" lengthAdjust="spacingAndGlyphs">αTGFβ3</text>
<path d="M822.5 1280L871.2 1280" stroke="#4f8f00" stroke-width="3.7" stroke-linecap="round"/>
<path d="M847 1266.3L861.9 1295.4L832.1 1295.4Z" fill="none" stroke="#4f8f00" stroke-width="4.2" stroke-linejoin="round"/>
<text transform="translate(900.8 1292.7) scale(1 1.000)" font-size="37" xml:space="preserve" textLength="321.8" lengthAdjust="spacingAndGlyphs">αTGFβ3 + <tspan class="sym" font-size="45.1">α</tspan>CTLA4</text>
<path d="M1057.3 1137.3L1078.7 1138.6Q1084.4 1139.2 1084.7 1141.9L1084.7 1226.3Q1084.4 1229 1078.7 1229.6L1057.3 1230.9" fill="none" stroke="#000" stroke-width="3.4" stroke-linejoin="round"/>
<path d="M1239 1192L1259.2 1193.3Q1264.9 1193.9 1265.2 1196.6L1265.2 1279.4Q1264.9 1282.1 1259.2 1282.7L1239 1284" fill="none" stroke="#000" stroke-width="3.4" stroke-linejoin="round"/>
<text x="1109.1" y="1205.9" font-size="34.5" letter-spacing="4.10" style="stroke-width:0.3px">**</text>
<text x="1280" y="1248.1" font-size="34.5" letter-spacing="3.30" style="stroke-width:0.3px">**</text>
</g>
<g id="lb3">
<path d="M1492.8 1162L1539.6 1162" stroke="#000" stroke-width="3.7" stroke-linecap="round"/>
<path d="M1499.7 1145.7L1532.3 1178.3M1499.7 1178.3L1532.3 1145.7" stroke="#000" stroke-width="4.4" fill="none"/>
<text transform="translate(1570.6 1175.7) scale(1 1.000)" font-size="35.8" xml:space="preserve" textLength="134.3" lengthAdjust="spacingAndGlyphs"><tspan class="sym" font-size="43.7">α</tspan>CTLA4</text>
<path d="M1492.8 1224.4L1539.6 1224.4" stroke="#9437ff" stroke-width="3.7" stroke-linecap="round"/>
<path d="M1516 1209.1L1531.5 1224.4L1516 1239.7L1500.5 1224.4Z" fill="#9437ff"/>
<text transform="translate(1570.6 1236.7) scale(1 1.000)" font-size="35.8" xml:space="preserve" textLength="76.5" lengthAdjust="spacingAndGlyphs">1D11</text>
<path d="M1492.8 1288L1539.6 1288" stroke="#9437ff" stroke-width="3.7" stroke-linecap="round"/>
<path d="M1516 1272.2L1529.8 1288L1516 1303.8L1502.2 1288Z" fill="none" stroke="#9437ff" stroke-width="4.2" stroke-linejoin="miter"/>
<text transform="translate(1570.6 1300.4) scale(1 1.000)" font-size="35.8" xml:space="preserve" textLength="255.8" lengthAdjust="spacingAndGlyphs">1D11 + <tspan class="sym" font-size="43.7">α</tspan>CTLA4</text>
<path d="M1725.4 1156.2L1746.1 1157.5Q1751.8 1158.1 1752.1 1160.8L1752.1 1235Q1751.8 1237.7 1746.1 1238.3L1725.4 1239.6" fill="none" stroke="#000" stroke-width="3.4" stroke-linejoin="round"/>
<path d="M1849.4 1206.9L1869.7 1208.2Q1875.4 1208.8 1875.7 1211.5L1875.7 1284.9Q1875.4 1287.6 1869.7 1288.2L1849.4 1289.5" fill="none" stroke="#000" stroke-width="3.4" stroke-linejoin="round"/>
<text x="1773.4" y="1213.3" font-size="34.5" letter-spacing="2.54" style="stroke-width:0.3px">***</text>
<text x="1897.2" y="1264.6" font-size="34.5" letter-spacing="2.74" style="stroke-width:0.3px">***</text>
</g>
<g id="lc1">
<path d="M99.7 1957.9L144.5 1957.9" stroke="#000" stroke-width="3.7" stroke-linecap="round"/>
<path d="M111 1947.1L132.6 1968.7M111 1968.7L132.6 1947.1M121.8 1942.9L121.8 1972.9" stroke="#000" stroke-width="4.3" fill="none"/>
<text transform="translate(171.9 1970.1) scale(1 1.085)" font-size="33.3" xml:space="preserve" textLength="94.6" lengthAdjust="spacingAndGlyphs">αPD-1</text>
<path d="M99.7 2013.4L144.5 2013.4" stroke="#ff2600" stroke-width="3.7" stroke-linecap="round"/>
<rect x="107.1" y="1998.4" width="29.3" height="30" fill="#ff2600"/>
<text transform="translate(171.9 2025.1) scale(1 1.085)" font-size="33.3" xml:space="preserve" textLength="124.5" lengthAdjust="spacingAndGlyphs">αTGFβ1</text>
<path d="M99.7 2062.7L144.5 2062.7" stroke="#ff2600" stroke-width="3.7" stroke-linecap="round"/>
<rect x="107.5" y="2048.4" width="28.6" height="28.6" rx="1.5" fill="none" stroke="#ff2600" stroke-width="4.4"/>
<text transform="translate(171.9 2074.6) scale(1 1.085)" font-size="33.3" xml:space="preserve" textLength="263.3" lengthAdjust="spacingAndGlyphs">αTGFβ1 + αPD-1</text>
<path d="M315.8 1949.9L336.1 1951.2Q341.8 1951.8 342.1 1954.5L342.1 2017.8Q341.8 2020.5 336.1 2021.1L315.8 2022.4" fill="none" stroke="#000" stroke-width="3.4" stroke-linejoin="round"/>
<path d="M450.1 1987.8L470.4 1989.1Q476.1 1989.7 476.4 1992.4L476.4 2061.7Q476.1 2064.4 470.4 2065L450.1 2066.3" fill="none" stroke="#000" stroke-width="3.4" stroke-linejoin="round"/>
<path d="M543.6 1952.2L569.5 1953.5Q575.2 1954.1 575.5 1956.8L575.5 2061.7Q575.2 2064.4 569.5 2065L543.6 2066.3" fill="none" stroke="#000" stroke-width="3.4" stroke-linejoin="round"/>
<text x="368.1" y="1999.6" font-size="34.5" letter-spacing="2.60" style="stroke-width:0.3px">**</text>
<text x="491.9" y="2036.9" font-size="34.5" letter-spacing="2.99" style="stroke-width:0.3px">****</text>
<text x="589.3" y="2022" font-size="34.5" letter-spacing="2.60" style="stroke-width:0.3px">**</text>
</g>
<g id="lc2">
<path d="M882.7 1952.8L923.3 1952.8" stroke="#000" stroke-width="3.7" stroke-linecap="round"/>
<path d="M893 1942.5L913.6 1963.1M893 1963.1L913.6 1942.5M903.3 1938.5L903.3 1967.1" stroke="#000" stroke-width="4.3" fill="none"/>
<text transform="translate(948.7 1964.2) scale(1 1.100)" font-size="30" xml:space="preserve" textLength="85.4" lengthAdjust="spacingAndGlyphs">αPD-1</text>
<path d="M882.7 2005.1L923.3 2005.1" stroke="#4f8f00" stroke-width="3.7" stroke-linecap="round"/>
<path d="M903.3 1991.6L917 2018.6L889.5 2018.6Z" fill="#4f8f00"/>
<text transform="translate(948.7 2016.1) scale(1 1.100)" font-size="30" xml:space="preserve" textLength="115.8" lengthAdjust="spacingAndGlyphs">αTGFβ3</text>
<path d="M882.7 2057.9L923.3 2057.9" stroke="#4f8f00" stroke-width="3.7" stroke-linecap="round"/>
<path d="M903.3 2046.7L915.4 2070.8L891.2 2070.8Z" fill="none" stroke="#4f8f00" stroke-width="4.2" stroke-linejoin="round"/>
<text transform="translate(948.7 2068.7) scale(1 1.100)" font-size="30" xml:space="preserve" textLength="239.1" lengthAdjust="spacingAndGlyphs">αTGFβ3 + αPD-1</text>
<path d="M1077.9 1936.4L1098.2 1937.7Q1103.9 1938.3 1104.2 1941L1104.2 2004.1Q1103.9 2006.8 1098.2 2007.4L1077.9 2008.7" fill="none" stroke="#000" stroke-width="3.4" stroke-linejoin="round"/>
<path d="M1207.2 1983.3L1227.4 1984.6Q1233.1 1985.2 1233.4 1987.9L1233.4 2059.3Q1233.1 2062 1227.4 2062.6L1207.2 2063.9" fill="none" stroke="#000" stroke-width="3.4" stroke-linejoin="round"/>
<text x="1125.2" y="1982.9" font-size="34" letter-spacing="0.00" style="stroke-width:0.3px">*</text>
<text x="1258" y="2035.1" font-size="34" letter-spacing="3.12" style="stroke-width:0.3px">***</text>
</g>
<g id="lc3">
<path d="M1510.4 1956.7L1555.4 1956.7" stroke="#000" stroke-width="3.7" stroke-linecap="round"/>
<path d="M1522.2 1946.1L1543.4 1967.3M1522.2 1967.3L1543.4 1946.1M1532.8 1942L1532.8 1971.5" stroke="#000" stroke-width="4.3" fill="none"/>
<text transform="translate(1582.6 1968.7) scale(1 1.075)" font-size="33.6" xml:space="preserve" textLength="96.1" lengthAdjust="spacingAndGlyphs">αPD-1</text>
<path d="M1510.4 2006.6L1555.4 2006.6" stroke="#9437ff" stroke-width="3.7" stroke-linecap="round"/>
<path d="M1532.8 1991.6L1546.8 2006.6L1532.8 2021.6L1518.8 2006.6Z" fill="#9437ff"/>
<text transform="translate(1582.6 2018.5) scale(1 1.075)" font-size="33.6" xml:space="preserve" textLength="75.8" lengthAdjust="spacingAndGlyphs">1D11</text>
<path d="M1510.4 2054.3L1555.4 2054.3" stroke="#9437ff" stroke-width="3.7" stroke-linecap="round"/>
<path d="M1532.8 2040.1L1545 2054.3L1532.8 2068.6L1520.5 2054.3Z" fill="none" stroke="#9437ff" stroke-width="4.2" stroke-linejoin="miter"/>
<text transform="translate(1582.6 2066.3) scale(1 1.075)" font-size="33.6" xml:space="preserve" textLength="217" lengthAdjust="spacingAndGlyphs">1D11 + αPD-1</text>
<path d="M1702 1950.4L1722.9 1951.7Q1728.6 1952.3 1728.9 1955L1728.9 2005Q1728.6 2007.7 1722.9 2008.3L1702 2009.6" fill="none" stroke="#000" stroke-width="3.4" stroke-linejoin="round"/>
<path d="M1812.5 1986.3L1833.3 1987.6Q1839 1988.2 1839.3 1990.9L1839.3 2053.6Q1839 2056.3 1833.3 2056.9L1812.5 2058.2" fill="none" stroke="#000" stroke-width="3.4" stroke-linejoin="round"/>
<text x="1748.3" y="1991.5" font-size="34.5" letter-spacing="0.00" style="stroke-width:0.3px">*</text>
<text x="1865.6" y="2033.3" font-size="34.5" letter-spacing="2.59" style="stroke-width:0.3px">****</text>
</g>
</svg>
</body>
</html>
